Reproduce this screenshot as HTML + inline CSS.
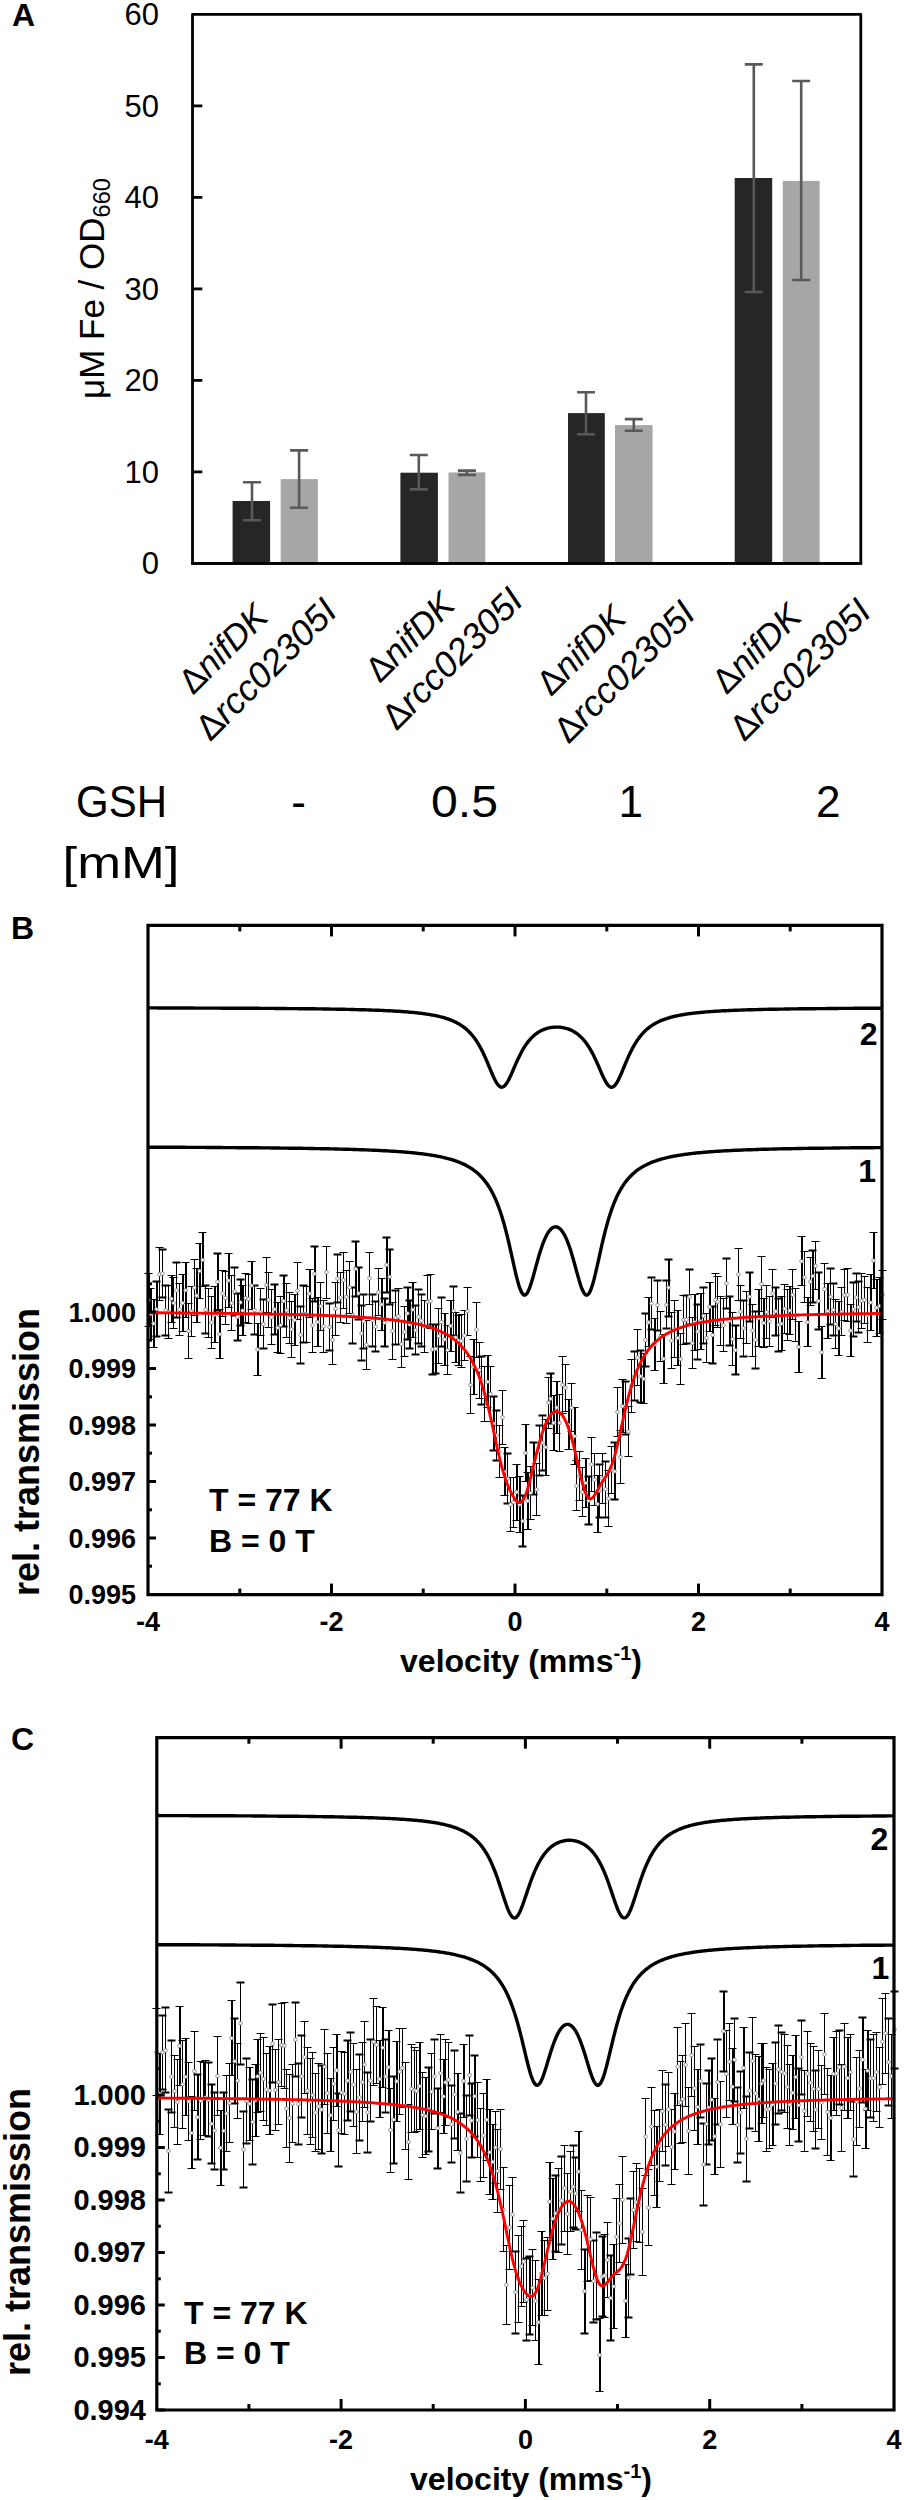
<!DOCTYPE html><html><head><meta charset="utf-8"><style>html,body{margin:0;padding:0;background:#fff;overflow:hidden;}svg{display:block}</style></head><body>
<svg width="904" height="2500" viewBox="0 0 904 2500">
<rect width="904" height="2500" fill="#fff"/>
<path d="M192.5 14.4 H860.8 V563.4 H192.5 Z" fill="none" stroke="#000" stroke-width="2.8" stroke-linejoin="round"/>
<line x1="192.5" y1="471.9" x2="202.3" y2="471.9" stroke="#000" stroke-width="2.8"/>
<line x1="192.5" y1="380.4" x2="202.3" y2="380.4" stroke="#000" stroke-width="2.8"/>
<line x1="192.5" y1="288.9" x2="202.3" y2="288.9" stroke="#000" stroke-width="2.8"/>
<line x1="192.5" y1="197.4" x2="202.3" y2="197.4" stroke="#000" stroke-width="2.8"/>
<line x1="192.5" y1="105.9" x2="202.3" y2="105.9" stroke="#000" stroke-width="2.8"/>
<text x="159" y="574.4" font-size="31" text-anchor="end" font-family='"Liberation Sans", sans-serif'>0</text>
<text x="159" y="482.9" font-size="31" text-anchor="end" font-family='"Liberation Sans", sans-serif'>10</text>
<text x="159" y="391.4" font-size="31" text-anchor="end" font-family='"Liberation Sans", sans-serif'>20</text>
<text x="159" y="299.9" font-size="31" text-anchor="end" font-family='"Liberation Sans", sans-serif'>30</text>
<text x="159" y="208.4" font-size="31" text-anchor="end" font-family='"Liberation Sans", sans-serif'>40</text>
<text x="159" y="116.9" font-size="31" text-anchor="end" font-family='"Liberation Sans", sans-serif'>50</text>
<text x="159" y="25.4" font-size="31" text-anchor="end" font-family='"Liberation Sans", sans-serif'>60</text>
<rect x="232.6" y="501.0" width="37.5" height="62.4" fill="#262626"/>
<rect x="280.7" y="479.1" width="37.2" height="84.3" fill="#a6a6a6"/>
<rect x="400.4" y="472.7" width="37.5" height="90.7" fill="#262626"/>
<rect x="448.5" y="472.4" width="36.8" height="91.0" fill="#a6a6a6"/>
<rect x="568.0" y="413.1" width="36.8" height="150.3" fill="#262626"/>
<rect x="615.0" y="425.1" width="37.6" height="138.3" fill="#a6a6a6"/>
<rect x="734.7" y="178.0" width="37.5" height="385.4" fill="#262626"/>
<rect x="782.8" y="180.9" width="36.8" height="382.5" fill="#a6a6a6"/>
<path d="M252.0 482.3 V520.2 M243.0 482.3 H261.0 M243.0 520.2 H261.0" stroke="#595959" stroke-width="2.6" fill="none"/>
<path d="M299.1 450.4 V507.8 M290.1 450.4 H308.1 M290.1 507.8 H308.1" stroke="#595959" stroke-width="2.6" fill="none"/>
<path d="M418.8 455.0 V489.4 M409.8 455.0 H427.8 M409.8 489.4 H427.8" stroke="#595959" stroke-width="2.6" fill="none"/>
<path d="M466.9 470.6 V474.9 M457.9 470.6 H475.9 M457.9 474.9 H475.9" stroke="#595959" stroke-width="2.6" fill="none"/>
<path d="M586.0 392.2 V434.3 M577.0 392.2 H595.0 M577.0 434.3 H595.0" stroke="#595959" stroke-width="2.6" fill="none"/>
<path d="M633.8 419.1 V430.8 M624.8 419.1 H642.8 M624.8 430.8 H642.8" stroke="#595959" stroke-width="2.6" fill="none"/>
<path d="M753.8 64.4 V292.0 M744.8 64.4 H762.8 M744.8 292.0 H762.8" stroke="#595959" stroke-width="2.6" fill="none"/>
<path d="M801.2 81.0 V280.0 M792.2 81.0 H810.2 M792.2 280.0 H810.2" stroke="#595959" stroke-width="2.6" fill="none"/>
<line x1="191.1" y1="563.4" x2="862.2" y2="563.4" stroke="#000" stroke-width="2.8"/>
<text transform="translate(104.3 399) rotate(-90)" font-size="35" font-family='"Liberation Sans", sans-serif'>&#956;M Fe / OD<tspan font-size="23.5" dy="6">660</tspan></text>
<text transform="translate(193.0 695.8) rotate(-45)" font-size="35" font-family='"Liberation Sans", sans-serif'>&#916;<tspan font-style="italic">nifDK</tspan></text>
<text transform="translate(210.3 742.3) rotate(-45)" font-size="36" font-family='"Liberation Sans", sans-serif'>&#916;<tspan font-style="italic">rcc02305I</tspan></text>
<text transform="translate(379.8 684.0) rotate(-45)" font-size="35" font-family='"Liberation Sans", sans-serif'>&#916;<tspan font-style="italic">nifDK</tspan></text>
<text transform="translate(396.4 731.5) rotate(-45)" font-size="36" font-family='"Liberation Sans", sans-serif'>&#916;<tspan font-style="italic">rcc02305I</tspan></text>
<text transform="translate(550.9 697.3) rotate(-45)" font-size="35" font-family='"Liberation Sans", sans-serif'>&#916;<tspan font-style="italic">nifDK</tspan></text>
<text transform="translate(568.6 744.8) rotate(-45)" font-size="36" font-family='"Liberation Sans", sans-serif'>&#916;<tspan font-style="italic">rcc02305I</tspan></text>
<text transform="translate(726.5 695.5) rotate(-45)" font-size="35" font-family='"Liberation Sans", sans-serif'>&#916;<tspan font-style="italic">nifDK</tspan></text>
<text transform="translate(744.2 742.6) rotate(-45)" font-size="36" font-family='"Liberation Sans", sans-serif'>&#916;<tspan font-style="italic">rcc02305I</tspan></text>
<text x="76" y="817" font-size="44" textLength="91" lengthAdjust="spacingAndGlyphs" font-family='"Liberation Sans", sans-serif'>GSH</text>
<text x="62.5" y="878" font-size="44" textLength="117" lengthAdjust="spacingAndGlyphs" font-family='"Liberation Sans", sans-serif'>[mM]</text>
<text x="298.6" y="817" font-size="44" text-anchor="middle" font-family='"Liberation Sans", sans-serif'>-</text>
<text x="431" y="817" font-size="44" textLength="67" lengthAdjust="spacingAndGlyphs" font-family='"Liberation Sans", sans-serif'>0.5</text>
<text x="630.8" y="817" font-size="44" text-anchor="middle" font-family='"Liberation Sans", sans-serif'>1</text>
<text x="828.3" y="817" font-size="44" text-anchor="middle" font-family='"Liberation Sans", sans-serif'>2</text>
<text x="12" y="26" font-size="32" font-weight="bold" font-family='"Liberation Sans", sans-serif'>A</text>
<path d="M159.5 1247.5 V1300.5 M162.5 1249.5 V1297.5 M165.5 1285.5 V1335.5 M168.5 1285.5 V1338.5 M173.5 1277.5 V1328.5 M176.5 1262.5 V1317.5 M179.5 1283.5 V1335.5 M188.5 1303.5 V1358.5 M191.5 1286.5 V1336.5 M194.5 1259.5 V1315.5 M205.5 1285.5 V1333.5 M208.5 1288.5 V1337.5 M211.5 1296.5 V1348.5 M222.5 1270.5 V1316.5 M225.5 1271.5 V1324.5 M231.5 1275.5 V1330.5 M234.5 1267.5 V1315.5 M245.5 1273.5 V1322.5 M248.5 1274.5 V1323.5 M254.5 1285.5 V1334.5 M260.5 1288.5 V1335.5 M263.5 1299.5 V1348.5 M266.5 1257.5 V1312.5 M268.5 1272.5 V1327.5 M271.5 1289.5 V1344.5 M280.5 1296.5 V1353.5 M286.5 1283.5 V1337.5 M289.5 1292.5 V1343.5 M291.5 1301.5 V1357.5 M297.5 1262.5 V1319.5 M300.5 1306.5 V1363.5 M303.5 1285.5 V1342.5 M306.5 1286.5 V1342.5 M312.5 1298.5 V1352.5 M320.5 1282.5 V1330.5 M323.5 1300.5 V1352.5 M326.5 1246.5 V1298.5 M329.5 1303.5 V1350.5 M332.5 1315.5 V1364.5 M335.5 1282.5 V1335.5 M337.5 1254.5 V1302.5 M340.5 1272.5 V1322.5 M343.5 1252.5 V1308.5 M346.5 1270.5 V1323.5 M349.5 1261.5 V1313.5 M352.5 1287.5 V1343.5 M361.5 1305.5 V1360.5 M363.5 1294.5 V1348.5 M366.5 1320.5 V1369.5 M369.5 1252.5 V1304.5 M372.5 1294.5 V1346.5 M375.5 1301.5 V1351.5 M378.5 1268.5 V1315.5 M392.5 1302.5 V1359.5 M395.5 1290.5 V1344.5 M398.5 1288.5 V1344.5 M401.5 1320.5 V1367.5 M404.5 1306.5 V1356.5 M415.5 1305.5 V1354.5 M418.5 1289.5 V1343.5 M421.5 1294.5 V1346.5 M424.5 1300.5 V1352.5 M427.5 1275.5 V1327.5 M430.5 1274.5 V1328.5 M438.5 1308.5 V1363.5 M441.5 1297.5 V1346.5 M447.5 1325.5 V1374.5 M453.5 1286.5 V1335.5 M461.5 1314.5 V1367.5 M464.5 1310.5 V1360.5 M467.5 1287.5 V1335.5 M470.5 1356.5 V1413.5 M476.5 1302.5 V1357.5 M479.5 1342.5 V1398.5 M481.5 1356.5 V1404.5 M484.5 1366.5 V1421.5 M490.5 1366.5 V1421.5 M496.5 1410.5 V1460.5 M499.5 1425.5 V1477.5 M502.5 1390.5 V1444.5 M507.5 1453.5 V1503.5 M510.5 1477.5 V1531.5 M513.5 1477.5 V1527.5 M530.5 1466.5 V1519.5 M536.5 1463.5 V1515.5 M539.5 1425.5 V1475.5 M542.5 1415.5 V1470.5 M548.5 1377.5 V1428.5 M559.5 1394.5 V1451.5 M562.5 1356.5 V1413.5 M565.5 1364.5 V1411.5 M571.5 1383.5 V1431.5 M576.5 1460.5 V1510.5 M579.5 1451.5 V1500.5 M582.5 1467.5 V1516.5 M591.5 1437.5 V1491.5 M594.5 1453.5 V1505.5 M599.5 1464.5 V1517.5 M602.5 1453.5 V1503.5 M605.5 1461.5 V1517.5 M608.5 1470.5 V1526.5 M611.5 1446.5 V1493.5 M617.5 1387.5 V1436.5 M620.5 1430.5 V1483.5 M625.5 1381.5 V1434.5 M628.5 1406.5 V1456.5 M631.5 1359.5 V1412.5 M634.5 1351.5 V1400.5 M637.5 1329.5 V1385.5 M645.5 1313.5 V1366.5 M651.5 1277.5 V1329.5 M657.5 1280.5 V1330.5 M660.5 1311.5 V1361.5 M666.5 1280.5 V1328.5 M671.5 1312.5 V1368.5 M674.5 1300.5 V1357.5 M680.5 1333.5 V1384.5 M683.5 1295.5 V1344.5 M686.5 1295.5 V1343.5 M689.5 1269.5 V1324.5 M692.5 1317.5 V1368.5 M697.5 1304.5 V1359.5 M703.5 1287.5 V1343.5 M706.5 1313.5 V1362.5 M715.5 1273.5 V1325.5 M717.5 1276.5 V1327.5 M720.5 1296.5 V1345.5 M723.5 1298.5 V1351.5 M726.5 1258.5 V1308.5 M732.5 1312.5 V1365.5 M738.5 1248.5 V1300.5 M740.5 1285.5 V1338.5 M743.5 1300.5 V1356.5 M746.5 1291.5 V1343.5 M752.5 1304.5 V1356.5 M755.5 1311.5 V1368.5 M761.5 1256.5 V1311.5 M766.5 1285.5 V1338.5 M769.5 1296.5 V1346.5 M772.5 1269.5 V1317.5 M778.5 1298.5 V1351.5 M784.5 1284.5 V1333.5 M787.5 1289.5 V1340.5 M792.5 1269.5 V1319.5 M795.5 1288.5 V1341.5 M804.5 1251.5 V1302.5 M810.5 1257.5 V1305.5 M815.5 1241.5 V1289.5 M824.5 1263.5 V1314.5 M830.5 1268.5 V1324.5 M833.5 1283.5 V1335.5 M835.5 1299.5 V1348.5 M841.5 1287.5 V1335.5 M844.5 1269.5 V1320.5 M847.5 1268.5 V1321.5 M853.5 1282.5 V1336.5 M856.5 1273.5 V1321.5 M858.5 1281.5 V1332.5 M861.5 1273.5 V1328.5 M864.5 1276.5 V1323.5 M867.5 1287.5 V1342.5 M882.5 1270.5 V1319.5" stroke="#000" stroke-width="1" fill="none" shape-rendering="crispEdges"/>
<path d="M149.0 1273.5 V1326.5 M151.0 1288.5 V1339.5 M154.0 1299.5 V1347.5 M157.0 1281.5 V1336.5 M172.0 1275.5 V1322.5 M183.0 1274.5 V1331.5 M186.0 1262.5 V1317.5 M197.0 1268.5 V1322.5 M200.0 1243.5 V1298.5 M203.0 1232.5 V1286.5 M215.0 1286.5 V1342.5 M218.0 1253.5 V1310.5 M220.0 1309.5 V1358.5 M229.0 1253.5 V1307.5 M238.0 1293.5 V1340.5 M241.0 1279.5 V1325.5 M243.0 1285.5 V1335.5 M252.0 1261.5 V1309.5 M258.0 1323.5 V1375.5 M275.0 1284.5 V1334.5 M278.0 1302.5 V1352.5 M284.0 1275.5 V1326.5 M295.0 1294.5 V1345.5 M310.0 1269.5 V1317.5 M315.0 1246.5 V1301.5 M318.0 1297.5 V1346.5 M356.0 1241.5 V1296.5 M359.0 1267.5 V1319.5 M382.0 1278.5 V1330.5 M385.0 1298.5 V1346.5 M387.0 1237.5 V1292.5 M390.0 1249.5 V1304.5 M408.0 1287.5 V1339.5 M410.0 1300.5 V1348.5 M413.0 1282.5 V1337.5 M433.0 1324.5 V1374.5 M436.0 1324.5 V1373.5 M445.0 1313.5 V1365.5 M451.0 1300.5 V1351.5 M456.0 1312.5 V1362.5 M459.0 1315.5 V1365.5 M474.0 1339.5 V1394.5 M488.0 1355.5 V1407.5 M494.0 1396.5 V1450.5 M505.0 1447.5 V1495.5 M517.0 1464.5 V1520.5 M520.0 1476.5 V1532.5 M523.0 1495.5 V1546.5 M526.0 1424.5 V1481.5 M528.0 1472.5 V1529.5 M534.0 1442.5 V1494.5 M546.0 1419.5 V1475.5 M551.0 1373.5 V1423.5 M554.0 1395.5 V1450.5 M557.0 1381.5 V1433.5 M569.0 1399.5 V1449.5 M575.0 1407.5 V1464.5 M586.0 1458.5 V1507.5 M589.0 1476.5 V1524.5 M598.0 1475.5 V1532.5 M615.0 1442.5 V1499.5 M623.0 1379.5 V1432.5 M641.0 1350.5 V1402.5 M644.0 1353.5 V1403.5 M649.0 1297.5 V1346.5 M655.0 1318.5 V1370.5 M664.0 1334.5 V1383.5 M669.0 1259.5 V1316.5 M678.0 1310.5 V1365.5 M695.0 1294.5 V1350.5 M701.0 1293.5 V1349.5 M710.0 1282.5 V1331.5 M713.0 1306.5 V1363.5 M730.0 1296.5 V1345.5 M736.0 1325.5 V1374.5 M750.0 1272.5 V1321.5 M759.0 1289.5 V1346.5 M764.0 1298.5 V1347.5 M776.0 1287.5 V1335.5 M782.0 1296.5 V1350.5 M790.0 1286.5 V1334.5 M799.0 1321.5 V1372.5 M802.0 1236.5 V1285.5 M808.0 1297.5 V1346.5 M813.0 1250.5 V1302.5 M819.0 1272.5 V1329.5 M822.0 1326.5 V1378.5 M828.0 1283.5 V1338.5 M839.0 1301.5 V1355.5 M851.0 1304.5 V1356.5 M871.0 1274.5 V1330.5 M874.0 1232.5 V1288.5 M877.0 1279.5 V1336.5 M880.0 1277.5 V1333.5" stroke="#000" stroke-width="2" fill="none" shape-rendering="crispEdges"/>
<path d="M144.5 1273.5 H152.5 M144.5 1326.5 H152.5 M146.5 1288.5 H154.5 M146.5 1339.5 H154.5 M149.5 1299.5 H157.5 M149.5 1347.5 H157.5 M155.5 1247.5 H163.5 M155.5 1300.5 H163.5 M164.5 1285.5 H172.5 M164.5 1338.5 H172.5 M167.5 1275.5 H175.5 M167.5 1322.5 H175.5 M169.5 1277.5 H177.5 M169.5 1328.5 H177.5 M175.5 1283.5 H183.5 M175.5 1335.5 H183.5 M178.5 1274.5 H186.5 M178.5 1331.5 H186.5 M181.5 1262.5 H189.5 M181.5 1317.5 H189.5 M184.5 1303.5 H192.5 M184.5 1358.5 H192.5 M187.5 1286.5 H195.5 M187.5 1336.5 H195.5 M190.5 1259.5 H198.5 M190.5 1315.5 H198.5 M192.5 1268.5 H200.5 M192.5 1322.5 H200.5 M195.5 1243.5 H203.5 M195.5 1298.5 H203.5 M198.5 1232.5 H206.5 M198.5 1286.5 H206.5 M204.5 1288.5 H212.5 M204.5 1337.5 H212.5 M207.5 1296.5 H215.5 M207.5 1348.5 H215.5 M210.5 1286.5 H218.5 M210.5 1342.5 H218.5 M215.5 1309.5 H223.5 M215.5 1358.5 H223.5 M218.5 1270.5 H226.5 M218.5 1316.5 H226.5 M221.5 1271.5 H229.5 M221.5 1324.5 H229.5 M224.5 1253.5 H232.5 M224.5 1307.5 H232.5 M227.5 1275.5 H235.5 M227.5 1330.5 H235.5 M238.5 1285.5 H246.5 M238.5 1335.5 H246.5 M241.5 1273.5 H249.5 M241.5 1322.5 H249.5 M244.5 1274.5 H252.5 M244.5 1323.5 H252.5 M247.5 1261.5 H255.5 M247.5 1309.5 H255.5 M253.5 1323.5 H261.5 M253.5 1375.5 H261.5 M256.5 1288.5 H264.5 M256.5 1335.5 H264.5 M262.5 1257.5 H270.5 M262.5 1312.5 H270.5 M264.5 1272.5 H272.5 M264.5 1327.5 H272.5 M267.5 1289.5 H275.5 M267.5 1344.5 H275.5 M273.5 1302.5 H281.5 M273.5 1352.5 H281.5 M276.5 1296.5 H284.5 M276.5 1353.5 H284.5 M282.5 1283.5 H290.5 M282.5 1337.5 H290.5 M285.5 1292.5 H293.5 M285.5 1343.5 H293.5 M287.5 1301.5 H295.5 M287.5 1357.5 H295.5 M290.5 1294.5 H298.5 M290.5 1345.5 H298.5 M293.5 1262.5 H301.5 M293.5 1319.5 H301.5 M302.5 1286.5 H310.5 M302.5 1342.5 H310.5 M305.5 1269.5 H313.5 M305.5 1317.5 H313.5 M308.5 1298.5 H316.5 M308.5 1352.5 H316.5 M313.5 1297.5 H321.5 M313.5 1346.5 H321.5 M316.5 1282.5 H324.5 M316.5 1330.5 H324.5 M319.5 1300.5 H327.5 M319.5 1352.5 H327.5 M322.5 1246.5 H330.5 M322.5 1298.5 H330.5 M328.5 1315.5 H336.5 M328.5 1364.5 H336.5 M331.5 1282.5 H339.5 M331.5 1335.5 H339.5 M336.5 1272.5 H344.5 M336.5 1322.5 H344.5 M339.5 1252.5 H347.5 M339.5 1308.5 H347.5 M342.5 1270.5 H350.5 M342.5 1323.5 H350.5 M345.5 1261.5 H353.5 M345.5 1313.5 H353.5 M362.5 1320.5 H370.5 M362.5 1369.5 H370.5 M365.5 1252.5 H373.5 M365.5 1304.5 H373.5 M374.5 1268.5 H382.5 M374.5 1315.5 H382.5 M377.5 1278.5 H385.5 M377.5 1330.5 H385.5 M388.5 1302.5 H396.5 M388.5 1359.5 H396.5 M394.5 1288.5 H402.5 M394.5 1344.5 H402.5 M397.5 1320.5 H405.5 M397.5 1367.5 H405.5 M400.5 1306.5 H408.5 M400.5 1356.5 H408.5 M408.5 1282.5 H416.5 M408.5 1337.5 H416.5 M420.5 1300.5 H428.5 M420.5 1352.5 H428.5 M423.5 1275.5 H431.5 M423.5 1327.5 H431.5 M426.5 1274.5 H434.5 M426.5 1328.5 H434.5 M434.5 1308.5 H442.5 M434.5 1363.5 H442.5 M440.5 1313.5 H448.5 M440.5 1365.5 H448.5 M443.5 1325.5 H451.5 M443.5 1374.5 H451.5 M446.5 1300.5 H454.5 M446.5 1351.5 H454.5 M451.5 1312.5 H459.5 M451.5 1362.5 H459.5 M454.5 1315.5 H462.5 M454.5 1365.5 H462.5 M457.5 1314.5 H465.5 M457.5 1367.5 H465.5 M460.5 1310.5 H468.5 M460.5 1360.5 H468.5 M463.5 1287.5 H471.5 M463.5 1335.5 H471.5 M466.5 1356.5 H474.5 M466.5 1413.5 H474.5 M469.5 1339.5 H477.5 M469.5 1394.5 H477.5 M472.5 1302.5 H480.5 M472.5 1357.5 H480.5 M475.5 1342.5 H483.5 M475.5 1398.5 H483.5 M480.5 1366.5 H488.5 M480.5 1421.5 H488.5 M483.5 1355.5 H491.5 M483.5 1407.5 H491.5 M486.5 1366.5 H494.5 M486.5 1421.5 H494.5 M495.5 1425.5 H503.5 M495.5 1477.5 H503.5 M498.5 1390.5 H506.5 M498.5 1444.5 H506.5 M500.5 1447.5 H508.5 M500.5 1495.5 H508.5 M506.5 1477.5 H514.5 M506.5 1531.5 H514.5 M509.5 1477.5 H517.5 M509.5 1527.5 H517.5 M512.5 1464.5 H520.5 M512.5 1520.5 H520.5 M515.5 1476.5 H523.5 M515.5 1532.5 H523.5 M521.5 1424.5 H529.5 M521.5 1481.5 H529.5 M523.5 1472.5 H531.5 M523.5 1529.5 H531.5 M526.5 1466.5 H534.5 M526.5 1519.5 H534.5 M532.5 1463.5 H540.5 M532.5 1515.5 H540.5 M541.5 1419.5 H549.5 M541.5 1475.5 H549.5 M544.5 1377.5 H552.5 M544.5 1428.5 H552.5 M549.5 1395.5 H557.5 M549.5 1450.5 H557.5 M552.5 1381.5 H560.5 M552.5 1433.5 H560.5 M555.5 1394.5 H563.5 M555.5 1451.5 H563.5 M558.5 1356.5 H566.5 M558.5 1413.5 H566.5 M561.5 1364.5 H569.5 M561.5 1411.5 H569.5 M564.5 1399.5 H572.5 M564.5 1449.5 H572.5 M567.5 1383.5 H575.5 M567.5 1431.5 H575.5 M570.5 1407.5 H578.5 M570.5 1464.5 H578.5 M572.5 1460.5 H580.5 M572.5 1510.5 H580.5 M575.5 1451.5 H583.5 M575.5 1500.5 H583.5 M578.5 1467.5 H586.5 M578.5 1516.5 H586.5 M581.5 1458.5 H589.5 M581.5 1507.5 H589.5 M587.5 1437.5 H595.5 M587.5 1491.5 H595.5 M590.5 1453.5 H598.5 M590.5 1505.5 H598.5 M593.5 1475.5 H601.5 M593.5 1532.5 H601.5 M598.5 1453.5 H606.5 M598.5 1503.5 H606.5 M604.5 1470.5 H612.5 M604.5 1526.5 H612.5 M607.5 1446.5 H615.5 M607.5 1493.5 H615.5 M613.5 1387.5 H621.5 M613.5 1436.5 H621.5 M616.5 1430.5 H624.5 M616.5 1483.5 H624.5 M618.5 1379.5 H626.5 M618.5 1432.5 H626.5 M624.5 1406.5 H632.5 M624.5 1456.5 H632.5 M627.5 1359.5 H635.5 M627.5 1412.5 H635.5 M633.5 1329.5 H641.5 M633.5 1385.5 H641.5 M639.5 1353.5 H647.5 M639.5 1403.5 H647.5 M644.5 1297.5 H652.5 M644.5 1346.5 H652.5 M650.5 1318.5 H658.5 M650.5 1370.5 H658.5 M656.5 1311.5 H664.5 M656.5 1361.5 H664.5 M659.5 1334.5 H667.5 M659.5 1383.5 H667.5 M667.5 1312.5 H675.5 M667.5 1368.5 H675.5 M670.5 1300.5 H678.5 M670.5 1357.5 H678.5 M673.5 1310.5 H681.5 M673.5 1365.5 H681.5 M676.5 1333.5 H684.5 M676.5 1384.5 H684.5 M679.5 1295.5 H687.5 M679.5 1344.5 H687.5 M688.5 1317.5 H696.5 M688.5 1368.5 H696.5 M690.5 1294.5 H698.5 M690.5 1350.5 H698.5 M696.5 1293.5 H704.5 M696.5 1349.5 H704.5 M702.5 1313.5 H710.5 M702.5 1362.5 H710.5 M705.5 1282.5 H713.5 M705.5 1331.5 H713.5 M711.5 1273.5 H719.5 M711.5 1325.5 H719.5 M713.5 1276.5 H721.5 M713.5 1327.5 H721.5 M716.5 1296.5 H724.5 M716.5 1345.5 H724.5 M719.5 1298.5 H727.5 M719.5 1351.5 H727.5 M728.5 1312.5 H736.5 M728.5 1365.5 H736.5 M734.5 1248.5 H742.5 M734.5 1300.5 H742.5 M736.5 1285.5 H744.5 M736.5 1338.5 H744.5 M742.5 1291.5 H750.5 M742.5 1343.5 H750.5 M748.5 1304.5 H756.5 M748.5 1356.5 H756.5 M754.5 1289.5 H762.5 M754.5 1346.5 H762.5 M757.5 1256.5 H765.5 M757.5 1311.5 H765.5 M759.5 1298.5 H767.5 M759.5 1347.5 H767.5 M762.5 1285.5 H770.5 M762.5 1338.5 H770.5 M765.5 1296.5 H773.5 M765.5 1346.5 H773.5 M768.5 1269.5 H776.5 M768.5 1317.5 H776.5 M777.5 1296.5 H785.5 M777.5 1350.5 H785.5 M780.5 1284.5 H788.5 M780.5 1333.5 H788.5 M783.5 1289.5 H791.5 M783.5 1340.5 H791.5 M785.5 1286.5 H793.5 M785.5 1334.5 H793.5 M788.5 1269.5 H796.5 M788.5 1319.5 H796.5 M791.5 1288.5 H799.5 M791.5 1341.5 H799.5 M794.5 1321.5 H802.5 M794.5 1372.5 H802.5 M797.5 1236.5 H805.5 M797.5 1285.5 H805.5 M800.5 1251.5 H808.5 M800.5 1302.5 H808.5 M803.5 1297.5 H811.5 M803.5 1346.5 H811.5 M806.5 1257.5 H814.5 M806.5 1305.5 H814.5 M811.5 1241.5 H819.5 M811.5 1289.5 H819.5 M817.5 1326.5 H825.5 M817.5 1378.5 H825.5 M820.5 1263.5 H828.5 M820.5 1314.5 H828.5 M823.5 1283.5 H831.5 M823.5 1338.5 H831.5 M831.5 1299.5 H839.5 M831.5 1348.5 H839.5 M834.5 1301.5 H842.5 M834.5 1355.5 H842.5 M837.5 1287.5 H845.5 M837.5 1335.5 H845.5 M840.5 1269.5 H848.5 M840.5 1320.5 H848.5 M843.5 1268.5 H851.5 M843.5 1321.5 H851.5 M846.5 1304.5 H854.5 M846.5 1356.5 H854.5 M857.5 1273.5 H865.5 M857.5 1328.5 H865.5 M860.5 1276.5 H868.5 M860.5 1323.5 H868.5 M863.5 1287.5 H871.5 M863.5 1342.5 H871.5 M866.5 1274.5 H874.5 M866.5 1330.5 H874.5 M869.5 1232.5 H877.5 M869.5 1288.5 H877.5 M872.5 1279.5 H880.5 M872.5 1336.5 H880.5 M875.5 1277.5 H883.5 M875.5 1333.5 H883.5 M878.5 1270.5 H886.5 M878.5 1319.5 H886.5" stroke="#000" stroke-width="1.2" fill="none"/>
<path d="M152.5 1281.5 H160.5 M152.5 1336.5 H160.5 M158.5 1249.5 H166.5 M158.5 1297.5 H166.5 M161.5 1285.5 H169.5 M161.5 1335.5 H169.5 M172.5 1262.5 H180.5 M172.5 1317.5 H180.5 M201.5 1285.5 H209.5 M201.5 1333.5 H209.5 M213.5 1253.5 H221.5 M213.5 1310.5 H221.5 M230.5 1267.5 H238.5 M230.5 1315.5 H238.5 M233.5 1293.5 H241.5 M233.5 1340.5 H241.5 M236.5 1279.5 H244.5 M236.5 1325.5 H244.5 M250.5 1285.5 H258.5 M250.5 1334.5 H258.5 M259.5 1299.5 H267.5 M259.5 1348.5 H267.5 M270.5 1284.5 H278.5 M270.5 1334.5 H278.5 M279.5 1275.5 H287.5 M279.5 1326.5 H287.5 M296.5 1306.5 H304.5 M296.5 1363.5 H304.5 M299.5 1285.5 H307.5 M299.5 1342.5 H307.5 M310.5 1246.5 H318.5 M310.5 1301.5 H318.5 M325.5 1303.5 H333.5 M325.5 1350.5 H333.5 M333.5 1254.5 H341.5 M333.5 1302.5 H341.5 M348.5 1287.5 H356.5 M348.5 1343.5 H356.5 M351.5 1241.5 H359.5 M351.5 1296.5 H359.5 M354.5 1267.5 H362.5 M354.5 1319.5 H362.5 M357.5 1305.5 H365.5 M357.5 1360.5 H365.5 M359.5 1294.5 H367.5 M359.5 1348.5 H367.5 M368.5 1294.5 H376.5 M368.5 1346.5 H376.5 M371.5 1301.5 H379.5 M371.5 1351.5 H379.5 M380.5 1298.5 H388.5 M380.5 1346.5 H388.5 M382.5 1237.5 H390.5 M382.5 1292.5 H390.5 M385.5 1249.5 H393.5 M385.5 1304.5 H393.5 M391.5 1290.5 H399.5 M391.5 1344.5 H399.5 M403.5 1287.5 H411.5 M403.5 1339.5 H411.5 M405.5 1300.5 H413.5 M405.5 1348.5 H413.5 M411.5 1305.5 H419.5 M411.5 1354.5 H419.5 M414.5 1289.5 H422.5 M414.5 1343.5 H422.5 M417.5 1294.5 H425.5 M417.5 1346.5 H425.5 M428.5 1324.5 H436.5 M428.5 1374.5 H436.5 M431.5 1324.5 H439.5 M431.5 1373.5 H439.5 M437.5 1297.5 H445.5 M437.5 1346.5 H445.5 M449.5 1286.5 H457.5 M449.5 1335.5 H457.5 M477.5 1356.5 H485.5 M477.5 1404.5 H485.5 M489.5 1396.5 H497.5 M489.5 1450.5 H497.5 M492.5 1410.5 H500.5 M492.5 1460.5 H500.5 M503.5 1453.5 H511.5 M503.5 1503.5 H511.5 M518.5 1495.5 H526.5 M518.5 1546.5 H526.5 M529.5 1442.5 H537.5 M529.5 1494.5 H537.5 M535.5 1425.5 H543.5 M535.5 1475.5 H543.5 M538.5 1415.5 H546.5 M538.5 1470.5 H546.5 M546.5 1373.5 H554.5 M546.5 1423.5 H554.5 M584.5 1476.5 H592.5 M584.5 1524.5 H592.5 M595.5 1464.5 H603.5 M595.5 1517.5 H603.5 M601.5 1461.5 H609.5 M601.5 1517.5 H609.5 M610.5 1442.5 H618.5 M610.5 1499.5 H618.5 M621.5 1381.5 H629.5 M621.5 1434.5 H629.5 M630.5 1351.5 H638.5 M630.5 1400.5 H638.5 M636.5 1350.5 H644.5 M636.5 1402.5 H644.5 M641.5 1313.5 H649.5 M641.5 1366.5 H649.5 M647.5 1277.5 H655.5 M647.5 1329.5 H655.5 M653.5 1280.5 H661.5 M653.5 1330.5 H661.5 M662.5 1280.5 H670.5 M662.5 1328.5 H670.5 M664.5 1259.5 H672.5 M664.5 1316.5 H672.5 M682.5 1295.5 H690.5 M682.5 1343.5 H690.5 M685.5 1269.5 H693.5 M685.5 1324.5 H693.5 M693.5 1304.5 H701.5 M693.5 1359.5 H701.5 M699.5 1287.5 H707.5 M699.5 1343.5 H707.5 M708.5 1306.5 H716.5 M708.5 1363.5 H716.5 M722.5 1258.5 H730.5 M722.5 1308.5 H730.5 M725.5 1296.5 H733.5 M725.5 1345.5 H733.5 M731.5 1325.5 H739.5 M731.5 1374.5 H739.5 M739.5 1300.5 H747.5 M739.5 1356.5 H747.5 M745.5 1272.5 H753.5 M745.5 1321.5 H753.5 M751.5 1311.5 H759.5 M751.5 1368.5 H759.5 M771.5 1287.5 H779.5 M771.5 1335.5 H779.5 M774.5 1298.5 H782.5 M774.5 1351.5 H782.5 M808.5 1250.5 H816.5 M808.5 1302.5 H816.5 M814.5 1272.5 H822.5 M814.5 1329.5 H822.5 M826.5 1268.5 H834.5 M826.5 1324.5 H834.5 M829.5 1283.5 H837.5 M829.5 1335.5 H837.5 M849.5 1282.5 H857.5 M849.5 1336.5 H857.5 M852.5 1273.5 H860.5 M852.5 1321.5 H860.5 M854.5 1281.5 H862.5 M854.5 1332.5 H862.5" stroke="#000" stroke-width="2" fill="none"/>
<g fill="#fff" stroke="#666" stroke-width="0.7"><circle cx="148.5" cy="1300.2" r="1.8"/><circle cx="150.5" cy="1314.0" r="1.8"/><circle cx="153.5" cy="1323.5" r="1.8"/><circle cx="156.5" cy="1309.3" r="1.8"/><circle cx="159.5" cy="1274.4" r="1.8"/><circle cx="162.5" cy="1273.5" r="1.8"/><circle cx="165.5" cy="1310.4" r="1.8"/><circle cx="168.5" cy="1312.0" r="1.8"/><circle cx="171.5" cy="1298.7" r="1.8"/><circle cx="173.5" cy="1303.0" r="1.8"/><circle cx="176.5" cy="1290.4" r="1.8"/><circle cx="179.5" cy="1309.4" r="1.8"/><circle cx="182.5" cy="1303.1" r="1.8"/><circle cx="185.5" cy="1290.3" r="1.8"/><circle cx="188.5" cy="1331.0" r="1.8"/><circle cx="191.5" cy="1311.6" r="1.8"/><circle cx="194.5" cy="1287.7" r="1.8"/><circle cx="196.5" cy="1295.6" r="1.8"/><circle cx="199.5" cy="1271.0" r="1.8"/><circle cx="202.5" cy="1259.9" r="1.8"/><circle cx="205.5" cy="1309.6" r="1.8"/><circle cx="208.5" cy="1313.1" r="1.8"/><circle cx="211.5" cy="1322.5" r="1.8"/><circle cx="214.5" cy="1314.8" r="1.8"/><circle cx="217.5" cy="1281.7" r="1.8"/><circle cx="219.5" cy="1334.3" r="1.8"/><circle cx="222.5" cy="1293.5" r="1.8"/><circle cx="225.5" cy="1298.0" r="1.8"/><circle cx="228.5" cy="1280.6" r="1.8"/><circle cx="231.5" cy="1303.1" r="1.8"/><circle cx="234.5" cy="1291.4" r="1.8"/><circle cx="237.5" cy="1316.9" r="1.8"/><circle cx="240.5" cy="1302.4" r="1.8"/><circle cx="242.5" cy="1310.6" r="1.8"/><circle cx="245.5" cy="1298.0" r="1.8"/><circle cx="248.5" cy="1299.0" r="1.8"/><circle cx="251.5" cy="1285.5" r="1.8"/><circle cx="254.5" cy="1310.2" r="1.8"/><circle cx="257.5" cy="1349.6" r="1.8"/><circle cx="260.5" cy="1312.3" r="1.8"/><circle cx="263.5" cy="1324.1" r="1.8"/><circle cx="266.5" cy="1285.0" r="1.8"/><circle cx="268.5" cy="1299.9" r="1.8"/><circle cx="271.5" cy="1317.3" r="1.8"/><circle cx="274.5" cy="1309.3" r="1.8"/><circle cx="277.5" cy="1327.7" r="1.8"/><circle cx="280.5" cy="1325.2" r="1.8"/><circle cx="283.5" cy="1301.1" r="1.8"/><circle cx="286.5" cy="1310.4" r="1.8"/><circle cx="289.5" cy="1318.0" r="1.8"/><circle cx="291.5" cy="1329.3" r="1.8"/><circle cx="294.5" cy="1320.1" r="1.8"/><circle cx="297.5" cy="1290.7" r="1.8"/><circle cx="300.5" cy="1334.9" r="1.8"/><circle cx="303.5" cy="1314.0" r="1.8"/><circle cx="306.5" cy="1314.3" r="1.8"/><circle cx="309.5" cy="1293.6" r="1.8"/><circle cx="312.5" cy="1325.4" r="1.8"/><circle cx="314.5" cy="1273.8" r="1.8"/><circle cx="317.5" cy="1322.0" r="1.8"/><circle cx="320.5" cy="1306.3" r="1.8"/><circle cx="323.5" cy="1326.2" r="1.8"/><circle cx="326.5" cy="1272.3" r="1.8"/><circle cx="329.5" cy="1327.0" r="1.8"/><circle cx="332.5" cy="1340.1" r="1.8"/><circle cx="335.5" cy="1308.8" r="1.8"/><circle cx="337.5" cy="1278.5" r="1.8"/><circle cx="340.5" cy="1297.5" r="1.8"/><circle cx="343.5" cy="1280.2" r="1.8"/><circle cx="346.5" cy="1297.0" r="1.8"/><circle cx="349.5" cy="1287.4" r="1.8"/><circle cx="352.5" cy="1315.4" r="1.8"/><circle cx="355.5" cy="1268.9" r="1.8"/><circle cx="358.5" cy="1293.4" r="1.8"/><circle cx="361.5" cy="1333.4" r="1.8"/><circle cx="363.5" cy="1321.4" r="1.8"/><circle cx="366.5" cy="1344.7" r="1.8"/><circle cx="369.5" cy="1278.4" r="1.8"/><circle cx="372.5" cy="1320.3" r="1.8"/><circle cx="375.5" cy="1326.7" r="1.8"/><circle cx="378.5" cy="1292.4" r="1.8"/><circle cx="381.5" cy="1304.5" r="1.8"/><circle cx="384.5" cy="1322.8" r="1.8"/><circle cx="386.5" cy="1264.9" r="1.8"/><circle cx="389.5" cy="1276.9" r="1.8"/><circle cx="392.5" cy="1330.9" r="1.8"/><circle cx="395.5" cy="1317.9" r="1.8"/><circle cx="398.5" cy="1316.4" r="1.8"/><circle cx="401.5" cy="1344.1" r="1.8"/><circle cx="404.5" cy="1331.7" r="1.8"/><circle cx="407.5" cy="1313.4" r="1.8"/><circle cx="409.5" cy="1324.4" r="1.8"/><circle cx="412.5" cy="1309.7" r="1.8"/><circle cx="415.5" cy="1330.3" r="1.8"/><circle cx="418.5" cy="1316.8" r="1.8"/><circle cx="421.5" cy="1320.7" r="1.8"/><circle cx="424.5" cy="1326.3" r="1.8"/><circle cx="427.5" cy="1301.7" r="1.8"/><circle cx="430.5" cy="1301.3" r="1.8"/><circle cx="432.5" cy="1349.4" r="1.8"/><circle cx="435.5" cy="1348.9" r="1.8"/><circle cx="438.5" cy="1336.1" r="1.8"/><circle cx="441.5" cy="1322.0" r="1.8"/><circle cx="444.5" cy="1339.4" r="1.8"/><circle cx="447.5" cy="1350.2" r="1.8"/><circle cx="450.5" cy="1325.9" r="1.8"/><circle cx="453.5" cy="1310.8" r="1.8"/><circle cx="455.5" cy="1337.6" r="1.8"/><circle cx="458.5" cy="1340.6" r="1.8"/><circle cx="461.5" cy="1340.9" r="1.8"/><circle cx="464.5" cy="1335.6" r="1.8"/><circle cx="467.5" cy="1311.3" r="1.8"/><circle cx="470.5" cy="1385.0" r="1.8"/><circle cx="473.5" cy="1366.8" r="1.8"/><circle cx="476.5" cy="1329.6" r="1.8"/><circle cx="479.5" cy="1370.1" r="1.8"/><circle cx="481.5" cy="1380.2" r="1.8"/><circle cx="484.5" cy="1394.0" r="1.8"/><circle cx="487.5" cy="1381.8" r="1.8"/><circle cx="490.5" cy="1394.1" r="1.8"/><circle cx="493.5" cy="1423.6" r="1.8"/><circle cx="496.5" cy="1435.6" r="1.8"/><circle cx="499.5" cy="1451.4" r="1.8"/><circle cx="502.5" cy="1417.4" r="1.8"/><circle cx="504.5" cy="1471.8" r="1.8"/><circle cx="507.5" cy="1478.8" r="1.8"/><circle cx="510.5" cy="1504.5" r="1.8"/><circle cx="513.5" cy="1502.2" r="1.8"/><circle cx="516.5" cy="1492.1" r="1.8"/><circle cx="519.5" cy="1504.5" r="1.8"/><circle cx="522.5" cy="1521.1" r="1.8"/><circle cx="525.5" cy="1453.0" r="1.8"/><circle cx="527.5" cy="1500.9" r="1.8"/><circle cx="530.5" cy="1493.0" r="1.8"/><circle cx="533.5" cy="1468.1" r="1.8"/><circle cx="536.5" cy="1489.5" r="1.8"/><circle cx="539.5" cy="1450.4" r="1.8"/><circle cx="542.5" cy="1442.7" r="1.8"/><circle cx="545.5" cy="1447.2" r="1.8"/><circle cx="548.5" cy="1402.7" r="1.8"/><circle cx="550.5" cy="1398.7" r="1.8"/><circle cx="553.5" cy="1422.9" r="1.8"/><circle cx="556.5" cy="1407.6" r="1.8"/><circle cx="559.5" cy="1422.9" r="1.8"/><circle cx="562.5" cy="1384.8" r="1.8"/><circle cx="565.5" cy="1387.9" r="1.8"/><circle cx="568.5" cy="1424.8" r="1.8"/><circle cx="571.5" cy="1407.8" r="1.8"/><circle cx="574.5" cy="1436.3" r="1.8"/><circle cx="576.5" cy="1485.9" r="1.8"/><circle cx="579.5" cy="1476.2" r="1.8"/><circle cx="582.5" cy="1492.3" r="1.8"/><circle cx="585.5" cy="1483.0" r="1.8"/><circle cx="588.5" cy="1500.7" r="1.8"/><circle cx="591.5" cy="1464.4" r="1.8"/><circle cx="594.5" cy="1479.7" r="1.8"/><circle cx="597.5" cy="1504.1" r="1.8"/><circle cx="599.5" cy="1490.7" r="1.8"/><circle cx="602.5" cy="1478.5" r="1.8"/><circle cx="605.5" cy="1489.3" r="1.8"/><circle cx="608.5" cy="1498.6" r="1.8"/><circle cx="611.5" cy="1470.0" r="1.8"/><circle cx="614.5" cy="1471.4" r="1.8"/><circle cx="617.5" cy="1412.1" r="1.8"/><circle cx="620.5" cy="1457.2" r="1.8"/><circle cx="622.5" cy="1406.2" r="1.8"/><circle cx="625.5" cy="1407.8" r="1.8"/><circle cx="628.5" cy="1431.6" r="1.8"/><circle cx="631.5" cy="1386.0" r="1.8"/><circle cx="634.5" cy="1376.2" r="1.8"/><circle cx="637.5" cy="1357.6" r="1.8"/><circle cx="640.5" cy="1376.3" r="1.8"/><circle cx="643.5" cy="1378.9" r="1.8"/><circle cx="645.5" cy="1339.9" r="1.8"/><circle cx="648.5" cy="1322.4" r="1.8"/><circle cx="651.5" cy="1303.5" r="1.8"/><circle cx="654.5" cy="1344.6" r="1.8"/><circle cx="657.5" cy="1305.1" r="1.8"/><circle cx="660.5" cy="1336.4" r="1.8"/><circle cx="663.5" cy="1358.8" r="1.8"/><circle cx="666.5" cy="1304.8" r="1.8"/><circle cx="668.5" cy="1287.6" r="1.8"/><circle cx="671.5" cy="1340.6" r="1.8"/><circle cx="674.5" cy="1329.2" r="1.8"/><circle cx="677.5" cy="1338.0" r="1.8"/><circle cx="680.5" cy="1359.1" r="1.8"/><circle cx="683.5" cy="1320.0" r="1.8"/><circle cx="686.5" cy="1319.7" r="1.8"/><circle cx="689.5" cy="1296.9" r="1.8"/><circle cx="692.5" cy="1343.1" r="1.8"/><circle cx="694.5" cy="1322.2" r="1.8"/><circle cx="697.5" cy="1331.6" r="1.8"/><circle cx="700.5" cy="1321.3" r="1.8"/><circle cx="703.5" cy="1315.9" r="1.8"/><circle cx="706.5" cy="1338.0" r="1.8"/><circle cx="709.5" cy="1306.9" r="1.8"/><circle cx="712.5" cy="1335.1" r="1.8"/><circle cx="715.5" cy="1299.9" r="1.8"/><circle cx="717.5" cy="1301.9" r="1.8"/><circle cx="720.5" cy="1320.9" r="1.8"/><circle cx="723.5" cy="1325.3" r="1.8"/><circle cx="726.5" cy="1283.5" r="1.8"/><circle cx="729.5" cy="1320.8" r="1.8"/><circle cx="732.5" cy="1339.2" r="1.8"/><circle cx="735.5" cy="1350.2" r="1.8"/><circle cx="738.5" cy="1274.5" r="1.8"/><circle cx="740.5" cy="1311.8" r="1.8"/><circle cx="743.5" cy="1328.3" r="1.8"/><circle cx="746.5" cy="1317.6" r="1.8"/><circle cx="749.5" cy="1296.7" r="1.8"/><circle cx="752.5" cy="1330.5" r="1.8"/><circle cx="755.5" cy="1339.7" r="1.8"/><circle cx="758.5" cy="1318.2" r="1.8"/><circle cx="761.5" cy="1284.2" r="1.8"/><circle cx="763.5" cy="1323.0" r="1.8"/><circle cx="766.5" cy="1312.1" r="1.8"/><circle cx="769.5" cy="1321.3" r="1.8"/><circle cx="772.5" cy="1293.4" r="1.8"/><circle cx="775.5" cy="1311.4" r="1.8"/><circle cx="778.5" cy="1324.7" r="1.8"/><circle cx="781.5" cy="1323.7" r="1.8"/><circle cx="784.5" cy="1308.7" r="1.8"/><circle cx="787.5" cy="1315.1" r="1.8"/><circle cx="789.5" cy="1310.6" r="1.8"/><circle cx="792.5" cy="1294.9" r="1.8"/><circle cx="795.5" cy="1315.1" r="1.8"/><circle cx="798.5" cy="1347.0" r="1.8"/><circle cx="801.5" cy="1261.3" r="1.8"/><circle cx="804.5" cy="1277.3" r="1.8"/><circle cx="807.5" cy="1322.2" r="1.8"/><circle cx="810.5" cy="1281.7" r="1.8"/><circle cx="812.5" cy="1276.1" r="1.8"/><circle cx="815.5" cy="1265.9" r="1.8"/><circle cx="818.5" cy="1301.1" r="1.8"/><circle cx="821.5" cy="1352.4" r="1.8"/><circle cx="824.5" cy="1289.2" r="1.8"/><circle cx="827.5" cy="1311.1" r="1.8"/><circle cx="830.5" cy="1296.8" r="1.8"/><circle cx="833.5" cy="1309.8" r="1.8"/><circle cx="835.5" cy="1324.0" r="1.8"/><circle cx="838.5" cy="1328.5" r="1.8"/><circle cx="841.5" cy="1312.0" r="1.8"/><circle cx="844.5" cy="1295.2" r="1.8"/><circle cx="847.5" cy="1294.9" r="1.8"/><circle cx="850.5" cy="1330.6" r="1.8"/><circle cx="853.5" cy="1309.5" r="1.8"/><circle cx="856.5" cy="1297.4" r="1.8"/><circle cx="858.5" cy="1307.2" r="1.8"/><circle cx="861.5" cy="1300.8" r="1.8"/><circle cx="864.5" cy="1300.0" r="1.8"/><circle cx="867.5" cy="1314.9" r="1.8"/><circle cx="870.5" cy="1302.6" r="1.8"/><circle cx="873.5" cy="1260.5" r="1.8"/><circle cx="876.5" cy="1307.8" r="1.8"/><circle cx="879.5" cy="1305.9" r="1.8"/><circle cx="882.5" cy="1294.9" r="1.8"/></g>
<path d="M148.0 1007.9 L149.0 1007.9 L150.0 1007.9 L151.0 1007.9 L152.0 1007.9 L153.0 1007.9 L154.0 1007.9 L155.0 1007.9 L156.0 1007.9 L157.0 1007.9 L158.0 1008.0 L159.0 1008.0 L160.0 1008.0 L161.0 1008.0 L162.0 1008.0 L163.0 1008.0 L164.0 1008.0 L165.0 1008.0 L166.0 1008.0 L167.0 1008.0 L168.0 1008.0 L169.0 1008.0 L170.0 1008.0 L171.0 1008.0 L172.0 1008.0 L173.0 1008.0 L174.0 1008.0 L175.0 1008.0 L176.0 1008.0 L177.0 1008.0 L178.0 1008.0 L179.0 1008.0 L180.0 1008.0 L181.0 1008.0 L182.0 1008.0 L183.0 1008.0 L184.0 1008.0 L185.0 1008.0 L186.0 1008.0 L187.0 1008.0 L188.0 1008.0 L189.0 1008.0 L190.0 1008.0 L191.0 1008.0 L192.0 1008.0 L193.0 1008.0 L194.0 1008.1 L195.0 1008.1 L196.0 1008.1 L197.0 1008.1 L198.0 1008.1 L199.0 1008.1 L200.0 1008.1 L201.0 1008.1 L202.0 1008.1 L203.0 1008.1 L204.0 1008.1 L205.0 1008.1 L206.0 1008.1 L207.0 1008.1 L208.0 1008.1 L209.0 1008.1 L210.0 1008.1 L211.0 1008.1 L212.0 1008.1 L213.0 1008.1 L214.0 1008.1 L215.0 1008.1 L216.0 1008.1 L217.0 1008.1 L218.0 1008.1 L219.0 1008.1 L220.0 1008.1 L221.0 1008.2 L222.0 1008.2 L223.0 1008.2 L224.0 1008.2 L225.0 1008.2 L226.0 1008.2 L227.0 1008.2 L228.0 1008.2 L229.0 1008.2 L230.0 1008.2 L231.0 1008.2 L232.0 1008.2 L233.0 1008.2 L234.0 1008.2 L235.0 1008.2 L236.0 1008.2 L237.0 1008.2 L238.0 1008.2 L239.0 1008.2 L240.0 1008.2 L241.0 1008.2 L242.0 1008.2 L243.0 1008.3 L244.0 1008.3 L245.0 1008.3 L246.0 1008.3 L247.0 1008.3 L248.0 1008.3 L249.0 1008.3 L250.0 1008.3 L251.0 1008.3 L252.0 1008.3 L253.0 1008.3 L254.0 1008.3 L255.0 1008.3 L256.0 1008.3 L257.0 1008.3 L258.0 1008.3 L259.0 1008.3 L260.0 1008.4 L261.0 1008.4 L262.0 1008.4 L263.0 1008.4 L264.0 1008.4 L265.0 1008.4 L266.0 1008.4 L267.0 1008.4 L268.0 1008.4 L269.0 1008.4 L270.0 1008.4 L271.0 1008.4 L272.0 1008.4 L273.0 1008.4 L274.0 1008.4 L275.0 1008.5 L276.0 1008.5 L277.0 1008.5 L278.0 1008.5 L279.0 1008.5 L280.0 1008.5 L281.0 1008.5 L282.0 1008.5 L283.0 1008.5 L284.0 1008.5 L285.0 1008.5 L286.0 1008.5 L287.0 1008.6 L288.0 1008.6 L289.0 1008.6 L290.0 1008.6 L291.0 1008.6 L292.0 1008.6 L293.0 1008.6 L294.0 1008.6 L295.0 1008.6 L296.0 1008.6 L297.0 1008.6 L298.0 1008.7 L299.0 1008.7 L300.0 1008.7 L301.0 1008.7 L302.0 1008.7 L303.0 1008.7 L304.0 1008.7 L305.0 1008.7 L306.0 1008.7 L307.0 1008.8 L308.0 1008.8 L309.0 1008.8 L310.0 1008.8 L311.0 1008.8 L312.0 1008.8 L313.0 1008.8 L314.0 1008.8 L315.0 1008.8 L316.0 1008.9 L317.0 1008.9 L318.0 1008.9 L319.0 1008.9 L320.0 1008.9 L321.0 1008.9 L322.0 1008.9 L323.0 1009.0 L324.0 1009.0 L325.0 1009.0 L326.0 1009.0 L327.0 1009.0 L328.0 1009.0 L329.0 1009.0 L330.0 1009.1 L331.0 1009.1 L332.0 1009.1 L333.0 1009.1 L334.0 1009.1 L335.0 1009.1 L336.0 1009.2 L337.0 1009.2 L338.0 1009.2 L339.0 1009.2 L340.0 1009.2 L341.0 1009.3 L342.0 1009.3 L343.0 1009.3 L344.0 1009.3 L345.0 1009.3 L346.0 1009.4 L347.0 1009.4 L348.0 1009.4 L349.0 1009.4 L350.0 1009.4 L351.0 1009.5 L352.0 1009.5 L353.0 1009.5 L354.0 1009.5 L355.0 1009.6 L356.0 1009.6 L357.0 1009.6 L358.0 1009.6 L359.0 1009.7 L360.0 1009.7 L361.0 1009.7 L362.0 1009.7 L363.0 1009.8 L364.0 1009.8 L365.0 1009.8 L366.0 1009.9 L367.0 1009.9 L368.0 1009.9 L369.0 1010.0 L370.0 1010.0 L371.0 1010.0 L372.0 1010.1 L373.0 1010.1 L374.0 1010.1 L375.0 1010.2 L376.0 1010.2 L377.0 1010.2 L378.0 1010.3 L379.0 1010.3 L380.0 1010.4 L381.0 1010.4 L382.0 1010.4 L383.0 1010.5 L384.0 1010.5 L385.0 1010.6 L386.0 1010.6 L387.0 1010.7 L388.0 1010.7 L389.0 1010.8 L390.0 1010.8 L391.0 1010.9 L392.0 1010.9 L393.0 1011.0 L394.0 1011.0 L395.0 1011.1 L396.0 1011.2 L397.0 1011.2 L398.0 1011.3 L399.0 1011.3 L400.0 1011.4 L401.0 1011.5 L402.0 1011.5 L403.0 1011.6 L404.0 1011.7 L405.0 1011.8 L406.0 1011.8 L407.0 1011.9 L408.0 1012.0 L409.0 1012.1 L410.0 1012.2 L411.0 1012.3 L412.0 1012.4 L413.0 1012.4 L414.0 1012.5 L415.0 1012.6 L416.0 1012.7 L417.0 1012.9 L418.0 1013.0 L419.0 1013.1 L420.0 1013.2 L421.0 1013.3 L422.0 1013.4 L423.0 1013.6 L424.0 1013.7 L425.0 1013.8 L426.0 1014.0 L427.0 1014.1 L428.0 1014.3 L429.0 1014.4 L430.0 1014.6 L431.0 1014.8 L432.0 1015.0 L433.0 1015.1 L434.0 1015.3 L435.0 1015.5 L436.0 1015.7 L437.0 1016.0 L438.0 1016.2 L439.0 1016.4 L440.0 1016.7 L441.0 1016.9 L442.0 1017.2 L443.0 1017.4 L444.0 1017.7 L445.0 1018.0 L446.0 1018.3 L447.0 1018.7 L448.0 1019.0 L449.0 1019.3 L450.0 1019.7 L451.0 1020.1 L452.0 1020.5 L453.0 1020.9 L454.0 1021.4 L455.0 1021.9 L456.0 1022.3 L457.0 1022.9 L458.0 1023.4 L459.0 1024.0 L460.0 1024.6 L461.0 1025.2 L462.0 1025.9 L463.0 1026.6 L464.0 1027.3 L465.0 1028.1 L466.0 1028.9 L467.0 1029.8 L468.0 1030.7 L469.0 1031.7 L470.0 1032.7 L471.0 1033.8 L472.0 1035.0 L473.0 1036.2 L474.0 1037.5 L475.0 1038.8 L476.0 1040.3 L477.0 1041.8 L478.0 1043.4 L479.0 1045.1 L480.0 1046.8 L481.0 1048.7 L482.0 1050.6 L483.0 1052.6 L484.0 1054.8 L485.0 1056.9 L486.0 1059.2 L487.0 1061.5 L488.0 1063.9 L489.0 1066.3 L490.0 1068.7 L491.0 1071.1 L492.0 1073.5 L493.0 1075.8 L494.0 1078.0 L495.0 1080.0 L496.0 1081.8 L497.0 1083.5 L498.0 1084.8 L499.0 1085.9 L500.0 1086.7 L501.0 1087.1 L502.0 1087.2 L503.0 1086.9 L504.0 1086.3 L505.0 1085.4 L506.0 1084.2 L507.0 1082.7 L508.0 1081.0 L509.0 1079.1 L510.0 1077.0 L511.0 1074.9 L512.0 1072.6 L513.0 1070.3 L514.0 1068.0 L515.0 1065.7 L516.0 1063.4 L517.0 1061.2 L518.0 1059.0 L519.0 1056.9 L520.0 1054.9 L521.0 1053.0 L522.0 1051.1 L523.0 1049.4 L524.0 1047.7 L525.0 1046.1 L526.0 1044.6 L527.0 1043.2 L528.0 1041.9 L529.0 1040.7 L530.0 1039.5 L531.0 1038.4 L532.0 1037.4 L533.0 1036.4 L534.0 1035.5 L535.0 1034.7 L536.0 1033.9 L537.0 1033.2 L538.0 1032.5 L539.0 1031.9 L540.0 1031.3 L541.0 1030.8 L542.0 1030.3 L543.0 1029.8 L544.0 1029.4 L545.0 1029.1 L546.0 1028.7 L547.0 1028.4 L548.0 1028.1 L549.0 1027.9 L550.0 1027.7 L551.0 1027.5 L552.0 1027.4 L553.0 1027.3 L554.0 1027.2 L555.0 1027.1 L556.0 1027.1 L557.0 1027.1 L558.0 1027.1 L559.0 1027.1 L560.0 1027.2 L561.0 1027.3 L562.0 1027.5 L563.0 1027.6 L564.0 1027.8 L565.0 1028.1 L566.0 1028.3 L567.0 1028.6 L568.0 1028.9 L569.0 1029.3 L570.0 1029.7 L571.0 1030.1 L572.0 1030.6 L573.0 1031.1 L574.0 1031.7 L575.0 1032.3 L576.0 1033.0 L577.0 1033.7 L578.0 1034.4 L579.0 1035.3 L580.0 1036.1 L581.0 1037.1 L582.0 1038.1 L583.0 1039.2 L584.0 1040.3 L585.0 1041.5 L586.0 1042.8 L587.0 1044.2 L588.0 1045.7 L589.0 1047.2 L590.0 1048.9 L591.0 1050.6 L592.0 1052.4 L593.0 1054.3 L594.0 1056.3 L595.0 1058.4 L596.0 1060.5 L597.0 1062.7 L598.0 1065.0 L599.0 1067.3 L600.0 1069.6 L601.0 1071.9 L602.0 1074.2 L603.0 1076.4 L604.0 1078.5 L605.0 1080.4 L606.0 1082.2 L607.0 1083.8 L608.0 1085.1 L609.0 1086.1 L610.0 1086.8 L611.0 1087.2 L612.0 1087.2 L613.0 1086.8 L614.0 1086.2 L615.0 1085.2 L616.0 1083.9 L617.0 1082.4 L618.0 1080.6 L619.0 1078.6 L620.0 1076.4 L621.0 1074.2 L622.0 1071.8 L623.0 1069.4 L624.0 1067.0 L625.0 1064.6 L626.0 1062.2 L627.0 1059.9 L628.0 1057.6 L629.0 1055.4 L630.0 1053.3 L631.0 1051.2 L632.0 1049.3 L633.0 1047.4 L634.0 1045.6 L635.0 1043.9 L636.0 1042.3 L637.0 1040.7 L638.0 1039.3 L639.0 1037.9 L640.0 1036.6 L641.0 1035.3 L642.0 1034.2 L643.0 1033.1 L644.0 1032.0 L645.0 1031.0 L646.0 1030.1 L647.0 1029.2 L648.0 1028.4 L649.0 1027.6 L650.0 1026.8 L651.0 1026.1 L652.0 1025.4 L653.0 1024.8 L654.0 1024.2 L655.0 1023.6 L656.0 1023.0 L657.0 1022.5 L658.0 1022.0 L659.0 1021.5 L660.0 1021.1 L661.0 1020.6 L662.0 1020.2 L663.0 1019.8 L664.0 1019.5 L665.0 1019.1 L666.0 1018.8 L667.0 1018.4 L668.0 1018.1 L669.0 1017.8 L670.0 1017.5 L671.0 1017.2 L672.0 1017.0 L673.0 1016.7 L674.0 1016.5 L675.0 1016.2 L676.0 1016.0 L677.0 1015.8 L678.0 1015.6 L679.0 1015.4 L680.0 1015.2 L681.0 1015.0 L682.0 1014.8 L683.0 1014.7 L684.0 1014.5 L685.0 1014.3 L686.0 1014.2 L687.0 1014.0 L688.0 1013.9 L689.0 1013.7 L690.0 1013.6 L691.0 1013.5 L692.0 1013.4 L693.0 1013.2 L694.0 1013.1 L695.0 1013.0 L696.0 1012.9 L697.0 1012.8 L698.0 1012.7 L699.0 1012.6 L700.0 1012.5 L701.0 1012.4 L702.0 1012.3 L703.0 1012.2 L704.0 1012.1 L705.0 1012.0 L706.0 1011.9 L707.0 1011.9 L708.0 1011.8 L709.0 1011.7 L710.0 1011.6 L711.0 1011.6 L712.0 1011.5 L713.0 1011.4 L714.0 1011.4 L715.0 1011.3 L716.0 1011.2 L717.0 1011.2 L718.0 1011.1 L719.0 1011.1 L720.0 1011.0 L721.0 1010.9 L722.0 1010.9 L723.0 1010.8 L724.0 1010.8 L725.0 1010.7 L726.0 1010.7 L727.0 1010.6 L728.0 1010.6 L729.0 1010.5 L730.0 1010.5 L731.0 1010.5 L732.0 1010.4 L733.0 1010.4 L734.0 1010.3 L735.0 1010.3 L736.0 1010.2 L737.0 1010.2 L738.0 1010.2 L739.0 1010.1 L740.0 1010.1 L741.0 1010.1 L742.0 1010.0 L743.0 1010.0 L744.0 1010.0 L745.0 1009.9 L746.0 1009.9 L747.0 1009.9 L748.0 1009.8 L749.0 1009.8 L750.0 1009.8 L751.0 1009.8 L752.0 1009.7 L753.0 1009.7 L754.0 1009.7 L755.0 1009.6 L756.0 1009.6 L757.0 1009.6 L758.0 1009.6 L759.0 1009.5 L760.0 1009.5 L761.0 1009.5 L762.0 1009.5 L763.0 1009.4 L764.0 1009.4 L765.0 1009.4 L766.0 1009.4 L767.0 1009.4 L768.0 1009.3 L769.0 1009.3 L770.0 1009.3 L771.0 1009.3 L772.0 1009.3 L773.0 1009.2 L774.0 1009.2 L775.0 1009.2 L776.0 1009.2 L777.0 1009.2 L778.0 1009.2 L779.0 1009.1 L780.0 1009.1 L781.0 1009.1 L782.0 1009.1 L783.0 1009.1 L784.0 1009.1 L785.0 1009.0 L786.0 1009.0 L787.0 1009.0 L788.0 1009.0 L789.0 1009.0 L790.0 1009.0 L791.0 1008.9 L792.0 1008.9 L793.0 1008.9 L794.0 1008.9 L795.0 1008.9 L796.0 1008.9 L797.0 1008.9 L798.0 1008.9 L799.0 1008.8 L800.0 1008.8 L801.0 1008.8 L802.0 1008.8 L803.0 1008.8 L804.0 1008.8 L805.0 1008.8 L806.0 1008.8 L807.0 1008.7 L808.0 1008.7 L809.0 1008.7 L810.0 1008.7 L811.0 1008.7 L812.0 1008.7 L813.0 1008.7 L814.0 1008.7 L815.0 1008.7 L816.0 1008.6 L817.0 1008.6 L818.0 1008.6 L819.0 1008.6 L820.0 1008.6 L821.0 1008.6 L822.0 1008.6 L823.0 1008.6 L824.0 1008.6 L825.0 1008.6 L826.0 1008.6 L827.0 1008.5 L828.0 1008.5 L829.0 1008.5 L830.0 1008.5 L831.0 1008.5 L832.0 1008.5 L833.0 1008.5 L834.0 1008.5 L835.0 1008.5 L836.0 1008.5 L837.0 1008.5 L838.0 1008.5 L839.0 1008.4 L840.0 1008.4 L841.0 1008.4 L842.0 1008.4 L843.0 1008.4 L844.0 1008.4 L845.0 1008.4 L846.0 1008.4 L847.0 1008.4 L848.0 1008.4 L849.0 1008.4 L850.0 1008.4 L851.0 1008.4 L852.0 1008.4 L853.0 1008.4 L854.0 1008.3 L855.0 1008.3 L856.0 1008.3 L857.0 1008.3 L858.0 1008.3 L859.0 1008.3 L860.0 1008.3 L861.0 1008.3 L862.0 1008.3 L863.0 1008.3 L864.0 1008.3 L865.0 1008.3 L866.0 1008.3 L867.0 1008.3 L868.0 1008.3 L869.0 1008.3 L870.0 1008.3 L871.0 1008.2 L872.0 1008.2 L873.0 1008.2 L874.0 1008.2 L875.0 1008.2 L876.0 1008.2 L877.0 1008.2 L878.0 1008.2 L879.0 1008.2 L880.0 1008.2 L881.0 1008.2 L882.0 1008.2" stroke="#000" stroke-width="3.4" fill="none" stroke-linejoin="round"/>
<path d="M148.0 1147.2 L149.0 1147.2 L150.0 1147.2 L151.0 1147.2 L152.0 1147.2 L153.0 1147.2 L154.0 1147.2 L155.0 1147.2 L156.0 1147.2 L157.0 1147.2 L158.0 1147.2 L159.0 1147.2 L160.0 1147.2 L161.0 1147.2 L162.0 1147.2 L163.0 1147.3 L164.0 1147.3 L165.0 1147.3 L166.0 1147.3 L167.0 1147.3 L168.0 1147.3 L169.0 1147.3 L170.0 1147.3 L171.0 1147.3 L172.0 1147.3 L173.0 1147.3 L174.0 1147.3 L175.0 1147.3 L176.0 1147.3 L177.0 1147.3 L178.0 1147.3 L179.0 1147.3 L180.0 1147.3 L181.0 1147.3 L182.0 1147.3 L183.0 1147.3 L184.0 1147.3 L185.0 1147.3 L186.0 1147.4 L187.0 1147.4 L188.0 1147.4 L189.0 1147.4 L190.0 1147.4 L191.0 1147.4 L192.0 1147.4 L193.0 1147.4 L194.0 1147.4 L195.0 1147.4 L196.0 1147.4 L197.0 1147.4 L198.0 1147.4 L199.0 1147.4 L200.0 1147.4 L201.0 1147.4 L202.0 1147.4 L203.0 1147.4 L204.0 1147.4 L205.0 1147.4 L206.0 1147.5 L207.0 1147.5 L208.0 1147.5 L209.0 1147.5 L210.0 1147.5 L211.0 1147.5 L212.0 1147.5 L213.0 1147.5 L214.0 1147.5 L215.0 1147.5 L216.0 1147.5 L217.0 1147.5 L218.0 1147.5 L219.0 1147.5 L220.0 1147.5 L221.0 1147.5 L222.0 1147.5 L223.0 1147.6 L224.0 1147.6 L225.0 1147.6 L226.0 1147.6 L227.0 1147.6 L228.0 1147.6 L229.0 1147.6 L230.0 1147.6 L231.0 1147.6 L232.0 1147.6 L233.0 1147.6 L234.0 1147.6 L235.0 1147.6 L236.0 1147.6 L237.0 1147.7 L238.0 1147.7 L239.0 1147.7 L240.0 1147.7 L241.0 1147.7 L242.0 1147.7 L243.0 1147.7 L244.0 1147.7 L245.0 1147.7 L246.0 1147.7 L247.0 1147.7 L248.0 1147.7 L249.0 1147.7 L250.0 1147.8 L251.0 1147.8 L252.0 1147.8 L253.0 1147.8 L254.0 1147.8 L255.0 1147.8 L256.0 1147.8 L257.0 1147.8 L258.0 1147.8 L259.0 1147.8 L260.0 1147.8 L261.0 1147.9 L262.0 1147.9 L263.0 1147.9 L264.0 1147.9 L265.0 1147.9 L266.0 1147.9 L267.0 1147.9 L268.0 1147.9 L269.0 1147.9 L270.0 1147.9 L271.0 1148.0 L272.0 1148.0 L273.0 1148.0 L274.0 1148.0 L275.0 1148.0 L276.0 1148.0 L277.0 1148.0 L278.0 1148.0 L279.0 1148.0 L280.0 1148.1 L281.0 1148.1 L282.0 1148.1 L283.0 1148.1 L284.0 1148.1 L285.0 1148.1 L286.0 1148.1 L287.0 1148.1 L288.0 1148.1 L289.0 1148.2 L290.0 1148.2 L291.0 1148.2 L292.0 1148.2 L293.0 1148.2 L294.0 1148.2 L295.0 1148.2 L296.0 1148.3 L297.0 1148.3 L298.0 1148.3 L299.0 1148.3 L300.0 1148.3 L301.0 1148.3 L302.0 1148.3 L303.0 1148.4 L304.0 1148.4 L305.0 1148.4 L306.0 1148.4 L307.0 1148.4 L308.0 1148.4 L309.0 1148.5 L310.0 1148.5 L311.0 1148.5 L312.0 1148.5 L313.0 1148.5 L314.0 1148.5 L315.0 1148.6 L316.0 1148.6 L317.0 1148.6 L318.0 1148.6 L319.0 1148.6 L320.0 1148.6 L321.0 1148.7 L322.0 1148.7 L323.0 1148.7 L324.0 1148.7 L325.0 1148.7 L326.0 1148.8 L327.0 1148.8 L328.0 1148.8 L329.0 1148.8 L330.0 1148.9 L331.0 1148.9 L332.0 1148.9 L333.0 1148.9 L334.0 1148.9 L335.0 1149.0 L336.0 1149.0 L337.0 1149.0 L338.0 1149.0 L339.0 1149.1 L340.0 1149.1 L341.0 1149.1 L342.0 1149.1 L343.0 1149.2 L344.0 1149.2 L345.0 1149.2 L346.0 1149.2 L347.0 1149.3 L348.0 1149.3 L349.0 1149.3 L350.0 1149.4 L351.0 1149.4 L352.0 1149.4 L353.0 1149.5 L354.0 1149.5 L355.0 1149.5 L356.0 1149.5 L357.0 1149.6 L358.0 1149.6 L359.0 1149.6 L360.0 1149.7 L361.0 1149.7 L362.0 1149.8 L363.0 1149.8 L364.0 1149.8 L365.0 1149.9 L366.0 1149.9 L367.0 1149.9 L368.0 1150.0 L369.0 1150.0 L370.0 1150.1 L371.0 1150.1 L372.0 1150.1 L373.0 1150.2 L374.0 1150.2 L375.0 1150.3 L376.0 1150.3 L377.0 1150.4 L378.0 1150.4 L379.0 1150.5 L380.0 1150.5 L381.0 1150.6 L382.0 1150.6 L383.0 1150.7 L384.0 1150.7 L385.0 1150.8 L386.0 1150.8 L387.0 1150.9 L388.0 1150.9 L389.0 1151.0 L390.0 1151.1 L391.0 1151.1 L392.0 1151.2 L393.0 1151.2 L394.0 1151.3 L395.0 1151.4 L396.0 1151.4 L397.0 1151.5 L398.0 1151.6 L399.0 1151.6 L400.0 1151.7 L401.0 1151.8 L402.0 1151.9 L403.0 1151.9 L404.0 1152.0 L405.0 1152.1 L406.0 1152.2 L407.0 1152.3 L408.0 1152.4 L409.0 1152.4 L410.0 1152.5 L411.0 1152.6 L412.0 1152.7 L413.0 1152.8 L414.0 1152.9 L415.0 1153.0 L416.0 1153.1 L417.0 1153.2 L418.0 1153.4 L419.0 1153.5 L420.0 1153.6 L421.0 1153.7 L422.0 1153.8 L423.0 1153.9 L424.0 1154.1 L425.0 1154.2 L426.0 1154.3 L427.0 1154.5 L428.0 1154.6 L429.0 1154.8 L430.0 1154.9 L431.0 1155.1 L432.0 1155.2 L433.0 1155.4 L434.0 1155.6 L435.0 1155.7 L436.0 1155.9 L437.0 1156.1 L438.0 1156.3 L439.0 1156.5 L440.0 1156.7 L441.0 1156.9 L442.0 1157.1 L443.0 1157.3 L444.0 1157.6 L445.0 1157.8 L446.0 1158.1 L447.0 1158.3 L448.0 1158.6 L449.0 1158.8 L450.0 1159.1 L451.0 1159.4 L452.0 1159.7 L453.0 1160.0 L454.0 1160.3 L455.0 1160.7 L456.0 1161.0 L457.0 1161.4 L458.0 1161.8 L459.0 1162.1 L460.0 1162.6 L461.0 1163.0 L462.0 1163.4 L463.0 1163.9 L464.0 1164.3 L465.0 1164.8 L466.0 1165.3 L467.0 1165.9 L468.0 1166.4 L469.0 1167.0 L470.0 1167.6 L471.0 1168.2 L472.0 1168.9 L473.0 1169.6 L474.0 1170.3 L475.0 1171.1 L476.0 1171.9 L477.0 1172.7 L478.0 1173.6 L479.0 1174.5 L480.0 1175.5 L481.0 1176.5 L482.0 1177.6 L483.0 1178.7 L484.0 1179.9 L485.0 1181.1 L486.0 1182.4 L487.0 1183.8 L488.0 1185.3 L489.0 1186.8 L490.0 1188.4 L491.0 1190.1 L492.0 1192.0 L493.0 1193.9 L494.0 1195.9 L495.0 1198.1 L496.0 1200.3 L497.0 1202.7 L498.0 1205.3 L499.0 1208.0 L500.0 1210.8 L501.0 1213.8 L502.0 1216.9 L503.0 1220.3 L504.0 1223.7 L505.0 1227.4 L506.0 1231.2 L507.0 1235.2 L508.0 1239.3 L509.0 1243.5 L510.0 1247.9 L511.0 1252.4 L512.0 1256.9 L513.0 1261.4 L514.0 1265.9 L515.0 1270.3 L516.0 1274.6 L517.0 1278.6 L518.0 1282.3 L519.0 1285.7 L520.0 1288.7 L521.0 1291.1 L522.0 1293.0 L523.0 1294.3 L524.0 1295.0 L525.0 1295.1 L526.0 1294.5 L527.0 1293.3 L528.0 1291.6 L529.0 1289.5 L530.0 1286.8 L531.0 1283.9 L532.0 1280.6 L533.0 1277.2 L534.0 1273.6 L535.0 1269.9 L536.0 1266.2 L537.0 1262.6 L538.0 1259.0 L539.0 1255.6 L540.0 1252.3 L541.0 1249.2 L542.0 1246.2 L543.0 1243.4 L544.0 1240.9 L545.0 1238.6 L546.0 1236.4 L547.0 1234.5 L548.0 1232.8 L549.0 1231.3 L550.0 1230.1 L551.0 1229.0 L552.0 1228.2 L553.0 1227.5 L554.0 1227.1 L555.0 1226.9 L556.0 1226.8 L557.0 1227.0 L558.0 1227.4 L559.0 1228.0 L560.0 1228.8 L561.0 1229.8 L562.0 1231.1 L563.0 1232.5 L564.0 1234.2 L565.0 1236.0 L566.0 1238.1 L567.0 1240.4 L568.0 1242.9 L569.0 1245.6 L570.0 1248.5 L571.0 1251.6 L572.0 1254.9 L573.0 1258.3 L574.0 1261.9 L575.0 1265.5 L576.0 1269.2 L577.0 1272.8 L578.0 1276.4 L579.0 1279.9 L580.0 1283.2 L581.0 1286.3 L582.0 1289.0 L583.0 1291.2 L584.0 1293.0 L585.0 1294.3 L586.0 1295.0 L587.0 1295.1 L588.0 1294.5 L589.0 1293.3 L590.0 1291.5 L591.0 1289.2 L592.0 1286.3 L593.0 1283.0 L594.0 1279.4 L595.0 1275.4 L596.0 1271.2 L597.0 1266.8 L598.0 1262.3 L599.0 1257.8 L600.0 1253.3 L601.0 1248.8 L602.0 1244.4 L603.0 1240.1 L604.0 1236.0 L605.0 1232.0 L606.0 1228.1 L607.0 1224.5 L608.0 1220.9 L609.0 1217.6 L610.0 1214.4 L611.0 1211.4 L612.0 1208.5 L613.0 1205.8 L614.0 1203.2 L615.0 1200.8 L616.0 1198.5 L617.0 1196.3 L618.0 1194.3 L619.0 1192.3 L620.0 1190.5 L621.0 1188.8 L622.0 1187.1 L623.0 1185.6 L624.0 1184.1 L625.0 1182.7 L626.0 1181.4 L627.0 1180.1 L628.0 1178.9 L629.0 1177.8 L630.0 1176.7 L631.0 1175.7 L632.0 1174.7 L633.0 1173.8 L634.0 1172.9 L635.0 1172.0 L636.0 1171.2 L637.0 1170.5 L638.0 1169.7 L639.0 1169.0 L640.0 1168.4 L641.0 1167.7 L642.0 1167.1 L643.0 1166.5 L644.0 1166.0 L645.0 1165.4 L646.0 1164.9 L647.0 1164.4 L648.0 1163.9 L649.0 1163.5 L650.0 1163.1 L651.0 1162.6 L652.0 1162.2 L653.0 1161.8 L654.0 1161.5 L655.0 1161.1 L656.0 1160.8 L657.0 1160.4 L658.0 1160.1 L659.0 1159.8 L660.0 1159.5 L661.0 1159.2 L662.0 1158.9 L663.0 1158.6 L664.0 1158.4 L665.0 1158.1 L666.0 1157.9 L667.0 1157.6 L668.0 1157.4 L669.0 1157.2 L670.0 1157.0 L671.0 1156.7 L672.0 1156.5 L673.0 1156.3 L674.0 1156.2 L675.0 1156.0 L676.0 1155.8 L677.0 1155.6 L678.0 1155.4 L679.0 1155.3 L680.0 1155.1 L681.0 1155.0 L682.0 1154.8 L683.0 1154.7 L684.0 1154.5 L685.0 1154.4 L686.0 1154.2 L687.0 1154.1 L688.0 1154.0 L689.0 1153.8 L690.0 1153.7 L691.0 1153.6 L692.0 1153.5 L693.0 1153.4 L694.0 1153.3 L695.0 1153.2 L696.0 1153.0 L697.0 1152.9 L698.0 1152.8 L699.0 1152.7 L700.0 1152.7 L701.0 1152.6 L702.0 1152.5 L703.0 1152.4 L704.0 1152.3 L705.0 1152.2 L706.0 1152.1 L707.0 1152.0 L708.0 1152.0 L709.0 1151.9 L710.0 1151.8 L711.0 1151.7 L712.0 1151.7 L713.0 1151.6 L714.0 1151.5 L715.0 1151.4 L716.0 1151.4 L717.0 1151.3 L718.0 1151.2 L719.0 1151.2 L720.0 1151.1 L721.0 1151.1 L722.0 1151.0 L723.0 1150.9 L724.0 1150.9 L725.0 1150.8 L726.0 1150.8 L727.0 1150.7 L728.0 1150.7 L729.0 1150.6 L730.0 1150.6 L731.0 1150.5 L732.0 1150.5 L733.0 1150.4 L734.0 1150.4 L735.0 1150.3 L736.0 1150.3 L737.0 1150.2 L738.0 1150.2 L739.0 1150.2 L740.0 1150.1 L741.0 1150.1 L742.0 1150.0 L743.0 1150.0 L744.0 1149.9 L745.0 1149.9 L746.0 1149.9 L747.0 1149.8 L748.0 1149.8 L749.0 1149.8 L750.0 1149.7 L751.0 1149.7 L752.0 1149.7 L753.0 1149.6 L754.0 1149.6 L755.0 1149.6 L756.0 1149.5 L757.0 1149.5 L758.0 1149.5 L759.0 1149.4 L760.0 1149.4 L761.0 1149.4 L762.0 1149.3 L763.0 1149.3 L764.0 1149.3 L765.0 1149.3 L766.0 1149.2 L767.0 1149.2 L768.0 1149.2 L769.0 1149.1 L770.0 1149.1 L771.0 1149.1 L772.0 1149.1 L773.0 1149.0 L774.0 1149.0 L775.0 1149.0 L776.0 1149.0 L777.0 1148.9 L778.0 1148.9 L779.0 1148.9 L780.0 1148.9 L781.0 1148.9 L782.0 1148.8 L783.0 1148.8 L784.0 1148.8 L785.0 1148.8 L786.0 1148.8 L787.0 1148.7 L788.0 1148.7 L789.0 1148.7 L790.0 1148.7 L791.0 1148.7 L792.0 1148.6 L793.0 1148.6 L794.0 1148.6 L795.0 1148.6 L796.0 1148.6 L797.0 1148.5 L798.0 1148.5 L799.0 1148.5 L800.0 1148.5 L801.0 1148.5 L802.0 1148.5 L803.0 1148.4 L804.0 1148.4 L805.0 1148.4 L806.0 1148.4 L807.0 1148.4 L808.0 1148.4 L809.0 1148.3 L810.0 1148.3 L811.0 1148.3 L812.0 1148.3 L813.0 1148.3 L814.0 1148.3 L815.0 1148.3 L816.0 1148.2 L817.0 1148.2 L818.0 1148.2 L819.0 1148.2 L820.0 1148.2 L821.0 1148.2 L822.0 1148.2 L823.0 1148.2 L824.0 1148.1 L825.0 1148.1 L826.0 1148.1 L827.0 1148.1 L828.0 1148.1 L829.0 1148.1 L830.0 1148.1 L831.0 1148.1 L832.0 1148.0 L833.0 1148.0 L834.0 1148.0 L835.0 1148.0 L836.0 1148.0 L837.0 1148.0 L838.0 1148.0 L839.0 1148.0 L840.0 1148.0 L841.0 1147.9 L842.0 1147.9 L843.0 1147.9 L844.0 1147.9 L845.0 1147.9 L846.0 1147.9 L847.0 1147.9 L848.0 1147.9 L849.0 1147.9 L850.0 1147.9 L851.0 1147.8 L852.0 1147.8 L853.0 1147.8 L854.0 1147.8 L855.0 1147.8 L856.0 1147.8 L857.0 1147.8 L858.0 1147.8 L859.0 1147.8 L860.0 1147.8 L861.0 1147.8 L862.0 1147.7 L863.0 1147.7 L864.0 1147.7 L865.0 1147.7 L866.0 1147.7 L867.0 1147.7 L868.0 1147.7 L869.0 1147.7 L870.0 1147.7 L871.0 1147.7 L872.0 1147.7 L873.0 1147.7 L874.0 1147.7 L875.0 1147.6 L876.0 1147.6 L877.0 1147.6 L878.0 1147.6 L879.0 1147.6 L880.0 1147.6 L881.0 1147.6 L882.0 1147.6" stroke="#000" stroke-width="3.4" fill="none" stroke-linejoin="round"/>
<path d="M148.0 1312.8 L149.0 1312.8 L150.0 1312.8 L151.0 1312.8 L152.0 1312.8 L153.0 1312.8 L154.0 1312.8 L155.0 1312.8 L156.0 1312.8 L157.0 1312.8 L158.0 1312.8 L159.0 1312.8 L160.0 1312.8 L161.0 1312.8 L162.0 1312.9 L163.0 1312.9 L164.0 1312.9 L165.0 1312.9 L166.0 1312.9 L167.0 1312.9 L168.0 1312.9 L169.0 1312.9 L170.0 1312.9 L171.0 1312.9 L172.0 1312.9 L173.0 1312.9 L174.0 1312.9 L175.0 1312.9 L176.0 1312.9 L177.0 1313.0 L178.0 1313.0 L179.0 1313.0 L180.0 1313.0 L181.0 1313.0 L182.0 1313.0 L183.0 1313.0 L184.0 1313.0 L185.0 1313.0 L186.0 1313.0 L187.0 1313.0 L188.0 1313.0 L189.0 1313.0 L190.0 1313.1 L191.0 1313.1 L192.0 1313.1 L193.0 1313.1 L194.0 1313.1 L195.0 1313.1 L196.0 1313.1 L197.0 1313.1 L198.0 1313.1 L199.0 1313.1 L200.0 1313.1 L201.0 1313.1 L202.0 1313.2 L203.0 1313.2 L204.0 1313.2 L205.0 1313.2 L206.0 1313.2 L207.0 1313.2 L208.0 1313.2 L209.0 1313.2 L210.0 1313.2 L211.0 1313.2 L212.0 1313.3 L213.0 1313.3 L214.0 1313.3 L215.0 1313.3 L216.0 1313.3 L217.0 1313.3 L218.0 1313.3 L219.0 1313.3 L220.0 1313.3 L221.0 1313.3 L222.0 1313.4 L223.0 1313.4 L224.0 1313.4 L225.0 1313.4 L226.0 1313.4 L227.0 1313.4 L228.0 1313.4 L229.0 1313.4 L230.0 1313.4 L231.0 1313.5 L232.0 1313.5 L233.0 1313.5 L234.0 1313.5 L235.0 1313.5 L236.0 1313.5 L237.0 1313.5 L238.0 1313.5 L239.0 1313.6 L240.0 1313.6 L241.0 1313.6 L242.0 1313.6 L243.0 1313.6 L244.0 1313.6 L245.0 1313.6 L246.0 1313.7 L247.0 1313.7 L248.0 1313.7 L249.0 1313.7 L250.0 1313.7 L251.0 1313.7 L252.0 1313.7 L253.0 1313.8 L254.0 1313.8 L255.0 1313.8 L256.0 1313.8 L257.0 1313.8 L258.0 1313.8 L259.0 1313.8 L260.0 1313.9 L261.0 1313.9 L262.0 1313.9 L263.0 1313.9 L264.0 1313.9 L265.0 1313.9 L266.0 1314.0 L267.0 1314.0 L268.0 1314.0 L269.0 1314.0 L270.0 1314.0 L271.0 1314.1 L272.0 1314.1 L273.0 1314.1 L274.0 1314.1 L275.0 1314.1 L276.0 1314.1 L277.0 1314.2 L278.0 1314.2 L279.0 1314.2 L280.0 1314.2 L281.0 1314.2 L282.0 1314.3 L283.0 1314.3 L284.0 1314.3 L285.0 1314.3 L286.0 1314.3 L287.0 1314.4 L288.0 1314.4 L289.0 1314.4 L290.0 1314.4 L291.0 1314.5 L292.0 1314.5 L293.0 1314.5 L294.0 1314.5 L295.0 1314.6 L296.0 1314.6 L297.0 1314.6 L298.0 1314.6 L299.0 1314.7 L300.0 1314.7 L301.0 1314.7 L302.0 1314.7 L303.0 1314.8 L304.0 1314.8 L305.0 1314.8 L306.0 1314.8 L307.0 1314.9 L308.0 1314.9 L309.0 1314.9 L310.0 1315.0 L311.0 1315.0 L312.0 1315.0 L313.0 1315.0 L314.0 1315.1 L315.0 1315.1 L316.0 1315.1 L317.0 1315.2 L318.0 1315.2 L319.0 1315.2 L320.0 1315.3 L321.0 1315.3 L322.0 1315.3 L323.0 1315.4 L324.0 1315.4 L325.0 1315.4 L326.0 1315.5 L327.0 1315.5 L328.0 1315.6 L329.0 1315.6 L330.0 1315.6 L331.0 1315.7 L332.0 1315.7 L333.0 1315.8 L334.0 1315.8 L335.0 1315.8 L336.0 1315.9 L337.0 1315.9 L338.0 1316.0 L339.0 1316.0 L340.0 1316.1 L341.0 1316.1 L342.0 1316.1 L343.0 1316.2 L344.0 1316.2 L345.0 1316.3 L346.0 1316.3 L347.0 1316.4 L348.0 1316.4 L349.0 1316.5 L350.0 1316.5 L351.0 1316.6 L352.0 1316.6 L353.0 1316.7 L354.0 1316.8 L355.0 1316.8 L356.0 1316.9 L357.0 1316.9 L358.0 1317.0 L359.0 1317.1 L360.0 1317.1 L361.0 1317.2 L362.0 1317.2 L363.0 1317.3 L364.0 1317.4 L365.0 1317.5 L366.0 1317.5 L367.0 1317.6 L368.0 1317.7 L369.0 1317.7 L370.0 1317.8 L371.0 1317.9 L372.0 1318.0 L373.0 1318.0 L374.0 1318.1 L375.0 1318.2 L376.0 1318.3 L377.0 1318.4 L378.0 1318.5 L379.0 1318.6 L380.0 1318.6 L381.0 1318.7 L382.0 1318.8 L383.0 1318.9 L384.0 1319.0 L385.0 1319.1 L386.0 1319.2 L387.0 1319.3 L388.0 1319.4 L389.0 1319.6 L390.0 1319.7 L391.0 1319.8 L392.0 1319.9 L393.0 1320.0 L394.0 1320.1 L395.0 1320.3 L396.0 1320.4 L397.0 1320.5 L398.0 1320.7 L399.0 1320.8 L400.0 1320.9 L401.0 1321.1 L402.0 1321.2 L403.0 1321.4 L404.0 1321.5 L405.0 1321.7 L406.0 1321.9 L407.0 1322.0 L408.0 1322.2 L409.0 1322.4 L410.0 1322.5 L411.0 1322.7 L412.0 1322.9 L413.0 1323.1 L414.0 1323.3 L415.0 1323.5 L416.0 1323.7 L417.0 1323.9 L418.0 1324.2 L419.0 1324.4 L420.0 1324.6 L421.0 1324.9 L422.0 1325.1 L423.0 1325.4 L424.0 1325.6 L425.0 1325.9 L426.0 1326.2 L427.0 1326.5 L428.0 1326.8 L429.0 1327.1 L430.0 1327.4 L431.0 1327.7 L432.0 1328.0 L433.0 1328.4 L434.0 1328.7 L435.0 1329.1 L436.0 1329.5 L437.0 1329.9 L438.0 1330.3 L439.0 1330.7 L440.0 1331.2 L441.0 1331.6 L442.0 1332.1 L443.0 1332.6 L444.0 1333.1 L445.0 1333.6 L446.0 1334.2 L447.0 1334.7 L448.0 1335.3 L449.0 1335.9 L450.0 1336.6 L451.0 1337.2 L452.0 1337.9 L453.0 1338.7 L454.0 1339.4 L455.0 1340.2 L456.0 1341.0 L457.0 1341.9 L458.0 1342.8 L459.0 1343.7 L460.0 1344.7 L461.0 1345.7 L462.0 1346.8 L463.0 1347.9 L464.0 1349.1 L465.0 1350.3 L466.0 1351.6 L467.0 1353.0 L468.0 1354.4 L469.0 1355.9 L470.0 1357.5 L471.0 1359.2 L472.0 1361.0 L473.0 1362.8 L474.0 1364.8 L475.0 1366.9 L476.0 1369.0 L477.0 1371.3 L478.0 1373.8 L479.0 1376.3 L480.0 1379.0 L481.0 1381.9 L482.0 1384.9 L483.0 1388.1 L484.0 1391.4 L485.0 1394.9 L486.0 1398.5 L487.0 1402.4 L488.0 1406.4 L489.0 1410.5 L490.0 1414.8 L491.0 1419.2 L492.0 1423.7 L493.0 1428.3 L494.0 1433.0 L495.0 1437.7 L496.0 1442.3 L497.0 1446.9 L498.0 1451.4 L499.0 1455.7 L500.0 1459.9 L501.0 1463.9 L502.0 1467.7 L503.0 1471.2 L504.0 1474.5 L505.0 1477.6 L506.0 1480.5 L507.0 1483.2 L508.0 1485.7 L509.0 1488.1 L510.0 1490.3 L511.0 1492.4 L512.0 1494.3 L513.0 1496.1 L514.0 1497.8 L515.0 1499.3 L516.0 1500.5 L517.0 1501.5 L518.0 1502.2 L519.0 1502.6 L520.0 1502.6 L521.0 1502.1 L522.0 1501.3 L523.0 1500.0 L524.0 1498.3 L525.0 1496.2 L526.0 1493.7 L527.0 1490.8 L528.0 1487.5 L529.0 1484.0 L530.0 1480.3 L531.0 1476.3 L532.0 1472.3 L533.0 1468.1 L534.0 1464.0 L535.0 1459.8 L536.0 1455.7 L537.0 1451.7 L538.0 1447.9 L539.0 1444.1 L540.0 1440.5 L541.0 1437.1 L542.0 1433.9 L543.0 1430.9 L544.0 1428.1 L545.0 1425.5 L546.0 1423.2 L547.0 1421.0 L548.0 1419.1 L549.0 1417.3 L550.0 1415.8 L551.0 1414.6 L552.0 1413.5 L553.0 1412.7 L554.0 1412.0 L555.0 1411.6 L556.0 1411.4 L557.0 1411.4 L558.0 1411.7 L559.0 1412.1 L560.0 1412.8 L561.0 1413.8 L562.0 1414.9 L563.0 1416.3 L564.0 1417.9 L565.0 1419.8 L566.0 1421.9 L567.0 1424.2 L568.0 1426.8 L569.0 1429.6 L570.0 1432.7 L571.0 1436.0 L572.0 1439.6 L573.0 1443.3 L574.0 1447.3 L575.0 1451.4 L576.0 1455.7 L577.0 1460.0 L578.0 1464.4 L579.0 1468.8 L580.0 1473.2 L581.0 1477.4 L582.0 1481.4 L583.0 1485.1 L584.0 1488.5 L585.0 1491.4 L586.0 1494.0 L587.0 1496.0 L588.0 1497.4 L589.0 1498.4 L590.0 1498.8 L591.0 1498.7 L592.0 1498.2 L593.0 1497.3 L594.0 1496.1 L595.0 1494.6 L596.0 1493.0 L597.0 1491.2 L598.0 1489.4 L599.0 1487.6 L600.0 1485.8 L601.0 1484.1 L602.0 1482.4 L603.0 1480.9 L604.0 1479.4 L605.0 1477.9 L606.0 1476.4 L607.0 1474.8 L608.0 1473.1 L609.0 1471.3 L610.0 1469.2 L611.0 1466.9 L612.0 1464.3 L613.0 1461.4 L614.0 1458.2 L615.0 1454.6 L616.0 1450.8 L617.0 1446.8 L618.0 1442.5 L619.0 1438.1 L620.0 1433.5 L621.0 1428.9 L622.0 1424.3 L623.0 1419.8 L624.0 1415.3 L625.0 1410.9 L626.0 1406.6 L627.0 1402.5 L628.0 1398.5 L629.0 1394.7 L630.0 1391.1 L631.0 1387.6 L632.0 1384.4 L633.0 1381.2 L634.0 1378.3 L635.0 1375.5 L636.0 1372.8 L637.0 1370.3 L638.0 1368.0 L639.0 1365.7 L640.0 1363.6 L641.0 1361.6 L642.0 1359.7 L643.0 1357.9 L644.0 1356.2 L645.0 1354.6 L646.0 1353.1 L647.0 1351.6 L648.0 1350.3 L649.0 1349.0 L650.0 1347.7 L651.0 1346.6 L652.0 1345.4 L653.0 1344.4 L654.0 1343.4 L655.0 1342.4 L656.0 1341.5 L657.0 1340.6 L658.0 1339.8 L659.0 1338.9 L660.0 1338.2 L661.0 1337.4 L662.0 1336.7 L663.0 1336.1 L664.0 1335.4 L665.0 1334.8 L666.0 1334.2 L667.0 1333.6 L668.0 1333.1 L669.0 1332.6 L670.0 1332.0 L671.0 1331.6 L672.0 1331.1 L673.0 1330.6 L674.0 1330.2 L675.0 1329.8 L676.0 1329.4 L677.0 1329.0 L678.0 1328.6 L679.0 1328.2 L680.0 1327.9 L681.0 1327.5 L682.0 1327.2 L683.0 1326.9 L684.0 1326.6 L685.0 1326.3 L686.0 1326.0 L687.0 1325.7 L688.0 1325.4 L689.0 1325.2 L690.0 1324.9 L691.0 1324.7 L692.0 1324.4 L693.0 1324.2 L694.0 1324.0 L695.0 1323.7 L696.0 1323.5 L697.0 1323.3 L698.0 1323.1 L699.0 1322.9 L700.0 1322.7 L701.0 1322.5 L702.0 1322.3 L703.0 1322.2 L704.0 1322.0 L705.0 1321.8 L706.0 1321.7 L707.0 1321.5 L708.0 1321.3 L709.0 1321.2 L710.0 1321.0 L711.0 1320.9 L712.0 1320.7 L713.0 1320.6 L714.0 1320.5 L715.0 1320.3 L716.0 1320.2 L717.0 1320.1 L718.0 1320.0 L719.0 1319.8 L720.0 1319.7 L721.0 1319.6 L722.0 1319.5 L723.0 1319.4 L724.0 1319.3 L725.0 1319.2 L726.0 1319.1 L727.0 1319.0 L728.0 1318.9 L729.0 1318.8 L730.0 1318.7 L731.0 1318.6 L732.0 1318.5 L733.0 1318.4 L734.0 1318.3 L735.0 1318.2 L736.0 1318.1 L737.0 1318.1 L738.0 1318.0 L739.0 1317.9 L740.0 1317.8 L741.0 1317.7 L742.0 1317.7 L743.0 1317.6 L744.0 1317.5 L745.0 1317.5 L746.0 1317.4 L747.0 1317.3 L748.0 1317.3 L749.0 1317.2 L750.0 1317.1 L751.0 1317.1 L752.0 1317.0 L753.0 1316.9 L754.0 1316.9 L755.0 1316.8 L756.0 1316.8 L757.0 1316.7 L758.0 1316.6 L759.0 1316.6 L760.0 1316.5 L761.0 1316.5 L762.0 1316.4 L763.0 1316.4 L764.0 1316.3 L765.0 1316.3 L766.0 1316.2 L767.0 1316.2 L768.0 1316.1 L769.0 1316.1 L770.0 1316.0 L771.0 1316.0 L772.0 1316.0 L773.0 1315.9 L774.0 1315.9 L775.0 1315.8 L776.0 1315.8 L777.0 1315.7 L778.0 1315.7 L779.0 1315.7 L780.0 1315.6 L781.0 1315.6 L782.0 1315.5 L783.0 1315.5 L784.0 1315.5 L785.0 1315.4 L786.0 1315.4 L787.0 1315.4 L788.0 1315.3 L789.0 1315.3 L790.0 1315.3 L791.0 1315.2 L792.0 1315.2 L793.0 1315.2 L794.0 1315.1 L795.0 1315.1 L796.0 1315.1 L797.0 1315.0 L798.0 1315.0 L799.0 1315.0 L800.0 1314.9 L801.0 1314.9 L802.0 1314.9 L803.0 1314.9 L804.0 1314.8 L805.0 1314.8 L806.0 1314.8 L807.0 1314.7 L808.0 1314.7 L809.0 1314.7 L810.0 1314.7 L811.0 1314.6 L812.0 1314.6 L813.0 1314.6 L814.0 1314.6 L815.0 1314.5 L816.0 1314.5 L817.0 1314.5 L818.0 1314.5 L819.0 1314.4 L820.0 1314.4 L821.0 1314.4 L822.0 1314.4 L823.0 1314.4 L824.0 1314.3 L825.0 1314.3 L826.0 1314.3 L827.0 1314.3 L828.0 1314.3 L829.0 1314.2 L830.0 1314.2 L831.0 1314.2 L832.0 1314.2 L833.0 1314.2 L834.0 1314.1 L835.0 1314.1 L836.0 1314.1 L837.0 1314.1 L838.0 1314.1 L839.0 1314.0 L840.0 1314.0 L841.0 1314.0 L842.0 1314.0 L843.0 1314.0 L844.0 1314.0 L845.0 1313.9 L846.0 1313.9 L847.0 1313.9 L848.0 1313.9 L849.0 1313.9 L850.0 1313.9 L851.0 1313.8 L852.0 1313.8 L853.0 1313.8 L854.0 1313.8 L855.0 1313.8 L856.0 1313.8 L857.0 1313.7 L858.0 1313.7 L859.0 1313.7 L860.0 1313.7 L861.0 1313.7 L862.0 1313.7 L863.0 1313.7 L864.0 1313.6 L865.0 1313.6 L866.0 1313.6 L867.0 1313.6 L868.0 1313.6 L869.0 1313.6 L870.0 1313.6 L871.0 1313.6 L872.0 1313.5 L873.0 1313.5 L874.0 1313.5 L875.0 1313.5 L876.0 1313.5 L877.0 1313.5 L878.0 1313.5 L879.0 1313.5 L880.0 1313.4 L881.0 1313.4 L882.0 1313.4" stroke="#ff0000" stroke-width="2.9" fill="none" stroke-linejoin="round"/>
<path d="M148.0 925.4 H882.0 V1594.6 H148.0 Z" fill="none" stroke="#000" stroke-width="3.2"/>
<text x="148.0" y="1631.0" font-size="27" font-weight="bold" text-anchor="middle" font-family='"Liberation Sans", sans-serif'>-4</text>
<line x1="239.8" y1="925.4" x2="239.8" y2="931.4" stroke="#000" stroke-width="3"/>
<line x1="239.8" y1="1594.6" x2="239.8" y2="1588.6" stroke="#000" stroke-width="3"/>
<line x1="331.5" y1="925.4" x2="331.5" y2="936.4" stroke="#000" stroke-width="3"/>
<line x1="331.5" y1="1594.6" x2="331.5" y2="1583.6" stroke="#000" stroke-width="3"/>
<text x="331.5" y="1631.0" font-size="27" font-weight="bold" text-anchor="middle" font-family='"Liberation Sans", sans-serif'>-2</text>
<line x1="423.2" y1="925.4" x2="423.2" y2="931.4" stroke="#000" stroke-width="3"/>
<line x1="423.2" y1="1594.6" x2="423.2" y2="1588.6" stroke="#000" stroke-width="3"/>
<line x1="515.0" y1="925.4" x2="515.0" y2="936.4" stroke="#000" stroke-width="3"/>
<line x1="515.0" y1="1594.6" x2="515.0" y2="1583.6" stroke="#000" stroke-width="3"/>
<text x="515.0" y="1631.0" font-size="27" font-weight="bold" text-anchor="middle" font-family='"Liberation Sans", sans-serif'>0</text>
<line x1="606.8" y1="925.4" x2="606.8" y2="931.4" stroke="#000" stroke-width="3"/>
<line x1="606.8" y1="1594.6" x2="606.8" y2="1588.6" stroke="#000" stroke-width="3"/>
<line x1="698.5" y1="925.4" x2="698.5" y2="936.4" stroke="#000" stroke-width="3"/>
<line x1="698.5" y1="1594.6" x2="698.5" y2="1583.6" stroke="#000" stroke-width="3"/>
<text x="698.5" y="1631.0" font-size="27" font-weight="bold" text-anchor="middle" font-family='"Liberation Sans", sans-serif'>2</text>
<line x1="790.2" y1="925.4" x2="790.2" y2="931.4" stroke="#000" stroke-width="3"/>
<line x1="790.2" y1="1594.6" x2="790.2" y2="1588.6" stroke="#000" stroke-width="3"/>
<text x="882.0" y="1631.0" font-size="27" font-weight="bold" text-anchor="middle" font-family='"Liberation Sans", sans-serif'>4</text>
<line x1="148.0" y1="1312.0" x2="156.0" y2="1312.0" stroke="#000" stroke-width="3"/>
<text x="136.0" y="1321.5" font-size="27.0" font-weight="bold" text-anchor="end" font-family='"Liberation Sans", sans-serif'>1.000</text>
<line x1="148.0" y1="1340.2" x2="152.0" y2="1340.2" stroke="#000" stroke-width="3"/>
<line x1="148.0" y1="1368.5" x2="156.0" y2="1368.5" stroke="#000" stroke-width="3"/>
<text x="136.0" y="1378.0" font-size="27.0" font-weight="bold" text-anchor="end" font-family='"Liberation Sans", sans-serif'>0.999</text>
<line x1="148.0" y1="1396.8" x2="152.0" y2="1396.8" stroke="#000" stroke-width="3"/>
<line x1="148.0" y1="1425.0" x2="156.0" y2="1425.0" stroke="#000" stroke-width="3"/>
<text x="136.0" y="1434.5" font-size="27.0" font-weight="bold" text-anchor="end" font-family='"Liberation Sans", sans-serif'>0.998</text>
<line x1="148.0" y1="1453.2" x2="152.0" y2="1453.2" stroke="#000" stroke-width="3"/>
<line x1="148.0" y1="1481.5" x2="156.0" y2="1481.5" stroke="#000" stroke-width="3"/>
<text x="136.0" y="1491.0" font-size="27.0" font-weight="bold" text-anchor="end" font-family='"Liberation Sans", sans-serif'>0.997</text>
<line x1="148.0" y1="1509.8" x2="152.0" y2="1509.8" stroke="#000" stroke-width="3"/>
<line x1="148.0" y1="1538.0" x2="156.0" y2="1538.0" stroke="#000" stroke-width="3"/>
<text x="136.0" y="1547.5" font-size="27.0" font-weight="bold" text-anchor="end" font-family='"Liberation Sans", sans-serif'>0.996</text>
<line x1="148.0" y1="1566.2" x2="152.0" y2="1566.2" stroke="#000" stroke-width="3"/>
<line x1="148.0" y1="1594.5" x2="156.0" y2="1594.5" stroke="#000" stroke-width="3"/>
<text x="136.0" y="1604.0" font-size="27.0" font-weight="bold" text-anchor="end" font-family='"Liberation Sans", sans-serif'>0.995</text>
<line x1="148.0" y1="1283.8" x2="152.0" y2="1283.8" stroke="#000" stroke-width="3"/>
<text x="877.5" y="1045.0" font-size="32" font-weight="bold" text-anchor="end" font-family='"Liberation Sans", sans-serif'>2</text>
<text x="876.0" y="1182.0" font-size="32" font-weight="bold" text-anchor="end" font-family='"Liberation Sans", sans-serif'>1</text>
<text x="209.0" y="1511.0" font-size="32" font-weight="bold" font-family='"Liberation Sans", sans-serif'>T = 77 K</text>
<text x="209.0" y="1551.7" font-size="32" font-weight="bold" font-family='"Liberation Sans", sans-serif'>B = 0 T</text>
<text transform="translate(39.0 1452.0) rotate(-90)" font-size="36" font-weight="bold" text-anchor="middle" font-family='"Liberation Sans", sans-serif'>rel. transmission</text>
<text x="521.0" y="1672.0" font-size="32" font-weight="bold" text-anchor="middle" font-family='"Liberation Sans", sans-serif'>velocity (mms<tspan font-size="20" dy="-12">-1</tspan><tspan dy="12">)</tspan></text>
<text x="11.0" y="939.0" font-size="32" font-weight="bold" font-family='"Liberation Sans", sans-serif'>B</text>
<path d="M156.5 2008.5 V2095.5 M162.5 2015.5 V2089.5 M165.5 2007.5 V2092.5 M168.5 2109.5 V2192.5 M171.5 2040.5 V2112.5 M174.5 2055.5 V2127.5 M177.5 2059.5 V2144.5 M182.5 2040.5 V2128.5 M188.5 2062.5 V2140.5 M194.5 2031.5 V2110.5 M200.5 2061.5 V2139.5 M205.5 2060.5 V2135.5 M208.5 2062.5 V2136.5 M214.5 2092.5 V2169.5 M217.5 2036.5 V2115.5 M226.5 2075.5 V2151.5 M229.5 2063.5 V2142.5 M237.5 2043.5 V2118.5 M240.5 1982.5 V2064.5 M243.5 2111.5 V2187.5 M246.5 2058.5 V2143.5 M252.5 2079.5 V2164.5 M260.5 2033.5 V2111.5 M263.5 2037.5 V2120.5 M266.5 2053.5 V2125.5 M272.5 2004.5 V2082.5 M275.5 2049.5 V2130.5 M278.5 2039.5 V2124.5 M281.5 2003.5 V2086.5 M284.5 2002.5 V2088.5 M286.5 2069.5 V2147.5 M289.5 2074.5 V2162.5 M292.5 2064.5 V2142.5 M295.5 2002.5 V2076.5 M298.5 2063.5 V2144.5 M301.5 2035.5 V2117.5 M304.5 2021.5 V2093.5 M307.5 2047.5 V2134.5 M310.5 2058.5 V2144.5 M312.5 2052.5 V2137.5 M315.5 2073.5 V2151.5 M318.5 2063.5 V2149.5 M324.5 2029.5 V2104.5 M327.5 2053.5 V2133.5 M333.5 2047.5 V2120.5 M338.5 2093.5 V2166.5 M341.5 2051.5 V2133.5 M344.5 2052.5 V2134.5 M350.5 2032.5 V2111.5 M353.5 2043.5 V2126.5 M356.5 2069.5 V2153.5 M359.5 2054.5 V2140.5 M362.5 2042.5 V2121.5 M364.5 2021.5 V2107.5 M367.5 2072.5 V2152.5 M370.5 2039.5 V2121.5 M373.5 1998.5 V2085.5 M376.5 2006.5 V2083.5 M385.5 2039.5 V2112.5 M390.5 2088.5 V2172.5 M399.5 2028.5 V2114.5 M402.5 2028.5 V2107.5 M405.5 2062.5 V2149.5 M408.5 2104.5 V2179.5 M411.5 2044.5 V2132.5 M414.5 2047.5 V2132.5 M416.5 2050.5 V2131.5 M422.5 2072.5 V2157.5 M431.5 2053.5 V2129.5 M434.5 2039.5 V2113.5 M440.5 2034.5 V2112.5 M445.5 2039.5 V2125.5 M448.5 2042.5 V2117.5 M451.5 2085.5 V2162.5 M454.5 2050.5 V2138.5 M460.5 2113.5 V2192.5 M466.5 2095.5 V2181.5 M469.5 2035.5 V2115.5 M477.5 2082.5 V2157.5 M480.5 2108.5 V2181.5 M483.5 2093.5 V2177.5 M495.5 2111.5 V2183.5 M497.5 2129.5 V2212.5 M500.5 2109.5 V2189.5 M503.5 2167.5 V2251.5 M506.5 2245.5 V2324.5 M509.5 2185.5 V2269.5 M512.5 2177.5 V2251.5 M515.5 2251.5 V2333.5 M518.5 2235.5 V2322.5 M521.5 2226.5 V2306.5 M523.5 2220.5 V2302.5 M526.5 2258.5 V2340.5 M532.5 2249.5 V2325.5 M535.5 2260.5 V2340.5 M544.5 2240.5 V2315.5 M547.5 2237.5 V2310.5 M558.5 2168.5 V2252.5 M561.5 2156.5 V2244.5 M564.5 2145.5 V2231.5 M567.5 2173.5 V2254.5 M570.5 2151.5 V2231.5 M573.5 2145.5 V2227.5 M575.5 2157.5 V2229.5 M581.5 2190.5 V2269.5 M587.5 2195.5 V2281.5 M590.5 2197.5 V2280.5 M593.5 2240.5 V2322.5 M596.5 2232.5 V2319.5 M604.5 2234.5 V2317.5 M607.5 2222.5 V2297.5 M616.5 2198.5 V2274.5 M619.5 2184.5 V2262.5 M622.5 2156.5 V2243.5 M628.5 2238.5 V2317.5 M630.5 2198.5 V2274.5 M633.5 2171.5 V2248.5 M636.5 2163.5 V2241.5 M639.5 2168.5 V2242.5 M642.5 2188.5 V2275.5 M645.5 2098.5 V2175.5 M648.5 2169.5 V2245.5 M651.5 2087.5 V2165.5 M654.5 2110.5 V2195.5 M659.5 2109.5 V2181.5 M662.5 2070.5 V2151.5 M665.5 2084.5 V2165.5 M668.5 2072.5 V2146.5 M671.5 2109.5 V2184.5 M677.5 2027.5 V2105.5 M680.5 2061.5 V2143.5 M682.5 2055.5 V2142.5 M685.5 2023.5 V2106.5 M688.5 2087.5 V2174.5 M691.5 2013.5 V2096.5 M694.5 2046.5 V2130.5 M700.5 2044.5 V2117.5 M703.5 2123.5 V2205.5 M706.5 2083.5 V2164.5 M717.5 2039.5 V2124.5 M720.5 2081.5 V2167.5 M726.5 2030.5 V2117.5 M729.5 2023.5 V2100.5 M734.5 2018.5 V2101.5 M737.5 2087.5 V2162.5 M740.5 2071.5 V2153.5 M746.5 2096.5 V2181.5 M749.5 2052.5 V2128.5 M752.5 2017.5 V2104.5 M755.5 2054.5 V2131.5 M763.5 2043.5 V2117.5 M766.5 2067.5 V2151.5 M769.5 2069.5 V2148.5 M775.5 2042.5 V2124.5 M778.5 2025.5 V2113.5 M781.5 2032.5 V2110.5 M784.5 2034.5 V2112.5 M787.5 2045.5 V2128.5 M789.5 2064.5 V2145.5 M801.5 2020.5 V2094.5 M804.5 2070.5 V2151.5 M807.5 2031.5 V2116.5 M810.5 2043.5 V2121.5 M813.5 2046.5 V2131.5 M815.5 2070.5 V2148.5 M818.5 2050.5 V2128.5 M821.5 2065.5 V2139.5 M824.5 2013.5 V2094.5 M827.5 2068.5 V2155.5 M836.5 2031.5 V2115.5 M839.5 2030.5 V2104.5 M841.5 2064.5 V2151.5 M844.5 2023.5 V2110.5 M850.5 2034.5 V2110.5 M853.5 2101.5 V2176.5 M856.5 2057.5 V2145.5 M859.5 2050.5 V2127.5 M870.5 2039.5 V2117.5 M873.5 2034.5 V2121.5 M876.5 2032.5 V2111.5 M879.5 2047.5 V2127.5 M882.5 1998.5 V2084.5 M885.5 1993.5 V2073.5 M888.5 2018.5 V2105.5 M891.5 2034.5 V2118.5 M894.5 1991.5 V2068.5" stroke="#000" stroke-width="1" fill="none" shape-rendering="crispEdges"/>
<path d="M160.0 2053.5 V2134.5 M180.0 2006.5 V2085.5 M186.0 2038.5 V2115.5 M192.0 2096.5 V2168.5 M198.0 2074.5 V2159.5 M204.0 2062.5 V2135.5 M212.0 2084.5 V2163.5 M221.0 2110.5 V2185.5 M224.0 2092.5 V2169.5 M232.0 2000.5 V2075.5 M235.0 2018.5 V2103.5 M250.0 2067.5 V2140.5 M256.0 2064.5 V2136.5 M258.0 2039.5 V2112.5 M270.0 2046.5 V2134.5 M322.0 2065.5 V2153.5 M331.0 2078.5 V2151.5 M337.0 2034.5 V2106.5 M348.0 2040.5 V2120.5 M380.0 2040.5 V2117.5 M383.0 2007.5 V2087.5 M389.0 2030.5 V2104.5 M394.0 2076.5 V2163.5 M397.0 2041.5 V2121.5 M420.0 2042.5 V2129.5 M426.0 2077.5 V2154.5 M429.0 2067.5 V2151.5 M438.0 2088.5 V2168.5 M444.0 2059.5 V2133.5 M458.0 2073.5 V2150.5 M464.0 2044.5 V2117.5 M472.0 2083.5 V2157.5 M475.0 2055.5 V2136.5 M487.0 2079.5 V2160.5 M490.0 2109.5 V2194.5 M493.0 2124.5 V2199.5 M530.0 2256.5 V2334.5 M539.0 2279.5 V2364.5 M542.0 2231.5 V2315.5 M550.0 2162.5 V2240.5 M553.0 2178.5 V2259.5 M556.0 2175.5 V2251.5 M579.0 2131.5 V2211.5 M585.0 2249.5 V2333.5 M600.0 2318.5 V2391.5 M603.0 2236.5 V2316.5 M611.0 2255.5 V2340.5 M614.0 2244.5 V2328.5 M626.0 2264.5 V2337.5 M657.0 2126.5 V2207.5 M675.0 2093.5 V2169.5 M698.0 2069.5 V2144.5 M709.0 2070.5 V2144.5 M712.0 2058.5 V2140.5 M715.0 2098.5 V2174.5 M724.0 1991.5 V2071.5 M733.0 2048.5 V2124.5 M744.0 2027.5 V2108.5 M759.0 2056.5 V2141.5 M762.0 2043.5 V2123.5 M773.0 2063.5 V2145.5 M793.0 2055.5 V2129.5 M796.0 2035.5 V2118.5 M799.0 2068.5 V2141.5 M831.0 2075.5 V2160.5 M834.0 2037.5 V2110.5 M848.0 2037.5 V2118.5 M863.0 2017.5 V2102.5 M866.0 2069.5 V2148.5 M868.0 2030.5 V2110.5" stroke="#000" stroke-width="2" fill="none" shape-rendering="crispEdges"/>
<path d="M152.5 2008.5 H160.5 M152.5 2095.5 H160.5 M155.5 2053.5 H163.5 M155.5 2134.5 H163.5 M170.5 2055.5 H178.5 M170.5 2127.5 H178.5 M173.5 2059.5 H181.5 M173.5 2144.5 H181.5 M175.5 2006.5 H183.5 M175.5 2085.5 H183.5 M178.5 2040.5 H186.5 M178.5 2128.5 H186.5 M181.5 2038.5 H189.5 M181.5 2115.5 H189.5 M184.5 2062.5 H192.5 M184.5 2140.5 H192.5 M187.5 2096.5 H195.5 M187.5 2168.5 H195.5 M190.5 2031.5 H198.5 M190.5 2110.5 H198.5 M196.5 2061.5 H204.5 M196.5 2139.5 H204.5 M199.5 2062.5 H207.5 M199.5 2135.5 H207.5 M201.5 2060.5 H209.5 M201.5 2135.5 H209.5 M213.5 2036.5 H221.5 M213.5 2115.5 H221.5 M216.5 2110.5 H224.5 M216.5 2185.5 H224.5 M222.5 2075.5 H230.5 M222.5 2151.5 H230.5 M225.5 2063.5 H233.5 M225.5 2142.5 H233.5 M227.5 2000.5 H235.5 M227.5 2075.5 H235.5 M233.5 2043.5 H241.5 M233.5 2118.5 H241.5 M245.5 2067.5 H253.5 M245.5 2140.5 H253.5 M251.5 2064.5 H259.5 M251.5 2136.5 H259.5 M253.5 2039.5 H261.5 M253.5 2112.5 H261.5 M256.5 2033.5 H264.5 M256.5 2111.5 H264.5 M259.5 2037.5 H267.5 M259.5 2120.5 H267.5 M262.5 2053.5 H270.5 M262.5 2125.5 H270.5 M265.5 2046.5 H273.5 M265.5 2134.5 H273.5 M271.5 2049.5 H279.5 M271.5 2130.5 H279.5 M274.5 2039.5 H282.5 M274.5 2124.5 H282.5 M277.5 2003.5 H285.5 M277.5 2086.5 H285.5 M280.5 2002.5 H288.5 M280.5 2088.5 H288.5 M282.5 2069.5 H290.5 M282.5 2147.5 H290.5 M285.5 2074.5 H293.5 M285.5 2162.5 H293.5 M288.5 2064.5 H296.5 M288.5 2142.5 H296.5 M300.5 2021.5 H308.5 M300.5 2093.5 H308.5 M303.5 2047.5 H311.5 M303.5 2134.5 H311.5 M306.5 2058.5 H314.5 M306.5 2144.5 H314.5 M308.5 2052.5 H316.5 M308.5 2137.5 H316.5 M311.5 2073.5 H319.5 M311.5 2151.5 H319.5 M314.5 2063.5 H322.5 M314.5 2149.5 H322.5 M320.5 2029.5 H328.5 M320.5 2104.5 H328.5 M323.5 2053.5 H331.5 M323.5 2133.5 H331.5 M326.5 2078.5 H334.5 M326.5 2151.5 H334.5 M329.5 2047.5 H337.5 M329.5 2120.5 H337.5 M332.5 2034.5 H340.5 M332.5 2106.5 H340.5 M337.5 2051.5 H345.5 M337.5 2133.5 H345.5 M340.5 2052.5 H348.5 M340.5 2134.5 H348.5 M349.5 2043.5 H357.5 M349.5 2126.5 H357.5 M352.5 2069.5 H360.5 M352.5 2153.5 H360.5 M358.5 2042.5 H366.5 M358.5 2121.5 H366.5 M360.5 2021.5 H368.5 M360.5 2107.5 H368.5 M369.5 1998.5 H377.5 M369.5 2085.5 H377.5 M372.5 2006.5 H380.5 M372.5 2083.5 H380.5 M375.5 2040.5 H383.5 M375.5 2117.5 H383.5 M378.5 2007.5 H386.5 M378.5 2087.5 H386.5 M384.5 2030.5 H392.5 M384.5 2104.5 H392.5 M386.5 2088.5 H394.5 M386.5 2172.5 H394.5 M392.5 2041.5 H400.5 M392.5 2121.5 H400.5 M395.5 2028.5 H403.5 M395.5 2114.5 H403.5 M398.5 2028.5 H406.5 M398.5 2107.5 H406.5 M401.5 2062.5 H409.5 M401.5 2149.5 H409.5 M404.5 2104.5 H412.5 M404.5 2179.5 H412.5 M407.5 2044.5 H415.5 M407.5 2132.5 H415.5 M410.5 2047.5 H418.5 M410.5 2132.5 H418.5 M412.5 2050.5 H420.5 M412.5 2131.5 H420.5 M415.5 2042.5 H423.5 M415.5 2129.5 H423.5 M418.5 2072.5 H426.5 M418.5 2157.5 H426.5 M421.5 2077.5 H429.5 M421.5 2154.5 H429.5 M427.5 2053.5 H435.5 M427.5 2129.5 H435.5 M436.5 2034.5 H444.5 M436.5 2112.5 H444.5 M439.5 2059.5 H447.5 M439.5 2133.5 H447.5 M441.5 2039.5 H449.5 M441.5 2125.5 H449.5 M444.5 2042.5 H452.5 M444.5 2117.5 H452.5 M453.5 2073.5 H461.5 M453.5 2150.5 H461.5 M459.5 2044.5 H467.5 M459.5 2117.5 H467.5 M473.5 2082.5 H481.5 M473.5 2157.5 H481.5 M476.5 2108.5 H484.5 M476.5 2181.5 H484.5 M479.5 2093.5 H487.5 M479.5 2177.5 H487.5 M482.5 2079.5 H490.5 M482.5 2160.5 H490.5 M485.5 2109.5 H493.5 M485.5 2194.5 H493.5 M488.5 2124.5 H496.5 M488.5 2199.5 H496.5 M491.5 2111.5 H499.5 M491.5 2183.5 H499.5 M493.5 2129.5 H501.5 M493.5 2212.5 H501.5 M496.5 2109.5 H504.5 M496.5 2189.5 H504.5 M499.5 2167.5 H507.5 M499.5 2251.5 H507.5 M502.5 2245.5 H510.5 M502.5 2324.5 H510.5 M505.5 2185.5 H513.5 M505.5 2269.5 H513.5 M508.5 2177.5 H516.5 M508.5 2251.5 H516.5 M514.5 2235.5 H522.5 M514.5 2322.5 H522.5 M517.5 2226.5 H525.5 M517.5 2306.5 H525.5 M519.5 2220.5 H527.5 M519.5 2302.5 H527.5 M528.5 2249.5 H536.5 M528.5 2325.5 H536.5 M531.5 2260.5 H539.5 M531.5 2340.5 H539.5 M534.5 2279.5 H542.5 M534.5 2364.5 H542.5 M537.5 2231.5 H545.5 M537.5 2315.5 H545.5 M540.5 2240.5 H548.5 M540.5 2315.5 H548.5 M543.5 2237.5 H551.5 M543.5 2310.5 H551.5 M545.5 2162.5 H553.5 M545.5 2240.5 H553.5 M548.5 2178.5 H556.5 M548.5 2259.5 H556.5 M554.5 2168.5 H562.5 M554.5 2252.5 H562.5 M560.5 2145.5 H568.5 M560.5 2231.5 H568.5 M563.5 2173.5 H571.5 M563.5 2254.5 H571.5 M566.5 2151.5 H574.5 M566.5 2231.5 H574.5 M574.5 2131.5 H582.5 M574.5 2211.5 H582.5 M577.5 2190.5 H585.5 M577.5 2269.5 H585.5 M583.5 2195.5 H591.5 M583.5 2281.5 H591.5 M586.5 2197.5 H594.5 M586.5 2280.5 H594.5 M595.5 2318.5 H603.5 M595.5 2391.5 H603.5 M600.5 2234.5 H608.5 M600.5 2317.5 H608.5 M603.5 2222.5 H611.5 M603.5 2297.5 H611.5 M609.5 2244.5 H617.5 M609.5 2328.5 H617.5 M612.5 2198.5 H620.5 M612.5 2274.5 H620.5 M615.5 2184.5 H623.5 M615.5 2262.5 H623.5 M618.5 2156.5 H626.5 M618.5 2243.5 H626.5 M621.5 2264.5 H629.5 M621.5 2337.5 H629.5 M629.5 2171.5 H637.5 M629.5 2248.5 H637.5 M632.5 2163.5 H640.5 M632.5 2241.5 H640.5 M635.5 2168.5 H643.5 M635.5 2242.5 H643.5 M638.5 2188.5 H646.5 M638.5 2275.5 H646.5 M641.5 2098.5 H649.5 M641.5 2175.5 H649.5 M644.5 2169.5 H652.5 M644.5 2245.5 H652.5 M647.5 2087.5 H655.5 M647.5 2165.5 H655.5 M650.5 2110.5 H658.5 M650.5 2195.5 H658.5 M652.5 2126.5 H660.5 M652.5 2207.5 H660.5 M655.5 2109.5 H663.5 M655.5 2181.5 H663.5 M658.5 2070.5 H666.5 M658.5 2151.5 H666.5 M664.5 2072.5 H672.5 M664.5 2146.5 H672.5 M667.5 2109.5 H675.5 M667.5 2184.5 H675.5 M670.5 2093.5 H678.5 M670.5 2169.5 H678.5 M673.5 2027.5 H681.5 M673.5 2105.5 H681.5 M676.5 2061.5 H684.5 M676.5 2143.5 H684.5 M678.5 2055.5 H686.5 M678.5 2142.5 H686.5 M681.5 2023.5 H689.5 M681.5 2106.5 H689.5 M684.5 2087.5 H692.5 M684.5 2174.5 H692.5 M687.5 2013.5 H695.5 M687.5 2096.5 H695.5 M690.5 2046.5 H698.5 M690.5 2130.5 H698.5 M693.5 2069.5 H701.5 M693.5 2144.5 H701.5 M710.5 2098.5 H718.5 M710.5 2174.5 H718.5 M716.5 2081.5 H724.5 M716.5 2167.5 H724.5 M722.5 2030.5 H730.5 M722.5 2117.5 H730.5 M725.5 2023.5 H733.5 M725.5 2100.5 H733.5 M728.5 2048.5 H736.5 M728.5 2124.5 H736.5 M739.5 2027.5 H747.5 M739.5 2108.5 H747.5 M748.5 2017.5 H756.5 M748.5 2104.5 H756.5 M751.5 2054.5 H759.5 M751.5 2131.5 H759.5 M754.5 2056.5 H762.5 M754.5 2141.5 H762.5 M757.5 2043.5 H765.5 M757.5 2123.5 H765.5 M759.5 2043.5 H767.5 M759.5 2117.5 H767.5 M762.5 2067.5 H770.5 M762.5 2151.5 H770.5 M765.5 2069.5 H773.5 M765.5 2148.5 H773.5 M768.5 2063.5 H776.5 M768.5 2145.5 H776.5 M780.5 2034.5 H788.5 M780.5 2112.5 H788.5 M783.5 2045.5 H791.5 M783.5 2128.5 H791.5 M785.5 2064.5 H793.5 M785.5 2145.5 H793.5 M788.5 2055.5 H796.5 M788.5 2129.5 H796.5 M791.5 2035.5 H799.5 M791.5 2118.5 H799.5 M800.5 2070.5 H808.5 M800.5 2151.5 H808.5 M803.5 2031.5 H811.5 M803.5 2116.5 H811.5 M806.5 2043.5 H814.5 M806.5 2121.5 H814.5 M809.5 2046.5 H817.5 M809.5 2131.5 H817.5 M814.5 2050.5 H822.5 M814.5 2128.5 H822.5 M817.5 2065.5 H825.5 M817.5 2139.5 H825.5 M820.5 2013.5 H828.5 M820.5 2094.5 H828.5 M823.5 2068.5 H831.5 M823.5 2155.5 H831.5 M826.5 2075.5 H834.5 M826.5 2160.5 H834.5 M829.5 2037.5 H837.5 M829.5 2110.5 H837.5 M832.5 2031.5 H840.5 M832.5 2115.5 H840.5 M837.5 2064.5 H845.5 M837.5 2151.5 H845.5 M840.5 2023.5 H848.5 M840.5 2110.5 H848.5 M843.5 2037.5 H851.5 M843.5 2118.5 H851.5 M846.5 2034.5 H854.5 M846.5 2110.5 H854.5 M852.5 2057.5 H860.5 M852.5 2145.5 H860.5 M855.5 2050.5 H863.5 M855.5 2127.5 H863.5 M861.5 2069.5 H869.5 M861.5 2148.5 H869.5 M863.5 2030.5 H871.5 M863.5 2110.5 H871.5 M869.5 2034.5 H877.5 M869.5 2121.5 H877.5 M872.5 2032.5 H880.5 M872.5 2111.5 H880.5 M875.5 2047.5 H883.5 M875.5 2127.5 H883.5 M878.5 1998.5 H886.5 M878.5 2084.5 H886.5 M881.5 1993.5 H889.5 M881.5 2073.5 H889.5 M887.5 2034.5 H895.5 M887.5 2118.5 H895.5" stroke="#000" stroke-width="1.2" fill="none"/>
<path d="M158.5 2015.5 H166.5 M158.5 2089.5 H166.5 M161.5 2007.5 H169.5 M161.5 2092.5 H169.5 M164.5 2109.5 H172.5 M164.5 2192.5 H172.5 M167.5 2040.5 H175.5 M167.5 2112.5 H175.5 M193.5 2074.5 H201.5 M193.5 2159.5 H201.5 M204.5 2062.5 H212.5 M204.5 2136.5 H212.5 M207.5 2084.5 H215.5 M207.5 2163.5 H215.5 M210.5 2092.5 H218.5 M210.5 2169.5 H218.5 M219.5 2092.5 H227.5 M219.5 2169.5 H227.5 M230.5 2018.5 H238.5 M230.5 2103.5 H238.5 M236.5 1982.5 H244.5 M236.5 2064.5 H244.5 M239.5 2111.5 H247.5 M239.5 2187.5 H247.5 M242.5 2058.5 H250.5 M242.5 2143.5 H250.5 M248.5 2079.5 H256.5 M248.5 2164.5 H256.5 M268.5 2004.5 H276.5 M268.5 2082.5 H276.5 M291.5 2002.5 H299.5 M291.5 2076.5 H299.5 M294.5 2063.5 H302.5 M294.5 2144.5 H302.5 M297.5 2035.5 H305.5 M297.5 2117.5 H305.5 M317.5 2065.5 H325.5 M317.5 2153.5 H325.5 M334.5 2093.5 H342.5 M334.5 2166.5 H342.5 M343.5 2040.5 H351.5 M343.5 2120.5 H351.5 M346.5 2032.5 H354.5 M346.5 2111.5 H354.5 M355.5 2054.5 H363.5 M355.5 2140.5 H363.5 M363.5 2072.5 H371.5 M363.5 2152.5 H371.5 M366.5 2039.5 H374.5 M366.5 2121.5 H374.5 M381.5 2039.5 H389.5 M381.5 2112.5 H389.5 M389.5 2076.5 H397.5 M389.5 2163.5 H397.5 M424.5 2067.5 H432.5 M424.5 2151.5 H432.5 M430.5 2039.5 H438.5 M430.5 2113.5 H438.5 M433.5 2088.5 H441.5 M433.5 2168.5 H441.5 M447.5 2085.5 H455.5 M447.5 2162.5 H455.5 M450.5 2050.5 H458.5 M450.5 2138.5 H458.5 M456.5 2113.5 H464.5 M456.5 2192.5 H464.5 M462.5 2095.5 H470.5 M462.5 2181.5 H470.5 M465.5 2035.5 H473.5 M465.5 2115.5 H473.5 M467.5 2083.5 H475.5 M467.5 2157.5 H475.5 M470.5 2055.5 H478.5 M470.5 2136.5 H478.5 M511.5 2251.5 H519.5 M511.5 2333.5 H519.5 M522.5 2258.5 H530.5 M522.5 2340.5 H530.5 M525.5 2256.5 H533.5 M525.5 2334.5 H533.5 M551.5 2175.5 H559.5 M551.5 2251.5 H559.5 M557.5 2156.5 H565.5 M557.5 2244.5 H565.5 M569.5 2145.5 H577.5 M569.5 2227.5 H577.5 M571.5 2157.5 H579.5 M571.5 2229.5 H579.5 M580.5 2249.5 H588.5 M580.5 2333.5 H588.5 M589.5 2240.5 H597.5 M589.5 2322.5 H597.5 M592.5 2232.5 H600.5 M592.5 2319.5 H600.5 M598.5 2236.5 H606.5 M598.5 2316.5 H606.5 M606.5 2255.5 H614.5 M606.5 2340.5 H614.5 M624.5 2238.5 H632.5 M624.5 2317.5 H632.5 M626.5 2198.5 H634.5 M626.5 2274.5 H634.5 M661.5 2084.5 H669.5 M661.5 2165.5 H669.5 M696.5 2044.5 H704.5 M696.5 2117.5 H704.5 M699.5 2123.5 H707.5 M699.5 2205.5 H707.5 M702.5 2083.5 H710.5 M702.5 2164.5 H710.5 M704.5 2070.5 H712.5 M704.5 2144.5 H712.5 M707.5 2058.5 H715.5 M707.5 2140.5 H715.5 M713.5 2039.5 H721.5 M713.5 2124.5 H721.5 M719.5 1991.5 H727.5 M719.5 2071.5 H727.5 M730.5 2018.5 H738.5 M730.5 2101.5 H738.5 M733.5 2087.5 H741.5 M733.5 2162.5 H741.5 M736.5 2071.5 H744.5 M736.5 2153.5 H744.5 M742.5 2096.5 H750.5 M742.5 2181.5 H750.5 M745.5 2052.5 H753.5 M745.5 2128.5 H753.5 M771.5 2042.5 H779.5 M771.5 2124.5 H779.5 M774.5 2025.5 H782.5 M774.5 2113.5 H782.5 M777.5 2032.5 H785.5 M777.5 2110.5 H785.5 M794.5 2068.5 H802.5 M794.5 2141.5 H802.5 M797.5 2020.5 H805.5 M797.5 2094.5 H805.5 M811.5 2070.5 H819.5 M811.5 2148.5 H819.5 M835.5 2030.5 H843.5 M835.5 2104.5 H843.5 M849.5 2101.5 H857.5 M849.5 2176.5 H857.5 M858.5 2017.5 H866.5 M858.5 2102.5 H866.5 M866.5 2039.5 H874.5 M866.5 2117.5 H874.5 M884.5 2018.5 H892.5 M884.5 2105.5 H892.5 M890.5 1991.5 H898.5 M890.5 2068.5 H898.5" stroke="#000" stroke-width="2" fill="none"/>
<g fill="#fff" stroke="#666" stroke-width="0.7"><circle cx="156.5" cy="2052.2" r="1.8"/><circle cx="159.5" cy="2093.9" r="1.8"/><circle cx="162.5" cy="2052.4" r="1.8"/><circle cx="165.5" cy="2050.5" r="1.8"/><circle cx="168.5" cy="2150.9" r="1.8"/><circle cx="171.5" cy="2076.6" r="1.8"/><circle cx="174.5" cy="2091.2" r="1.8"/><circle cx="177.5" cy="2102.2" r="1.8"/><circle cx="179.5" cy="2045.9" r="1.8"/><circle cx="182.5" cy="2084.3" r="1.8"/><circle cx="185.5" cy="2076.7" r="1.8"/><circle cx="188.5" cy="2101.5" r="1.8"/><circle cx="191.5" cy="2133.0" r="1.8"/><circle cx="194.5" cy="2071.2" r="1.8"/><circle cx="197.5" cy="2117.2" r="1.8"/><circle cx="200.5" cy="2100.6" r="1.8"/><circle cx="203.5" cy="2098.8" r="1.8"/><circle cx="205.5" cy="2097.6" r="1.8"/><circle cx="208.5" cy="2099.8" r="1.8"/><circle cx="211.5" cy="2123.8" r="1.8"/><circle cx="214.5" cy="2130.6" r="1.8"/><circle cx="217.5" cy="2076.0" r="1.8"/><circle cx="220.5" cy="2147.8" r="1.8"/><circle cx="223.5" cy="2130.8" r="1.8"/><circle cx="226.5" cy="2113.6" r="1.8"/><circle cx="229.5" cy="2103.1" r="1.8"/><circle cx="231.5" cy="2038.2" r="1.8"/><circle cx="234.5" cy="2061.2" r="1.8"/><circle cx="237.5" cy="2080.7" r="1.8"/><circle cx="240.5" cy="2023.2" r="1.8"/><circle cx="243.5" cy="2149.6" r="1.8"/><circle cx="246.5" cy="2101.0" r="1.8"/><circle cx="249.5" cy="2103.7" r="1.8"/><circle cx="252.5" cy="2122.0" r="1.8"/><circle cx="255.5" cy="2100.3" r="1.8"/><circle cx="257.5" cy="2076.4" r="1.8"/><circle cx="260.5" cy="2072.7" r="1.8"/><circle cx="263.5" cy="2079.1" r="1.8"/><circle cx="266.5" cy="2089.6" r="1.8"/><circle cx="269.5" cy="2090.6" r="1.8"/><circle cx="272.5" cy="2043.5" r="1.8"/><circle cx="275.5" cy="2090.1" r="1.8"/><circle cx="278.5" cy="2082.2" r="1.8"/><circle cx="281.5" cy="2045.1" r="1.8"/><circle cx="284.5" cy="2045.7" r="1.8"/><circle cx="286.5" cy="2108.5" r="1.8"/><circle cx="289.5" cy="2118.2" r="1.8"/><circle cx="292.5" cy="2103.7" r="1.8"/><circle cx="295.5" cy="2039.6" r="1.8"/><circle cx="298.5" cy="2104.0" r="1.8"/><circle cx="301.5" cy="2076.3" r="1.8"/><circle cx="304.5" cy="2057.2" r="1.8"/><circle cx="307.5" cy="2090.8" r="1.8"/><circle cx="310.5" cy="2101.4" r="1.8"/><circle cx="312.5" cy="2095.1" r="1.8"/><circle cx="315.5" cy="2112.6" r="1.8"/><circle cx="318.5" cy="2106.5" r="1.8"/><circle cx="321.5" cy="2109.6" r="1.8"/><circle cx="324.5" cy="2066.8" r="1.8"/><circle cx="327.5" cy="2093.2" r="1.8"/><circle cx="330.5" cy="2115.3" r="1.8"/><circle cx="333.5" cy="2083.8" r="1.8"/><circle cx="336.5" cy="2070.4" r="1.8"/><circle cx="338.5" cy="2130.2" r="1.8"/><circle cx="341.5" cy="2092.5" r="1.8"/><circle cx="344.5" cy="2093.8" r="1.8"/><circle cx="347.5" cy="2080.7" r="1.8"/><circle cx="350.5" cy="2071.9" r="1.8"/><circle cx="353.5" cy="2084.6" r="1.8"/><circle cx="356.5" cy="2111.8" r="1.8"/><circle cx="359.5" cy="2097.5" r="1.8"/><circle cx="362.5" cy="2082.3" r="1.8"/><circle cx="364.5" cy="2064.5" r="1.8"/><circle cx="367.5" cy="2112.4" r="1.8"/><circle cx="370.5" cy="2080.6" r="1.8"/><circle cx="373.5" cy="2042.0" r="1.8"/><circle cx="376.5" cy="2044.7" r="1.8"/><circle cx="379.5" cy="2079.1" r="1.8"/><circle cx="382.5" cy="2047.7" r="1.8"/><circle cx="385.5" cy="2076.4" r="1.8"/><circle cx="388.5" cy="2067.2" r="1.8"/><circle cx="390.5" cy="2130.2" r="1.8"/><circle cx="393.5" cy="2119.7" r="1.8"/><circle cx="396.5" cy="2081.4" r="1.8"/><circle cx="399.5" cy="2071.5" r="1.8"/><circle cx="402.5" cy="2068.0" r="1.8"/><circle cx="405.5" cy="2105.8" r="1.8"/><circle cx="408.5" cy="2142.0" r="1.8"/><circle cx="411.5" cy="2088.7" r="1.8"/><circle cx="414.5" cy="2090.2" r="1.8"/><circle cx="416.5" cy="2091.1" r="1.8"/><circle cx="419.5" cy="2086.2" r="1.8"/><circle cx="422.5" cy="2115.1" r="1.8"/><circle cx="425.5" cy="2116.2" r="1.8"/><circle cx="428.5" cy="2109.3" r="1.8"/><circle cx="431.5" cy="2091.7" r="1.8"/><circle cx="434.5" cy="2076.5" r="1.8"/><circle cx="437.5" cy="2128.2" r="1.8"/><circle cx="440.5" cy="2073.3" r="1.8"/><circle cx="443.5" cy="2096.5" r="1.8"/><circle cx="445.5" cy="2082.4" r="1.8"/><circle cx="448.5" cy="2079.9" r="1.8"/><circle cx="451.5" cy="2124.3" r="1.8"/><circle cx="454.5" cy="2094.4" r="1.8"/><circle cx="457.5" cy="2112.0" r="1.8"/><circle cx="460.5" cy="2153.0" r="1.8"/><circle cx="463.5" cy="2081.1" r="1.8"/><circle cx="466.5" cy="2138.7" r="1.8"/><circle cx="469.5" cy="2075.1" r="1.8"/><circle cx="471.5" cy="2120.6" r="1.8"/><circle cx="474.5" cy="2096.2" r="1.8"/><circle cx="477.5" cy="2120.1" r="1.8"/><circle cx="480.5" cy="2145.5" r="1.8"/><circle cx="483.5" cy="2135.5" r="1.8"/><circle cx="486.5" cy="2119.8" r="1.8"/><circle cx="489.5" cy="2152.2" r="1.8"/><circle cx="492.5" cy="2161.9" r="1.8"/><circle cx="495.5" cy="2147.5" r="1.8"/><circle cx="497.5" cy="2171.0" r="1.8"/><circle cx="500.5" cy="2149.0" r="1.8"/><circle cx="503.5" cy="2209.9" r="1.8"/><circle cx="506.5" cy="2284.9" r="1.8"/><circle cx="509.5" cy="2227.5" r="1.8"/><circle cx="512.5" cy="2214.5" r="1.8"/><circle cx="515.5" cy="2292.2" r="1.8"/><circle cx="518.5" cy="2278.9" r="1.8"/><circle cx="521.5" cy="2266.4" r="1.8"/><circle cx="523.5" cy="2261.6" r="1.8"/><circle cx="526.5" cy="2299.7" r="1.8"/><circle cx="529.5" cy="2295.7" r="1.8"/><circle cx="532.5" cy="2287.7" r="1.8"/><circle cx="535.5" cy="2300.9" r="1.8"/><circle cx="538.5" cy="2322.3" r="1.8"/><circle cx="541.5" cy="2273.7" r="1.8"/><circle cx="544.5" cy="2278.2" r="1.8"/><circle cx="547.5" cy="2273.9" r="1.8"/><circle cx="549.5" cy="2201.6" r="1.8"/><circle cx="552.5" cy="2218.7" r="1.8"/><circle cx="555.5" cy="2213.4" r="1.8"/><circle cx="558.5" cy="2210.8" r="1.8"/><circle cx="561.5" cy="2200.5" r="1.8"/><circle cx="564.5" cy="2188.3" r="1.8"/><circle cx="567.5" cy="2213.9" r="1.8"/><circle cx="570.5" cy="2191.6" r="1.8"/><circle cx="573.5" cy="2186.8" r="1.8"/><circle cx="575.5" cy="2193.5" r="1.8"/><circle cx="578.5" cy="2171.6" r="1.8"/><circle cx="581.5" cy="2229.9" r="1.8"/><circle cx="584.5" cy="2291.2" r="1.8"/><circle cx="587.5" cy="2238.3" r="1.8"/><circle cx="590.5" cy="2239.3" r="1.8"/><circle cx="593.5" cy="2281.1" r="1.8"/><circle cx="596.5" cy="2276.1" r="1.8"/><circle cx="599.5" cy="2355.1" r="1.8"/><circle cx="602.5" cy="2276.5" r="1.8"/><circle cx="604.5" cy="2275.6" r="1.8"/><circle cx="607.5" cy="2260.0" r="1.8"/><circle cx="610.5" cy="2298.0" r="1.8"/><circle cx="613.5" cy="2286.5" r="1.8"/><circle cx="616.5" cy="2236.8" r="1.8"/><circle cx="619.5" cy="2223.5" r="1.8"/><circle cx="622.5" cy="2199.7" r="1.8"/><circle cx="625.5" cy="2300.9" r="1.8"/><circle cx="628.5" cy="2277.9" r="1.8"/><circle cx="630.5" cy="2236.4" r="1.8"/><circle cx="633.5" cy="2210.0" r="1.8"/><circle cx="636.5" cy="2202.3" r="1.8"/><circle cx="639.5" cy="2205.2" r="1.8"/><circle cx="642.5" cy="2231.9" r="1.8"/><circle cx="645.5" cy="2136.6" r="1.8"/><circle cx="648.5" cy="2207.6" r="1.8"/><circle cx="651.5" cy="2126.6" r="1.8"/><circle cx="654.5" cy="2152.8" r="1.8"/><circle cx="656.5" cy="2166.8" r="1.8"/><circle cx="659.5" cy="2145.6" r="1.8"/><circle cx="662.5" cy="2111.2" r="1.8"/><circle cx="665.5" cy="2124.8" r="1.8"/><circle cx="668.5" cy="2109.4" r="1.8"/><circle cx="671.5" cy="2147.1" r="1.8"/><circle cx="674.5" cy="2131.5" r="1.8"/><circle cx="677.5" cy="2066.6" r="1.8"/><circle cx="680.5" cy="2102.5" r="1.8"/><circle cx="682.5" cy="2099.2" r="1.8"/><circle cx="685.5" cy="2064.9" r="1.8"/><circle cx="688.5" cy="2131.0" r="1.8"/><circle cx="691.5" cy="2055.2" r="1.8"/><circle cx="694.5" cy="2088.3" r="1.8"/><circle cx="697.5" cy="2107.0" r="1.8"/><circle cx="700.5" cy="2081.1" r="1.8"/><circle cx="703.5" cy="2164.5" r="1.8"/><circle cx="706.5" cy="2123.9" r="1.8"/><circle cx="708.5" cy="2107.6" r="1.8"/><circle cx="711.5" cy="2099.7" r="1.8"/><circle cx="714.5" cy="2136.4" r="1.8"/><circle cx="717.5" cy="2082.2" r="1.8"/><circle cx="720.5" cy="2124.4" r="1.8"/><circle cx="723.5" cy="2031.2" r="1.8"/><circle cx="726.5" cy="2074.0" r="1.8"/><circle cx="729.5" cy="2061.8" r="1.8"/><circle cx="732.5" cy="2086.8" r="1.8"/><circle cx="734.5" cy="2059.8" r="1.8"/><circle cx="737.5" cy="2125.0" r="1.8"/><circle cx="740.5" cy="2112.5" r="1.8"/><circle cx="743.5" cy="2067.9" r="1.8"/><circle cx="746.5" cy="2138.8" r="1.8"/><circle cx="749.5" cy="2090.6" r="1.8"/><circle cx="752.5" cy="2061.0" r="1.8"/><circle cx="755.5" cy="2093.4" r="1.8"/><circle cx="758.5" cy="2099.3" r="1.8"/><circle cx="761.5" cy="2083.6" r="1.8"/><circle cx="763.5" cy="2080.6" r="1.8"/><circle cx="766.5" cy="2109.6" r="1.8"/><circle cx="769.5" cy="2109.1" r="1.8"/><circle cx="772.5" cy="2104.5" r="1.8"/><circle cx="775.5" cy="2083.5" r="1.8"/><circle cx="778.5" cy="2069.5" r="1.8"/><circle cx="781.5" cy="2071.9" r="1.8"/><circle cx="784.5" cy="2073.4" r="1.8"/><circle cx="787.5" cy="2086.9" r="1.8"/><circle cx="789.5" cy="2104.8" r="1.8"/><circle cx="792.5" cy="2092.7" r="1.8"/><circle cx="795.5" cy="2077.1" r="1.8"/><circle cx="798.5" cy="2105.2" r="1.8"/><circle cx="801.5" cy="2057.2" r="1.8"/><circle cx="804.5" cy="2111.0" r="1.8"/><circle cx="807.5" cy="2073.6" r="1.8"/><circle cx="810.5" cy="2082.8" r="1.8"/><circle cx="813.5" cy="2089.0" r="1.8"/><circle cx="815.5" cy="2109.6" r="1.8"/><circle cx="818.5" cy="2089.1" r="1.8"/><circle cx="821.5" cy="2102.5" r="1.8"/><circle cx="824.5" cy="2054.4" r="1.8"/><circle cx="827.5" cy="2112.0" r="1.8"/><circle cx="830.5" cy="2118.0" r="1.8"/><circle cx="833.5" cy="2073.9" r="1.8"/><circle cx="836.5" cy="2073.5" r="1.8"/><circle cx="839.5" cy="2067.2" r="1.8"/><circle cx="841.5" cy="2107.9" r="1.8"/><circle cx="844.5" cy="2066.7" r="1.8"/><circle cx="847.5" cy="2078.1" r="1.8"/><circle cx="850.5" cy="2072.2" r="1.8"/><circle cx="853.5" cy="2139.3" r="1.8"/><circle cx="856.5" cy="2101.5" r="1.8"/><circle cx="859.5" cy="2088.6" r="1.8"/><circle cx="862.5" cy="2059.7" r="1.8"/><circle cx="865.5" cy="2108.8" r="1.8"/><circle cx="867.5" cy="2070.7" r="1.8"/><circle cx="870.5" cy="2078.4" r="1.8"/><circle cx="873.5" cy="2078.2" r="1.8"/><circle cx="876.5" cy="2072.3" r="1.8"/><circle cx="879.5" cy="2087.2" r="1.8"/><circle cx="882.5" cy="2041.6" r="1.8"/><circle cx="885.5" cy="2033.3" r="1.8"/><circle cx="888.5" cy="2062.2" r="1.8"/><circle cx="891.5" cy="2076.3" r="1.8"/><circle cx="894.5" cy="2029.6" r="1.8"/></g>
<path d="M156.8 1815.5 L157.8 1815.5 L158.8 1815.5 L159.8 1815.6 L160.8 1815.6 L161.8 1815.6 L162.8 1815.6 L163.8 1815.6 L164.8 1815.6 L165.8 1815.6 L166.8 1815.6 L167.8 1815.6 L168.8 1815.6 L169.8 1815.6 L170.8 1815.6 L171.8 1815.6 L172.8 1815.6 L173.8 1815.6 L174.8 1815.6 L175.8 1815.6 L176.8 1815.6 L177.8 1815.6 L178.8 1815.6 L179.8 1815.6 L180.8 1815.6 L181.8 1815.6 L182.8 1815.6 L183.8 1815.6 L184.8 1815.6 L185.8 1815.6 L186.8 1815.6 L187.8 1815.6 L188.8 1815.6 L189.8 1815.6 L190.8 1815.7 L191.8 1815.7 L192.8 1815.7 L193.8 1815.7 L194.8 1815.7 L195.8 1815.7 L196.8 1815.7 L197.8 1815.7 L198.8 1815.7 L199.8 1815.7 L200.8 1815.7 L201.8 1815.7 L202.8 1815.7 L203.8 1815.7 L204.8 1815.7 L205.8 1815.7 L206.8 1815.7 L207.8 1815.7 L208.8 1815.7 L209.8 1815.7 L210.8 1815.7 L211.8 1815.7 L212.8 1815.7 L213.8 1815.7 L214.8 1815.7 L215.8 1815.8 L216.8 1815.8 L217.8 1815.8 L218.8 1815.8 L219.8 1815.8 L220.8 1815.8 L221.8 1815.8 L222.8 1815.8 L223.8 1815.8 L224.8 1815.8 L225.8 1815.8 L226.8 1815.8 L227.8 1815.8 L228.8 1815.8 L229.8 1815.8 L230.8 1815.8 L231.8 1815.8 L232.8 1815.8 L233.8 1815.8 L234.8 1815.8 L235.8 1815.9 L236.8 1815.9 L237.8 1815.9 L238.8 1815.9 L239.8 1815.9 L240.8 1815.9 L241.8 1815.9 L242.8 1815.9 L243.8 1815.9 L244.8 1815.9 L245.8 1815.9 L246.8 1815.9 L247.8 1815.9 L248.8 1815.9 L249.8 1815.9 L250.8 1815.9 L251.8 1815.9 L252.8 1816.0 L253.8 1816.0 L254.8 1816.0 L255.8 1816.0 L256.8 1816.0 L257.8 1816.0 L258.8 1816.0 L259.8 1816.0 L260.8 1816.0 L261.8 1816.0 L262.8 1816.0 L263.8 1816.0 L264.8 1816.0 L265.8 1816.0 L266.8 1816.1 L267.8 1816.1 L268.8 1816.1 L269.8 1816.1 L270.8 1816.1 L271.8 1816.1 L272.8 1816.1 L273.8 1816.1 L274.8 1816.1 L275.8 1816.1 L276.8 1816.1 L277.8 1816.1 L278.8 1816.2 L279.8 1816.2 L280.8 1816.2 L281.8 1816.2 L282.8 1816.2 L283.8 1816.2 L284.8 1816.2 L285.8 1816.2 L286.8 1816.2 L287.8 1816.2 L288.8 1816.2 L289.8 1816.3 L290.8 1816.3 L291.8 1816.3 L292.8 1816.3 L293.8 1816.3 L294.8 1816.3 L295.8 1816.3 L296.8 1816.3 L297.8 1816.3 L298.8 1816.3 L299.8 1816.4 L300.8 1816.4 L301.8 1816.4 L302.8 1816.4 L303.8 1816.4 L304.8 1816.4 L305.8 1816.4 L306.8 1816.4 L307.8 1816.5 L308.8 1816.5 L309.8 1816.5 L310.8 1816.5 L311.8 1816.5 L312.8 1816.5 L313.8 1816.5 L314.8 1816.5 L315.8 1816.6 L316.8 1816.6 L317.8 1816.6 L318.8 1816.6 L319.8 1816.6 L320.8 1816.6 L321.8 1816.6 L322.8 1816.7 L323.8 1816.7 L324.8 1816.7 L325.8 1816.7 L326.8 1816.7 L327.8 1816.7 L328.8 1816.8 L329.8 1816.8 L330.8 1816.8 L331.8 1816.8 L332.8 1816.8 L333.8 1816.8 L334.8 1816.9 L335.8 1816.9 L336.8 1816.9 L337.8 1816.9 L338.8 1816.9 L339.8 1817.0 L340.8 1817.0 L341.8 1817.0 L342.8 1817.0 L343.8 1817.0 L344.8 1817.1 L345.8 1817.1 L346.8 1817.1 L347.8 1817.1 L348.8 1817.2 L349.8 1817.2 L350.8 1817.2 L351.8 1817.2 L352.8 1817.2 L353.8 1817.3 L354.8 1817.3 L355.8 1817.3 L356.8 1817.3 L357.8 1817.4 L358.8 1817.4 L359.8 1817.4 L360.8 1817.5 L361.8 1817.5 L362.8 1817.5 L363.8 1817.5 L364.8 1817.6 L365.8 1817.6 L366.8 1817.6 L367.8 1817.7 L368.8 1817.7 L369.8 1817.7 L370.8 1817.8 L371.8 1817.8 L372.8 1817.8 L373.8 1817.9 L374.8 1817.9 L375.8 1817.9 L376.8 1818.0 L377.8 1818.0 L378.8 1818.1 L379.8 1818.1 L380.8 1818.1 L381.8 1818.2 L382.8 1818.2 L383.8 1818.3 L384.8 1818.3 L385.8 1818.4 L386.8 1818.4 L387.8 1818.4 L388.8 1818.5 L389.8 1818.5 L390.8 1818.6 L391.8 1818.6 L392.8 1818.7 L393.8 1818.8 L394.8 1818.8 L395.8 1818.9 L396.8 1818.9 L397.8 1819.0 L398.8 1819.0 L399.8 1819.1 L400.8 1819.2 L401.8 1819.2 L402.8 1819.3 L403.8 1819.4 L404.8 1819.4 L405.8 1819.5 L406.8 1819.6 L407.8 1819.7 L408.8 1819.7 L409.8 1819.8 L410.8 1819.9 L411.8 1820.0 L412.8 1820.1 L413.8 1820.1 L414.8 1820.2 L415.8 1820.3 L416.8 1820.4 L417.8 1820.5 L418.8 1820.6 L419.8 1820.7 L420.8 1820.8 L421.8 1820.9 L422.8 1821.0 L423.8 1821.2 L424.8 1821.3 L425.8 1821.4 L426.8 1821.5 L427.8 1821.7 L428.8 1821.8 L429.8 1821.9 L430.8 1822.1 L431.8 1822.2 L432.8 1822.4 L433.8 1822.5 L434.8 1822.7 L435.8 1822.9 L436.8 1823.0 L437.8 1823.2 L438.8 1823.4 L439.8 1823.6 L440.8 1823.8 L441.8 1824.0 L442.8 1824.2 L443.8 1824.4 L444.8 1824.7 L445.8 1824.9 L446.8 1825.2 L447.8 1825.4 L448.8 1825.7 L449.8 1826.0 L450.8 1826.2 L451.8 1826.5 L452.8 1826.9 L453.8 1827.2 L454.8 1827.5 L455.8 1827.9 L456.8 1828.2 L457.8 1828.6 L458.8 1829.0 L459.8 1829.5 L460.8 1829.9 L461.8 1830.4 L462.8 1830.8 L463.8 1831.3 L464.8 1831.9 L465.8 1832.4 L466.8 1833.0 L467.8 1833.6 L468.8 1834.3 L469.8 1834.9 L470.8 1835.6 L471.8 1836.4 L472.8 1837.2 L473.8 1838.0 L474.8 1838.8 L475.8 1839.8 L476.8 1840.7 L477.8 1841.7 L478.8 1842.8 L479.8 1844.0 L480.8 1845.2 L481.8 1846.4 L482.8 1847.8 L483.8 1849.2 L484.8 1850.7 L485.8 1852.2 L486.8 1853.9 L487.8 1855.7 L488.8 1857.5 L489.8 1859.5 L490.8 1861.6 L491.8 1863.8 L492.8 1866.1 L493.8 1868.5 L494.8 1871.0 L495.8 1873.6 L496.8 1876.3 L497.8 1879.2 L498.8 1882.1 L499.8 1885.1 L500.8 1888.2 L501.8 1891.3 L502.8 1894.4 L503.8 1897.5 L504.8 1900.6 L505.8 1903.5 L506.8 1906.3 L507.8 1908.9 L508.8 1911.3 L509.8 1913.4 L510.8 1915.1 L511.8 1916.5 L512.8 1917.4 L513.8 1917.9 L514.8 1918.0 L515.8 1917.6 L516.8 1916.8 L517.8 1915.5 L518.8 1913.9 L519.8 1912.0 L520.8 1909.7 L521.8 1907.2 L522.8 1904.6 L523.8 1901.8 L524.8 1898.8 L525.8 1895.9 L526.8 1892.9 L527.8 1889.9 L528.8 1887.0 L529.8 1884.1 L530.8 1881.3 L531.8 1878.6 L532.8 1876.0 L533.8 1873.5 L534.8 1871.1 L535.8 1868.9 L536.8 1866.7 L537.8 1864.7 L538.8 1862.8 L539.8 1861.0 L540.8 1859.3 L541.8 1857.7 L542.8 1856.2 L543.8 1854.8 L544.8 1853.5 L545.8 1852.2 L546.8 1851.1 L547.8 1850.0 L548.8 1849.0 L549.8 1848.1 L550.8 1847.2 L551.8 1846.4 L552.8 1845.7 L553.8 1845.0 L554.8 1844.4 L555.8 1843.8 L556.8 1843.3 L557.8 1842.8 L558.8 1842.4 L559.8 1842.0 L560.8 1841.6 L561.8 1841.3 L562.8 1841.1 L563.8 1840.8 L564.8 1840.7 L565.8 1840.5 L566.8 1840.4 L567.8 1840.3 L568.8 1840.3 L569.8 1840.3 L570.8 1840.3 L571.8 1840.4 L572.8 1840.5 L573.8 1840.6 L574.8 1840.8 L575.8 1841.0 L576.8 1841.3 L577.8 1841.6 L578.8 1841.9 L579.8 1842.3 L580.8 1842.8 L581.8 1843.2 L582.8 1843.8 L583.8 1844.3 L584.8 1844.9 L585.8 1845.6 L586.8 1846.4 L587.8 1847.2 L588.8 1848.0 L589.8 1848.9 L590.8 1849.9 L591.8 1851.0 L592.8 1852.1 L593.8 1853.3 L594.8 1854.7 L595.8 1856.0 L596.8 1857.5 L597.8 1859.1 L598.8 1860.8 L599.8 1862.6 L600.8 1864.5 L601.8 1866.5 L602.8 1868.7 L603.8 1870.9 L604.8 1873.3 L605.8 1875.7 L606.8 1878.3 L607.8 1881.0 L608.8 1883.8 L609.8 1886.7 L610.8 1889.6 L611.8 1892.6 L612.8 1895.6 L613.8 1898.5 L614.8 1901.5 L615.8 1904.3 L616.8 1907.0 L617.8 1909.5 L618.8 1911.8 L619.8 1913.7 L620.8 1915.4 L621.8 1916.7 L622.8 1917.5 L623.8 1917.9 L624.8 1917.9 L625.8 1917.5 L626.8 1916.6 L627.8 1915.3 L628.8 1913.6 L629.8 1911.5 L630.8 1909.2 L631.8 1906.6 L632.8 1903.8 L633.8 1900.9 L634.8 1897.8 L635.8 1894.7 L636.8 1891.6 L637.8 1888.5 L638.8 1885.4 L639.8 1882.4 L640.8 1879.5 L641.8 1876.6 L642.8 1873.9 L643.8 1871.2 L644.8 1868.7 L645.8 1866.3 L646.8 1864.0 L647.8 1861.8 L648.8 1859.7 L649.8 1857.7 L650.8 1855.9 L651.8 1854.1 L652.8 1852.4 L653.8 1850.8 L654.8 1849.3 L655.8 1847.9 L656.8 1846.5 L657.8 1845.3 L658.8 1844.1 L659.8 1842.9 L660.8 1841.9 L661.8 1840.8 L662.8 1839.9 L663.8 1838.9 L664.8 1838.1 L665.8 1837.2 L666.8 1836.5 L667.8 1835.7 L668.8 1835.0 L669.8 1834.3 L670.8 1833.7 L671.8 1833.1 L672.8 1832.5 L673.8 1831.9 L674.8 1831.4 L675.8 1830.9 L676.8 1830.4 L677.8 1829.9 L678.8 1829.5 L679.8 1829.1 L680.8 1828.7 L681.8 1828.3 L682.8 1827.9 L683.8 1827.6 L684.8 1827.2 L685.8 1826.9 L686.8 1826.6 L687.8 1826.3 L688.8 1826.0 L689.8 1825.7 L690.8 1825.4 L691.8 1825.2 L692.8 1824.9 L693.8 1824.7 L694.8 1824.5 L695.8 1824.2 L696.8 1824.0 L697.8 1823.8 L698.8 1823.6 L699.8 1823.4 L700.8 1823.2 L701.8 1823.1 L702.8 1822.9 L703.8 1822.7 L704.8 1822.5 L705.8 1822.4 L706.8 1822.2 L707.8 1822.1 L708.8 1821.9 L709.8 1821.8 L710.8 1821.7 L711.8 1821.5 L712.8 1821.4 L713.8 1821.3 L714.8 1821.2 L715.8 1821.1 L716.8 1820.9 L717.8 1820.8 L718.8 1820.7 L719.8 1820.6 L720.8 1820.5 L721.8 1820.4 L722.8 1820.3 L723.8 1820.2 L724.8 1820.2 L725.8 1820.1 L726.8 1820.0 L727.8 1819.9 L728.8 1819.8 L729.8 1819.7 L730.8 1819.7 L731.8 1819.6 L732.8 1819.5 L733.8 1819.4 L734.8 1819.4 L735.8 1819.3 L736.8 1819.2 L737.8 1819.2 L738.8 1819.1 L739.8 1819.0 L740.8 1819.0 L741.8 1818.9 L742.8 1818.9 L743.8 1818.8 L744.8 1818.8 L745.8 1818.7 L746.8 1818.7 L747.8 1818.6 L748.8 1818.5 L749.8 1818.5 L750.8 1818.5 L751.8 1818.4 L752.8 1818.4 L753.8 1818.3 L754.8 1818.3 L755.8 1818.2 L756.8 1818.2 L757.8 1818.1 L758.8 1818.1 L759.8 1818.1 L760.8 1818.0 L761.8 1818.0 L762.8 1817.9 L763.8 1817.9 L764.8 1817.9 L765.8 1817.8 L766.8 1817.8 L767.8 1817.8 L768.8 1817.7 L769.8 1817.7 L770.8 1817.7 L771.8 1817.6 L772.8 1817.6 L773.8 1817.6 L774.8 1817.5 L775.8 1817.5 L776.8 1817.5 L777.8 1817.5 L778.8 1817.4 L779.8 1817.4 L780.8 1817.4 L781.8 1817.3 L782.8 1817.3 L783.8 1817.3 L784.8 1817.3 L785.8 1817.2 L786.8 1817.2 L787.8 1817.2 L788.8 1817.2 L789.8 1817.2 L790.8 1817.1 L791.8 1817.1 L792.8 1817.1 L793.8 1817.1 L794.8 1817.0 L795.8 1817.0 L796.8 1817.0 L797.8 1817.0 L798.8 1817.0 L799.8 1816.9 L800.8 1816.9 L801.8 1816.9 L802.8 1816.9 L803.8 1816.9 L804.8 1816.8 L805.8 1816.8 L806.8 1816.8 L807.8 1816.8 L808.8 1816.8 L809.8 1816.8 L810.8 1816.7 L811.8 1816.7 L812.8 1816.7 L813.8 1816.7 L814.8 1816.7 L815.8 1816.7 L816.8 1816.6 L817.8 1816.6 L818.8 1816.6 L819.8 1816.6 L820.8 1816.6 L821.8 1816.6 L822.8 1816.6 L823.8 1816.5 L824.8 1816.5 L825.8 1816.5 L826.8 1816.5 L827.8 1816.5 L828.8 1816.5 L829.8 1816.5 L830.8 1816.5 L831.8 1816.4 L832.8 1816.4 L833.8 1816.4 L834.8 1816.4 L835.8 1816.4 L836.8 1816.4 L837.8 1816.4 L838.8 1816.4 L839.8 1816.3 L840.8 1816.3 L841.8 1816.3 L842.8 1816.3 L843.8 1816.3 L844.8 1816.3 L845.8 1816.3 L846.8 1816.3 L847.8 1816.3 L848.8 1816.3 L849.8 1816.2 L850.8 1816.2 L851.8 1816.2 L852.8 1816.2 L853.8 1816.2 L854.8 1816.2 L855.8 1816.2 L856.8 1816.2 L857.8 1816.2 L858.8 1816.2 L859.8 1816.2 L860.8 1816.1 L861.8 1816.1 L862.8 1816.1 L863.8 1816.1 L864.8 1816.1 L865.8 1816.1 L866.8 1816.1 L867.8 1816.1 L868.8 1816.1 L869.8 1816.1 L870.8 1816.1 L871.8 1816.1 L872.8 1816.0 L873.8 1816.0 L874.8 1816.0 L875.8 1816.0 L876.8 1816.0 L877.8 1816.0 L878.8 1816.0 L879.8 1816.0 L880.8 1816.0 L881.8 1816.0 L882.8 1816.0 L883.8 1816.0 L884.8 1816.0 L885.8 1816.0 L886.8 1815.9 L887.8 1815.9 L888.8 1815.9 L889.8 1815.9 L890.8 1815.9 L891.8 1815.9 L892.8 1815.9 L893.8 1815.9" stroke="#000" stroke-width="3.4" fill="none" stroke-linejoin="round"/>
<path d="M156.8 1944.7 L157.8 1944.7 L158.8 1944.7 L159.8 1944.7 L160.8 1944.7 L161.8 1944.7 L162.8 1944.7 L163.8 1944.7 L164.8 1944.7 L165.8 1944.7 L166.8 1944.7 L167.8 1944.7 L168.8 1944.7 L169.8 1944.7 L170.8 1944.7 L171.8 1944.7 L172.8 1944.7 L173.8 1944.7 L174.8 1944.7 L175.8 1944.7 L176.8 1944.8 L177.8 1944.8 L178.8 1944.8 L179.8 1944.8 L180.8 1944.8 L181.8 1944.8 L182.8 1944.8 L183.8 1944.8 L184.8 1944.8 L185.8 1944.8 L186.8 1944.8 L187.8 1944.8 L188.8 1944.8 L189.8 1944.8 L190.8 1944.8 L191.8 1944.8 L192.8 1944.8 L193.8 1944.8 L194.8 1944.8 L195.8 1944.8 L196.8 1944.8 L197.8 1944.8 L198.8 1944.8 L199.8 1944.9 L200.8 1944.9 L201.8 1944.9 L202.8 1944.9 L203.8 1944.9 L204.8 1944.9 L205.8 1944.9 L206.8 1944.9 L207.8 1944.9 L208.8 1944.9 L209.8 1944.9 L210.8 1944.9 L211.8 1944.9 L212.8 1944.9 L213.8 1944.9 L214.8 1944.9 L215.8 1944.9 L216.8 1944.9 L217.8 1944.9 L218.8 1944.9 L219.8 1945.0 L220.8 1945.0 L221.8 1945.0 L222.8 1945.0 L223.8 1945.0 L224.8 1945.0 L225.8 1945.0 L226.8 1945.0 L227.8 1945.0 L228.8 1945.0 L229.8 1945.0 L230.8 1945.0 L231.8 1945.0 L232.8 1945.0 L233.8 1945.0 L234.8 1945.0 L235.8 1945.0 L236.8 1945.1 L237.8 1945.1 L238.8 1945.1 L239.8 1945.1 L240.8 1945.1 L241.8 1945.1 L242.8 1945.1 L243.8 1945.1 L244.8 1945.1 L245.8 1945.1 L246.8 1945.1 L247.8 1945.1 L248.8 1945.1 L249.8 1945.1 L250.8 1945.2 L251.8 1945.2 L252.8 1945.2 L253.8 1945.2 L254.8 1945.2 L255.8 1945.2 L256.8 1945.2 L257.8 1945.2 L258.8 1945.2 L259.8 1945.2 L260.8 1945.2 L261.8 1945.2 L262.8 1945.2 L263.8 1945.3 L264.8 1945.3 L265.8 1945.3 L266.8 1945.3 L267.8 1945.3 L268.8 1945.3 L269.8 1945.3 L270.8 1945.3 L271.8 1945.3 L272.8 1945.3 L273.8 1945.3 L274.8 1945.4 L275.8 1945.4 L276.8 1945.4 L277.8 1945.4 L278.8 1945.4 L279.8 1945.4 L280.8 1945.4 L281.8 1945.4 L282.8 1945.4 L283.8 1945.4 L284.8 1945.5 L285.8 1945.5 L286.8 1945.5 L287.8 1945.5 L288.8 1945.5 L289.8 1945.5 L290.8 1945.5 L291.8 1945.5 L292.8 1945.5 L293.8 1945.6 L294.8 1945.6 L295.8 1945.6 L296.8 1945.6 L297.8 1945.6 L298.8 1945.6 L299.8 1945.6 L300.8 1945.6 L301.8 1945.7 L302.8 1945.7 L303.8 1945.7 L304.8 1945.7 L305.8 1945.7 L306.8 1945.7 L307.8 1945.7 L308.8 1945.7 L309.8 1945.8 L310.8 1945.8 L311.8 1945.8 L312.8 1945.8 L313.8 1945.8 L314.8 1945.8 L315.8 1945.9 L316.8 1945.9 L317.8 1945.9 L318.8 1945.9 L319.8 1945.9 L320.8 1945.9 L321.8 1945.9 L322.8 1946.0 L323.8 1946.0 L324.8 1946.0 L325.8 1946.0 L326.8 1946.0 L327.8 1946.0 L328.8 1946.1 L329.8 1946.1 L330.8 1946.1 L331.8 1946.1 L332.8 1946.1 L333.8 1946.2 L334.8 1946.2 L335.8 1946.2 L336.8 1946.2 L337.8 1946.2 L338.8 1946.3 L339.8 1946.3 L340.8 1946.3 L341.8 1946.3 L342.8 1946.3 L343.8 1946.4 L344.8 1946.4 L345.8 1946.4 L346.8 1946.4 L347.8 1946.5 L348.8 1946.5 L349.8 1946.5 L350.8 1946.5 L351.8 1946.6 L352.8 1946.6 L353.8 1946.6 L354.8 1946.6 L355.8 1946.7 L356.8 1946.7 L357.8 1946.7 L358.8 1946.7 L359.8 1946.8 L360.8 1946.8 L361.8 1946.8 L362.8 1946.9 L363.8 1946.9 L364.8 1946.9 L365.8 1946.9 L366.8 1947.0 L367.8 1947.0 L368.8 1947.0 L369.8 1947.1 L370.8 1947.1 L371.8 1947.1 L372.8 1947.2 L373.8 1947.2 L374.8 1947.2 L375.8 1947.3 L376.8 1947.3 L377.8 1947.4 L378.8 1947.4 L379.8 1947.4 L380.8 1947.5 L381.8 1947.5 L382.8 1947.6 L383.8 1947.6 L384.8 1947.6 L385.8 1947.7 L386.8 1947.7 L387.8 1947.8 L388.8 1947.8 L389.8 1947.9 L390.8 1947.9 L391.8 1948.0 L392.8 1948.0 L393.8 1948.1 L394.8 1948.1 L395.8 1948.2 L396.8 1948.2 L397.8 1948.3 L398.8 1948.3 L399.8 1948.4 L400.8 1948.4 L401.8 1948.5 L402.8 1948.5 L403.8 1948.6 L404.8 1948.7 L405.8 1948.7 L406.8 1948.8 L407.8 1948.9 L408.8 1948.9 L409.8 1949.0 L410.8 1949.1 L411.8 1949.1 L412.8 1949.2 L413.8 1949.3 L414.8 1949.4 L415.8 1949.4 L416.8 1949.5 L417.8 1949.6 L418.8 1949.7 L419.8 1949.8 L420.8 1949.9 L421.8 1949.9 L422.8 1950.0 L423.8 1950.1 L424.8 1950.2 L425.8 1950.3 L426.8 1950.4 L427.8 1950.5 L428.8 1950.6 L429.8 1950.7 L430.8 1950.8 L431.8 1951.0 L432.8 1951.1 L433.8 1951.2 L434.8 1951.3 L435.8 1951.4 L436.8 1951.6 L437.8 1951.7 L438.8 1951.8 L439.8 1952.0 L440.8 1952.1 L441.8 1952.3 L442.8 1952.4 L443.8 1952.6 L444.8 1952.7 L445.8 1952.9 L446.8 1953.1 L447.8 1953.2 L448.8 1953.4 L449.8 1953.6 L450.8 1953.8 L451.8 1954.0 L452.8 1954.2 L453.8 1954.4 L454.8 1954.6 L455.8 1954.9 L456.8 1955.1 L457.8 1955.3 L458.8 1955.6 L459.8 1955.8 L460.8 1956.1 L461.8 1956.3 L462.8 1956.6 L463.8 1956.9 L464.8 1957.2 L465.8 1957.5 L466.8 1957.9 L467.8 1958.2 L468.8 1958.5 L469.8 1958.9 L470.8 1959.3 L471.8 1959.7 L472.8 1960.1 L473.8 1960.5 L474.8 1960.9 L475.8 1961.4 L476.8 1961.8 L477.8 1962.3 L478.8 1962.8 L479.8 1963.4 L480.8 1963.9 L481.8 1964.5 L482.8 1965.1 L483.8 1965.7 L484.8 1966.4 L485.8 1967.1 L486.8 1967.8 L487.8 1968.6 L488.8 1969.4 L489.8 1970.2 L490.8 1971.1 L491.8 1972.0 L492.8 1973.0 L493.8 1974.0 L494.8 1975.0 L495.8 1976.2 L496.8 1977.3 L497.8 1978.6 L498.8 1979.9 L499.8 1981.2 L500.8 1982.7 L501.8 1984.2 L502.8 1985.8 L503.8 1987.5 L504.8 1989.3 L505.8 1991.2 L506.8 1993.2 L507.8 1995.3 L508.8 1997.6 L509.8 1999.9 L510.8 2002.4 L511.8 2005.1 L512.8 2007.8 L513.8 2010.7 L514.8 2013.8 L515.8 2017.0 L516.8 2020.3 L517.8 2023.8 L518.8 2027.5 L519.8 2031.3 L520.8 2035.2 L521.8 2039.2 L522.8 2043.3 L523.8 2047.5 L524.8 2051.7 L525.8 2055.9 L526.8 2060.0 L527.8 2064.0 L528.8 2067.8 L529.8 2071.4 L530.8 2074.7 L531.8 2077.7 L532.8 2080.2 L533.8 2082.3 L534.8 2083.8 L535.8 2084.8 L536.8 2085.2 L537.8 2085.1 L538.8 2084.4 L539.8 2083.3 L540.8 2081.6 L541.8 2079.5 L542.8 2077.1 L543.8 2074.3 L544.8 2071.3 L545.8 2068.2 L546.8 2064.9 L547.8 2061.6 L548.8 2058.3 L549.8 2055.0 L550.8 2051.8 L551.8 2048.8 L552.8 2045.8 L553.8 2043.0 L554.8 2040.4 L555.8 2038.0 L556.8 2035.7 L557.8 2033.7 L558.8 2031.9 L559.8 2030.2 L560.8 2028.8 L561.8 2027.5 L562.8 2026.5 L563.8 2025.7 L564.8 2025.0 L565.8 2024.6 L566.8 2024.4 L567.8 2024.4 L568.8 2024.5 L569.8 2024.9 L570.8 2025.5 L571.8 2026.2 L572.8 2027.2 L573.8 2028.4 L574.8 2029.8 L575.8 2031.3 L576.8 2033.1 L577.8 2035.1 L578.8 2037.3 L579.8 2039.7 L580.8 2042.2 L581.8 2045.0 L582.8 2047.9 L583.8 2050.9 L584.8 2054.1 L585.8 2057.3 L586.8 2060.6 L587.8 2063.9 L588.8 2067.2 L589.8 2070.4 L590.8 2073.4 L591.8 2076.3 L592.8 2078.8 L593.8 2081.0 L594.8 2082.8 L595.8 2084.1 L596.8 2085.0 L597.8 2085.3 L598.8 2085.0 L599.8 2084.2 L600.8 2082.8 L601.8 2080.9 L602.8 2078.5 L603.8 2075.7 L604.8 2072.5 L605.8 2068.9 L606.8 2065.2 L607.8 2061.2 L608.8 2057.1 L609.8 2052.9 L610.8 2048.7 L611.8 2044.6 L612.8 2040.4 L613.8 2036.4 L614.8 2032.4 L615.8 2028.6 L616.8 2024.9 L617.8 2021.4 L618.8 2018.0 L619.8 2014.7 L620.8 2011.6 L621.8 2008.7 L622.8 2005.9 L623.8 2003.2 L624.8 2000.7 L625.8 1998.3 L626.8 1996.0 L627.8 1993.9 L628.8 1991.8 L629.8 1989.9 L630.8 1988.1 L631.8 1986.3 L632.8 1984.7 L633.8 1983.1 L634.8 1981.7 L635.8 1980.3 L636.8 1979.0 L637.8 1977.7 L638.8 1976.5 L639.8 1975.4 L640.8 1974.3 L641.8 1973.3 L642.8 1972.3 L643.8 1971.4 L644.8 1970.5 L645.8 1969.6 L646.8 1968.8 L647.8 1968.1 L648.8 1967.3 L649.8 1966.6 L650.8 1965.9 L651.8 1965.3 L652.8 1964.7 L653.8 1964.1 L654.8 1963.5 L655.8 1963.0 L656.8 1962.5 L657.8 1962.0 L658.8 1961.5 L659.8 1961.0 L660.8 1960.6 L661.8 1960.2 L662.8 1959.8 L663.8 1959.4 L664.8 1959.0 L665.8 1958.6 L666.8 1958.3 L667.8 1958.0 L668.8 1957.6 L669.8 1957.3 L670.8 1957.0 L671.8 1956.7 L672.8 1956.4 L673.8 1956.2 L674.8 1955.9 L675.8 1955.6 L676.8 1955.4 L677.8 1955.2 L678.8 1954.9 L679.8 1954.7 L680.8 1954.5 L681.8 1954.3 L682.8 1954.1 L683.8 1953.9 L684.8 1953.7 L685.8 1953.5 L686.8 1953.3 L687.8 1953.1 L688.8 1953.0 L689.8 1952.8 L690.8 1952.6 L691.8 1952.5 L692.8 1952.3 L693.8 1952.2 L694.8 1952.0 L695.8 1951.9 L696.8 1951.7 L697.8 1951.6 L698.8 1951.5 L699.8 1951.4 L700.8 1951.2 L701.8 1951.1 L702.8 1951.0 L703.8 1950.9 L704.8 1950.8 L705.8 1950.7 L706.8 1950.6 L707.8 1950.4 L708.8 1950.3 L709.8 1950.3 L710.8 1950.2 L711.8 1950.1 L712.8 1950.0 L713.8 1949.9 L714.8 1949.8 L715.8 1949.7 L716.8 1949.6 L717.8 1949.5 L718.8 1949.5 L719.8 1949.4 L720.8 1949.3 L721.8 1949.2 L722.8 1949.2 L723.8 1949.1 L724.8 1949.0 L725.8 1948.9 L726.8 1948.9 L727.8 1948.8 L728.8 1948.7 L729.8 1948.7 L730.8 1948.6 L731.8 1948.6 L732.8 1948.5 L733.8 1948.4 L734.8 1948.4 L735.8 1948.3 L736.8 1948.3 L737.8 1948.2 L738.8 1948.2 L739.8 1948.1 L740.8 1948.1 L741.8 1948.0 L742.8 1948.0 L743.8 1947.9 L744.8 1947.9 L745.8 1947.8 L746.8 1947.8 L747.8 1947.7 L748.8 1947.7 L749.8 1947.6 L750.8 1947.6 L751.8 1947.6 L752.8 1947.5 L753.8 1947.5 L754.8 1947.4 L755.8 1947.4 L756.8 1947.4 L757.8 1947.3 L758.8 1947.3 L759.8 1947.3 L760.8 1947.2 L761.8 1947.2 L762.8 1947.1 L763.8 1947.1 L764.8 1947.1 L765.8 1947.0 L766.8 1947.0 L767.8 1947.0 L768.8 1947.0 L769.8 1946.9 L770.8 1946.9 L771.8 1946.9 L772.8 1946.8 L773.8 1946.8 L774.8 1946.8 L775.8 1946.7 L776.8 1946.7 L777.8 1946.7 L778.8 1946.7 L779.8 1946.6 L780.8 1946.6 L781.8 1946.6 L782.8 1946.6 L783.8 1946.5 L784.8 1946.5 L785.8 1946.5 L786.8 1946.5 L787.8 1946.4 L788.8 1946.4 L789.8 1946.4 L790.8 1946.4 L791.8 1946.4 L792.8 1946.3 L793.8 1946.3 L794.8 1946.3 L795.8 1946.3 L796.8 1946.2 L797.8 1946.2 L798.8 1946.2 L799.8 1946.2 L800.8 1946.2 L801.8 1946.1 L802.8 1946.1 L803.8 1946.1 L804.8 1946.1 L805.8 1946.1 L806.8 1946.1 L807.8 1946.0 L808.8 1946.0 L809.8 1946.0 L810.8 1946.0 L811.8 1946.0 L812.8 1946.0 L813.8 1945.9 L814.8 1945.9 L815.8 1945.9 L816.8 1945.9 L817.8 1945.9 L818.8 1945.9 L819.8 1945.8 L820.8 1945.8 L821.8 1945.8 L822.8 1945.8 L823.8 1945.8 L824.8 1945.8 L825.8 1945.8 L826.8 1945.7 L827.8 1945.7 L828.8 1945.7 L829.8 1945.7 L830.8 1945.7 L831.8 1945.7 L832.8 1945.7 L833.8 1945.6 L834.8 1945.6 L835.8 1945.6 L836.8 1945.6 L837.8 1945.6 L838.8 1945.6 L839.8 1945.6 L840.8 1945.6 L841.8 1945.5 L842.8 1945.5 L843.8 1945.5 L844.8 1945.5 L845.8 1945.5 L846.8 1945.5 L847.8 1945.5 L848.8 1945.5 L849.8 1945.5 L850.8 1945.4 L851.8 1945.4 L852.8 1945.4 L853.8 1945.4 L854.8 1945.4 L855.8 1945.4 L856.8 1945.4 L857.8 1945.4 L858.8 1945.4 L859.8 1945.4 L860.8 1945.3 L861.8 1945.3 L862.8 1945.3 L863.8 1945.3 L864.8 1945.3 L865.8 1945.3 L866.8 1945.3 L867.8 1945.3 L868.8 1945.3 L869.8 1945.3 L870.8 1945.3 L871.8 1945.3 L872.8 1945.2 L873.8 1945.2 L874.8 1945.2 L875.8 1945.2 L876.8 1945.2 L877.8 1945.2 L878.8 1945.2 L879.8 1945.2 L880.8 1945.2 L881.8 1945.2 L882.8 1945.2 L883.8 1945.2 L884.8 1945.1 L885.8 1945.1 L886.8 1945.1 L887.8 1945.1 L888.8 1945.1 L889.8 1945.1 L890.8 1945.1 L891.8 1945.1 L892.8 1945.1 L893.8 1945.1" stroke="#000" stroke-width="3.4" fill="none" stroke-linejoin="round"/>
<path d="M156.8 2098.0 L157.8 2098.0 L158.8 2098.0 L159.8 2098.0 L160.8 2098.0 L161.8 2098.1 L162.8 2098.1 L163.8 2098.1 L164.8 2098.1 L165.8 2098.1 L166.8 2098.1 L167.8 2098.1 L168.8 2098.1 L169.8 2098.1 L170.8 2098.1 L171.8 2098.1 L172.8 2098.1 L173.8 2098.1 L174.8 2098.1 L175.8 2098.1 L176.8 2098.2 L177.8 2098.2 L178.8 2098.2 L179.8 2098.2 L180.8 2098.2 L181.8 2098.2 L182.8 2098.2 L183.8 2098.2 L184.8 2098.2 L185.8 2098.2 L186.8 2098.2 L187.8 2098.2 L188.8 2098.2 L189.8 2098.3 L190.8 2098.3 L191.8 2098.3 L192.8 2098.3 L193.8 2098.3 L194.8 2098.3 L195.8 2098.3 L196.8 2098.3 L197.8 2098.3 L198.8 2098.3 L199.8 2098.3 L200.8 2098.3 L201.8 2098.4 L202.8 2098.4 L203.8 2098.4 L204.8 2098.4 L205.8 2098.4 L206.8 2098.4 L207.8 2098.4 L208.8 2098.4 L209.8 2098.4 L210.8 2098.4 L211.8 2098.4 L212.8 2098.5 L213.8 2098.5 L214.8 2098.5 L215.8 2098.5 L216.8 2098.5 L217.8 2098.5 L218.8 2098.5 L219.8 2098.5 L220.8 2098.5 L221.8 2098.6 L222.8 2098.6 L223.8 2098.6 L224.8 2098.6 L225.8 2098.6 L226.8 2098.6 L227.8 2098.6 L228.8 2098.6 L229.8 2098.6 L230.8 2098.6 L231.8 2098.7 L232.8 2098.7 L233.8 2098.7 L234.8 2098.7 L235.8 2098.7 L236.8 2098.7 L237.8 2098.7 L238.8 2098.7 L239.8 2098.8 L240.8 2098.8 L241.8 2098.8 L242.8 2098.8 L243.8 2098.8 L244.8 2098.8 L245.8 2098.8 L246.8 2098.8 L247.8 2098.9 L248.8 2098.9 L249.8 2098.9 L250.8 2098.9 L251.8 2098.9 L252.8 2098.9 L253.8 2098.9 L254.8 2099.0 L255.8 2099.0 L256.8 2099.0 L257.8 2099.0 L258.8 2099.0 L259.8 2099.0 L260.8 2099.1 L261.8 2099.1 L262.8 2099.1 L263.8 2099.1 L264.8 2099.1 L265.8 2099.1 L266.8 2099.1 L267.8 2099.2 L268.8 2099.2 L269.8 2099.2 L270.8 2099.2 L271.8 2099.2 L272.8 2099.3 L273.8 2099.3 L274.8 2099.3 L275.8 2099.3 L276.8 2099.3 L277.8 2099.3 L278.8 2099.4 L279.8 2099.4 L280.8 2099.4 L281.8 2099.4 L282.8 2099.4 L283.8 2099.5 L284.8 2099.5 L285.8 2099.5 L286.8 2099.5 L287.8 2099.5 L288.8 2099.6 L289.8 2099.6 L290.8 2099.6 L291.8 2099.6 L292.8 2099.6 L293.8 2099.7 L294.8 2099.7 L295.8 2099.7 L296.8 2099.7 L297.8 2099.8 L298.8 2099.8 L299.8 2099.8 L300.8 2099.8 L301.8 2099.9 L302.8 2099.9 L303.8 2099.9 L304.8 2099.9 L305.8 2100.0 L306.8 2100.0 L307.8 2100.0 L308.8 2100.0 L309.8 2100.1 L310.8 2100.1 L311.8 2100.1 L312.8 2100.2 L313.8 2100.2 L314.8 2100.2 L315.8 2100.2 L316.8 2100.3 L317.8 2100.3 L318.8 2100.3 L319.8 2100.4 L320.8 2100.4 L321.8 2100.4 L322.8 2100.5 L323.8 2100.5 L324.8 2100.5 L325.8 2100.6 L326.8 2100.6 L327.8 2100.6 L328.8 2100.7 L329.8 2100.7 L330.8 2100.7 L331.8 2100.8 L332.8 2100.8 L333.8 2100.8 L334.8 2100.9 L335.8 2100.9 L336.8 2101.0 L337.8 2101.0 L338.8 2101.0 L339.8 2101.1 L340.8 2101.1 L341.8 2101.2 L342.8 2101.2 L343.8 2101.2 L344.8 2101.3 L345.8 2101.3 L346.8 2101.4 L347.8 2101.4 L348.8 2101.5 L349.8 2101.5 L350.8 2101.6 L351.8 2101.6 L352.8 2101.7 L353.8 2101.7 L354.8 2101.8 L355.8 2101.8 L356.8 2101.9 L357.8 2101.9 L358.8 2102.0 L359.8 2102.0 L360.8 2102.1 L361.8 2102.2 L362.8 2102.2 L363.8 2102.3 L364.8 2102.3 L365.8 2102.4 L366.8 2102.5 L367.8 2102.5 L368.8 2102.6 L369.8 2102.7 L370.8 2102.7 L371.8 2102.8 L372.8 2102.9 L373.8 2102.9 L374.8 2103.0 L375.8 2103.1 L376.8 2103.2 L377.8 2103.2 L378.8 2103.3 L379.8 2103.4 L380.8 2103.5 L381.8 2103.6 L382.8 2103.6 L383.8 2103.7 L384.8 2103.8 L385.8 2103.9 L386.8 2104.0 L387.8 2104.1 L388.8 2104.2 L389.8 2104.3 L390.8 2104.4 L391.8 2104.5 L392.8 2104.6 L393.8 2104.7 L394.8 2104.8 L395.8 2104.9 L396.8 2105.0 L397.8 2105.1 L398.8 2105.2 L399.8 2105.3 L400.8 2105.5 L401.8 2105.6 L402.8 2105.7 L403.8 2105.8 L404.8 2106.0 L405.8 2106.1 L406.8 2106.3 L407.8 2106.4 L408.8 2106.5 L409.8 2106.7 L410.8 2106.8 L411.8 2107.0 L412.8 2107.1 L413.8 2107.3 L414.8 2107.5 L415.8 2107.6 L416.8 2107.8 L417.8 2108.0 L418.8 2108.2 L419.8 2108.4 L420.8 2108.6 L421.8 2108.8 L422.8 2109.0 L423.8 2109.2 L424.8 2109.4 L425.8 2109.6 L426.8 2109.8 L427.8 2110.1 L428.8 2110.3 L429.8 2110.6 L430.8 2110.8 L431.8 2111.1 L432.8 2111.3 L433.8 2111.6 L434.8 2111.9 L435.8 2112.2 L436.8 2112.5 L437.8 2112.8 L438.8 2113.1 L439.8 2113.5 L440.8 2113.8 L441.8 2114.1 L442.8 2114.5 L443.8 2114.9 L444.8 2115.3 L445.8 2115.7 L446.8 2116.1 L447.8 2116.5 L448.8 2117.0 L449.8 2117.4 L450.8 2117.9 L451.8 2118.4 L452.8 2118.9 L453.8 2119.4 L454.8 2120.0 L455.8 2120.5 L456.8 2121.1 L457.8 2121.7 L458.8 2122.4 L459.8 2123.0 L460.8 2123.7 L461.8 2124.4 L462.8 2125.2 L463.8 2125.9 L464.8 2126.8 L465.8 2127.6 L466.8 2128.5 L467.8 2129.4 L468.8 2130.3 L469.8 2131.3 L470.8 2132.4 L471.8 2133.5 L472.8 2134.6 L473.8 2135.8 L474.8 2137.1 L475.8 2138.4 L476.8 2139.8 L477.8 2141.2 L478.8 2142.8 L479.8 2144.4 L480.8 2146.0 L481.8 2147.8 L482.8 2149.7 L483.8 2151.6 L484.8 2153.7 L485.8 2155.8 L486.8 2158.1 L487.8 2160.5 L488.8 2163.0 L489.8 2165.7 L490.8 2168.5 L491.8 2171.4 L492.8 2174.5 L493.8 2177.7 L494.8 2181.1 L495.8 2184.7 L496.8 2188.4 L497.8 2192.3 L498.8 2196.4 L499.8 2200.6 L500.8 2204.9 L501.8 2209.4 L502.8 2214.0 L503.8 2218.8 L504.8 2223.5 L505.8 2228.4 L506.8 2233.2 L507.8 2238.1 L508.8 2242.8 L509.8 2247.5 L510.8 2252.0 L511.8 2256.4 L512.8 2260.6 L513.8 2264.5 L514.8 2268.1 L515.8 2271.6 L516.8 2274.7 L517.8 2277.6 L518.8 2280.2 L519.8 2282.6 L520.8 2284.8 L521.8 2286.8 L522.8 2288.6 L523.8 2290.3 L524.8 2291.8 L525.8 2293.1 L526.8 2294.3 L527.8 2295.2 L528.8 2296.0 L529.8 2296.5 L530.8 2296.7 L531.8 2296.5 L532.8 2296.1 L533.8 2295.2 L534.8 2294.0 L535.8 2292.3 L536.8 2290.2 L537.8 2287.7 L538.8 2284.9 L539.8 2281.7 L540.8 2278.2 L541.8 2274.4 L542.8 2270.4 L543.8 2266.3 L544.8 2262.1 L545.8 2257.8 L546.8 2253.5 L547.8 2249.2 L548.8 2245.0 L549.8 2240.9 L550.8 2237.0 L551.8 2233.2 L552.8 2229.5 L553.8 2226.1 L554.8 2222.9 L555.8 2219.9 L556.8 2217.1 L557.8 2214.5 L558.8 2212.2 L559.8 2210.1 L560.8 2208.2 L561.8 2206.5 L562.8 2205.1 L563.8 2203.9 L564.8 2202.9 L565.8 2202.2 L566.8 2201.6 L567.8 2201.3 L568.8 2201.3 L569.8 2201.4 L570.8 2201.8 L571.8 2202.4 L572.8 2203.3 L573.8 2204.3 L574.8 2205.7 L575.8 2207.2 L576.8 2209.0 L577.8 2211.1 L578.8 2213.4 L579.8 2215.9 L580.8 2218.7 L581.8 2221.7 L582.8 2224.9 L583.8 2228.4 L584.8 2232.1 L585.8 2235.9 L586.8 2239.9 L587.8 2244.1 L588.8 2248.3 L589.8 2252.6 L590.8 2256.8 L591.8 2261.0 L592.8 2265.1 L593.8 2268.9 L594.8 2272.5 L595.8 2275.7 L596.8 2278.6 L597.8 2281.0 L598.8 2282.9 L599.8 2284.4 L600.8 2285.4 L601.8 2285.9 L602.8 2286.0 L603.8 2285.6 L604.8 2285.0 L605.8 2284.1 L606.8 2283.0 L607.8 2281.8 L608.8 2280.5 L609.8 2279.2 L610.8 2278.0 L611.8 2276.8 L612.8 2275.7 L613.8 2274.7 L614.8 2273.7 L615.8 2272.9 L616.8 2272.1 L617.8 2271.3 L618.8 2270.4 L619.8 2269.4 L620.8 2268.3 L621.8 2266.9 L622.8 2265.2 L623.8 2263.3 L624.8 2260.9 L625.8 2258.2 L626.8 2255.1 L627.8 2251.6 L628.8 2247.8 L629.8 2243.7 L630.8 2239.4 L631.8 2234.8 L632.8 2230.1 L633.8 2225.3 L634.8 2220.4 L635.8 2215.6 L636.8 2210.8 L637.8 2206.1 L638.8 2201.6 L639.8 2197.1 L640.8 2192.8 L641.8 2188.7 L642.8 2184.7 L643.8 2181.0 L644.8 2177.4 L645.8 2173.9 L646.8 2170.7 L647.8 2167.6 L648.8 2164.7 L649.8 2161.9 L650.8 2159.3 L651.8 2156.8 L652.8 2154.4 L653.8 2152.2 L654.8 2150.1 L655.8 2148.1 L656.8 2146.2 L657.8 2144.4 L658.8 2142.7 L659.8 2141.1 L660.8 2139.6 L661.8 2138.1 L662.8 2136.7 L663.8 2135.4 L664.8 2134.2 L665.8 2133.0 L666.8 2131.8 L667.8 2130.8 L668.8 2129.7 L669.8 2128.7 L670.8 2127.8 L671.8 2126.9 L672.8 2126.1 L673.8 2125.2 L674.8 2124.5 L675.8 2123.7 L676.8 2123.0 L677.8 2122.3 L678.8 2121.6 L679.8 2121.0 L680.8 2120.4 L681.8 2119.8 L682.8 2119.2 L683.8 2118.7 L684.8 2118.2 L685.8 2117.7 L686.8 2117.2 L687.8 2116.7 L688.8 2116.3 L689.8 2115.8 L690.8 2115.4 L691.8 2115.0 L692.8 2114.6 L693.8 2114.2 L694.8 2113.9 L695.8 2113.5 L696.8 2113.2 L697.8 2112.8 L698.8 2112.5 L699.8 2112.2 L700.8 2111.9 L701.8 2111.6 L702.8 2111.3 L703.8 2111.0 L704.8 2110.8 L705.8 2110.5 L706.8 2110.3 L707.8 2110.0 L708.8 2109.8 L709.8 2109.5 L710.8 2109.3 L711.8 2109.1 L712.8 2108.9 L713.8 2108.7 L714.8 2108.5 L715.8 2108.3 L716.8 2108.1 L717.8 2107.9 L718.8 2107.7 L719.8 2107.6 L720.8 2107.4 L721.8 2107.2 L722.8 2107.0 L723.8 2106.9 L724.8 2106.7 L725.8 2106.6 L726.8 2106.4 L727.8 2106.3 L728.8 2106.1 L729.8 2106.0 L730.8 2105.9 L731.8 2105.7 L732.8 2105.6 L733.8 2105.5 L734.8 2105.4 L735.8 2105.2 L736.8 2105.1 L737.8 2105.0 L738.8 2104.9 L739.8 2104.8 L740.8 2104.7 L741.8 2104.6 L742.8 2104.5 L743.8 2104.4 L744.8 2104.3 L745.8 2104.2 L746.8 2104.1 L747.8 2104.0 L748.8 2103.9 L749.8 2103.8 L750.8 2103.7 L751.8 2103.6 L752.8 2103.5 L753.8 2103.5 L754.8 2103.4 L755.8 2103.3 L756.8 2103.2 L757.8 2103.1 L758.8 2103.1 L759.8 2103.0 L760.8 2102.9 L761.8 2102.8 L762.8 2102.8 L763.8 2102.7 L764.8 2102.6 L765.8 2102.6 L766.8 2102.5 L767.8 2102.4 L768.8 2102.4 L769.8 2102.3 L770.8 2102.3 L771.8 2102.2 L772.8 2102.1 L773.8 2102.1 L774.8 2102.0 L775.8 2102.0 L776.8 2101.9 L777.8 2101.9 L778.8 2101.8 L779.8 2101.7 L780.8 2101.7 L781.8 2101.6 L782.8 2101.6 L783.8 2101.5 L784.8 2101.5 L785.8 2101.4 L786.8 2101.4 L787.8 2101.4 L788.8 2101.3 L789.8 2101.3 L790.8 2101.2 L791.8 2101.2 L792.8 2101.1 L793.8 2101.1 L794.8 2101.1 L795.8 2101.0 L796.8 2101.0 L797.8 2100.9 L798.8 2100.9 L799.8 2100.9 L800.8 2100.8 L801.8 2100.8 L802.8 2100.7 L803.8 2100.7 L804.8 2100.7 L805.8 2100.6 L806.8 2100.6 L807.8 2100.6 L808.8 2100.5 L809.8 2100.5 L810.8 2100.5 L811.8 2100.4 L812.8 2100.4 L813.8 2100.4 L814.8 2100.3 L815.8 2100.3 L816.8 2100.3 L817.8 2100.2 L818.8 2100.2 L819.8 2100.2 L820.8 2100.2 L821.8 2100.1 L822.8 2100.1 L823.8 2100.1 L824.8 2100.0 L825.8 2100.0 L826.8 2100.0 L827.8 2100.0 L828.8 2099.9 L829.8 2099.9 L830.8 2099.9 L831.8 2099.9 L832.8 2099.8 L833.8 2099.8 L834.8 2099.8 L835.8 2099.8 L836.8 2099.7 L837.8 2099.7 L838.8 2099.7 L839.8 2099.7 L840.8 2099.6 L841.8 2099.6 L842.8 2099.6 L843.8 2099.6 L844.8 2099.6 L845.8 2099.5 L846.8 2099.5 L847.8 2099.5 L848.8 2099.5 L849.8 2099.5 L850.8 2099.4 L851.8 2099.4 L852.8 2099.4 L853.8 2099.4 L854.8 2099.4 L855.8 2099.3 L856.8 2099.3 L857.8 2099.3 L858.8 2099.3 L859.8 2099.3 L860.8 2099.3 L861.8 2099.2 L862.8 2099.2 L863.8 2099.2 L864.8 2099.2 L865.8 2099.2 L866.8 2099.1 L867.8 2099.1 L868.8 2099.1 L869.8 2099.1 L870.8 2099.1 L871.8 2099.1 L872.8 2099.1 L873.8 2099.0 L874.8 2099.0 L875.8 2099.0 L876.8 2099.0 L877.8 2099.0 L878.8 2099.0 L879.8 2098.9 L880.8 2098.9 L881.8 2098.9 L882.8 2098.9 L883.8 2098.9 L884.8 2098.9 L885.8 2098.9 L886.8 2098.8 L887.8 2098.8 L888.8 2098.8 L889.8 2098.8 L890.8 2098.8 L891.8 2098.8 L892.8 2098.8 L893.8 2098.8" stroke="#ff0000" stroke-width="2.9" fill="none" stroke-linejoin="round"/>
<path d="M156.8 1737.7 H894.0 V2410.0 H156.8 Z" fill="none" stroke="#000" stroke-width="3.2"/>
<text x="156.8" y="2449.0" font-size="27" font-weight="bold" text-anchor="middle" font-family='"Liberation Sans", sans-serif'>-4</text>
<line x1="248.9" y1="1737.7" x2="248.9" y2="1743.7" stroke="#000" stroke-width="3"/>
<line x1="248.9" y1="2410.0" x2="248.9" y2="2404.0" stroke="#000" stroke-width="3"/>
<line x1="341.1" y1="1737.7" x2="341.1" y2="1748.7" stroke="#000" stroke-width="3"/>
<line x1="341.1" y1="2410.0" x2="341.1" y2="2399.0" stroke="#000" stroke-width="3"/>
<text x="341.1" y="2449.0" font-size="27" font-weight="bold" text-anchor="middle" font-family='"Liberation Sans", sans-serif'>-2</text>
<line x1="433.2" y1="1737.7" x2="433.2" y2="1743.7" stroke="#000" stroke-width="3"/>
<line x1="433.2" y1="2410.0" x2="433.2" y2="2404.0" stroke="#000" stroke-width="3"/>
<line x1="525.4" y1="1737.7" x2="525.4" y2="1748.7" stroke="#000" stroke-width="3"/>
<line x1="525.4" y1="2410.0" x2="525.4" y2="2399.0" stroke="#000" stroke-width="3"/>
<text x="525.4" y="2449.0" font-size="27" font-weight="bold" text-anchor="middle" font-family='"Liberation Sans", sans-serif'>0</text>
<line x1="617.5" y1="1737.7" x2="617.5" y2="1743.7" stroke="#000" stroke-width="3"/>
<line x1="617.5" y1="2410.0" x2="617.5" y2="2404.0" stroke="#000" stroke-width="3"/>
<line x1="709.7" y1="1737.7" x2="709.7" y2="1748.7" stroke="#000" stroke-width="3"/>
<line x1="709.7" y1="2410.0" x2="709.7" y2="2399.0" stroke="#000" stroke-width="3"/>
<text x="709.7" y="2449.0" font-size="27" font-weight="bold" text-anchor="middle" font-family='"Liberation Sans", sans-serif'>2</text>
<line x1="801.9" y1="1737.7" x2="801.9" y2="1743.7" stroke="#000" stroke-width="3"/>
<line x1="801.9" y1="2410.0" x2="801.9" y2="2404.0" stroke="#000" stroke-width="3"/>
<text x="894.0" y="2449.0" font-size="27" font-weight="bold" text-anchor="middle" font-family='"Liberation Sans", sans-serif'>4</text>
<line x1="156.8" y1="2095.0" x2="164.8" y2="2095.0" stroke="#000" stroke-width="3"/>
<text x="146.0" y="2104.8" font-size="29.0" font-weight="bold" text-anchor="end" font-family='"Liberation Sans", sans-serif'>1.000</text>
<line x1="156.8" y1="2121.2" x2="160.8" y2="2121.2" stroke="#000" stroke-width="3"/>
<line x1="156.8" y1="2147.5" x2="164.8" y2="2147.5" stroke="#000" stroke-width="3"/>
<text x="146.0" y="2157.3" font-size="29.0" font-weight="bold" text-anchor="end" font-family='"Liberation Sans", sans-serif'>0.999</text>
<line x1="156.8" y1="2173.8" x2="160.8" y2="2173.8" stroke="#000" stroke-width="3"/>
<line x1="156.8" y1="2200.0" x2="164.8" y2="2200.0" stroke="#000" stroke-width="3"/>
<text x="146.0" y="2209.8" font-size="29.0" font-weight="bold" text-anchor="end" font-family='"Liberation Sans", sans-serif'>0.998</text>
<line x1="156.8" y1="2226.2" x2="160.8" y2="2226.2" stroke="#000" stroke-width="3"/>
<line x1="156.8" y1="2252.5" x2="164.8" y2="2252.5" stroke="#000" stroke-width="3"/>
<text x="146.0" y="2262.3" font-size="29.0" font-weight="bold" text-anchor="end" font-family='"Liberation Sans", sans-serif'>0.997</text>
<line x1="156.8" y1="2278.8" x2="160.8" y2="2278.8" stroke="#000" stroke-width="3"/>
<line x1="156.8" y1="2305.0" x2="164.8" y2="2305.0" stroke="#000" stroke-width="3"/>
<text x="146.0" y="2314.8" font-size="29.0" font-weight="bold" text-anchor="end" font-family='"Liberation Sans", sans-serif'>0.996</text>
<line x1="156.8" y1="2331.2" x2="160.8" y2="2331.2" stroke="#000" stroke-width="3"/>
<line x1="156.8" y1="2357.5" x2="164.8" y2="2357.5" stroke="#000" stroke-width="3"/>
<text x="146.0" y="2367.3" font-size="29.0" font-weight="bold" text-anchor="end" font-family='"Liberation Sans", sans-serif'>0.995</text>
<line x1="156.8" y1="2383.8" x2="160.8" y2="2383.8" stroke="#000" stroke-width="3"/>
<line x1="156.8" y1="2410.0" x2="164.8" y2="2410.0" stroke="#000" stroke-width="3"/>
<text x="146.0" y="2419.8" font-size="29.0" font-weight="bold" text-anchor="end" font-family='"Liberation Sans", sans-serif'>0.994</text>
<line x1="156.8" y1="2068.8" x2="160.8" y2="2068.8" stroke="#000" stroke-width="3"/>
<text x="888.4" y="1850.0" font-size="32" font-weight="bold" text-anchor="end" font-family='"Liberation Sans", sans-serif'>2</text>
<text x="889.2" y="1979.0" font-size="32" font-weight="bold" text-anchor="end" font-family='"Liberation Sans", sans-serif'>1</text>
<text x="184.0" y="2323.5" font-size="32" font-weight="bold" font-family='"Liberation Sans", sans-serif'>T = 77 K</text>
<text x="184.0" y="2364.2" font-size="32" font-weight="bold" font-family='"Liberation Sans", sans-serif'>B = 0 T</text>
<text transform="translate(29.7 2232.0) rotate(-90)" font-size="36" font-weight="bold" text-anchor="middle" font-family='"Liberation Sans", sans-serif'>rel. transmission</text>
<text x="531.0" y="2490.0" font-size="32" font-weight="bold" text-anchor="middle" font-family='"Liberation Sans", sans-serif'>velocity (mms<tspan font-size="20" dy="-12">-1</tspan><tspan dy="12">)</tspan></text>
<text x="11.0" y="1750.0" font-size="32" font-weight="bold" font-family='"Liberation Sans", sans-serif'>C</text>
</svg></body></html>
